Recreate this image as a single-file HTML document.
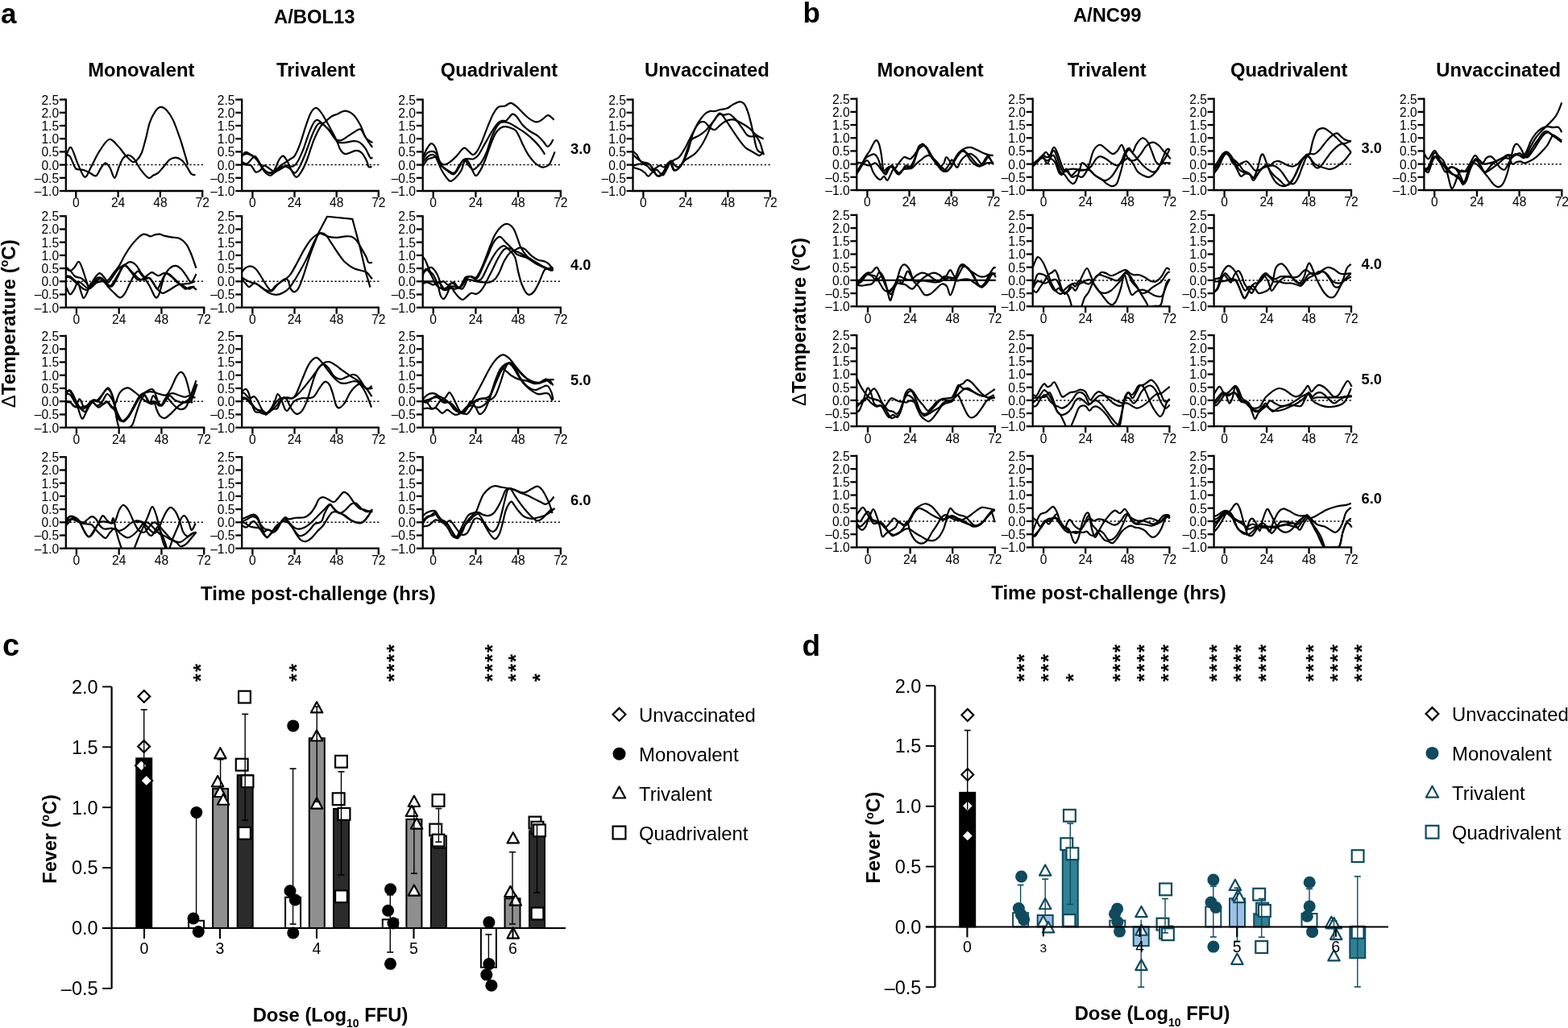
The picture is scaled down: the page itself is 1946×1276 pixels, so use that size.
<!DOCTYPE html>
<html><head><meta charset="utf-8"><title>Figure</title>
<style>html,body{margin:0;padding:0;background:#fff;}svg{display:block;}text{font-family:'Liberation Sans', Arial, Helvetica, sans-serif;fill:#000;}</style>
</head><body>
<svg width="1946" height="1276" viewBox="0 0 1946 1276">
<rect width="1946" height="1276" fill="#fff"/>
<text x="1" y="29.1" font-size="35" font-weight="bold" text-anchor="start">a</text>
<text x="390.3" y="29.1" font-size="23.8" font-weight="bold" text-anchor="middle">A/BOL13</text>
<text x="996.5" y="27.6" font-size="35" font-weight="bold" text-anchor="start">b</text>
<text x="1374.2" y="27.1" font-size="23.8" font-weight="bold" text-anchor="middle">A/NC99</text>
<text x="175.3" y="94.5" font-size="23.8" font-weight="bold" text-anchor="middle">Monovalent</text>
<text x="392" y="94.5" font-size="23.8" font-weight="bold" text-anchor="middle">Trivalent</text>
<text x="619.5" y="94.5" font-size="23.8" font-weight="bold" text-anchor="middle">Quadrivalent</text>
<text x="877.4" y="94.5" font-size="23.8" font-weight="bold" text-anchor="middle">Unvaccinated</text>
<text x="1154.5" y="95.3" font-size="23.8" font-weight="bold" text-anchor="middle">Monovalent</text>
<text x="1373.7" y="95.3" font-size="23.8" font-weight="bold" text-anchor="middle">Trivalent</text>
<text x="1599.7" y="95.3" font-size="23.8" font-weight="bold" text-anchor="middle">Quadrivalent</text>
<text x="1859.7" y="95.3" font-size="23.8" font-weight="bold" text-anchor="middle">Unvaccinated</text>
<text x="708" y="191.3" font-size="18.3" font-weight="bold" text-anchor="start">3.0</text>
<text x="708" y="334.8" font-size="18.3" font-weight="bold" text-anchor="start">4.0</text>
<text x="708" y="478" font-size="18.3" font-weight="bold" text-anchor="start">5.0</text>
<text x="708" y="626.6" font-size="18.3" font-weight="bold" text-anchor="start">6.0</text>
<text x="1689.5" y="190.1" font-size="18.3" font-weight="bold" text-anchor="start">3.0</text>
<text x="1689.5" y="334" font-size="18.3" font-weight="bold" text-anchor="start">4.0</text>
<text x="1689.5" y="476.8" font-size="18.3" font-weight="bold" text-anchor="start">5.0</text>
<text x="1689.5" y="625.4" font-size="18.3" font-weight="bold" text-anchor="start">6.0</text>
<text transform="translate(18.8 401.8) rotate(-90)" font-size="24.1" font-weight="bold" text-anchor="middle"><tspan font-weight="normal">Δ</tspan>Temperature (<tspan font-size="14" dy="-8.5">o</tspan><tspan dy="8.5">C)</tspan></text>
<text transform="translate(1000.2 399.5) rotate(-90)" font-size="24.1" font-weight="bold" text-anchor="middle"><tspan font-weight="normal">Δ</tspan>Temperature (<tspan font-size="14" dy="-8.5">o</tspan><tspan dy="8.5">C)</tspan></text>
<text x="394.9" y="744.6" font-size="24" font-weight="bold" text-anchor="middle">Time post-challenge (hrs)</text>
<text x="1376" y="743.6" font-size="24" font-weight="bold" text-anchor="middle">Time post-challenge (hrs)</text>
<line x1="81.8" y1="204.6" x2="252.2" y2="204.6" stroke="#000" stroke-width="1.5" stroke-dasharray="2.2 2.6"/>
<path d="M81.8 123.6V237H251.2" fill="none" stroke="#000" stroke-width="2.3" stroke-linejoin="miter" stroke-linecap="square"/>
<line x1="73.85" y1="237" x2="81.8" y2="237" stroke="#000" stroke-width="2.3"/>
<text transform="translate(73.1 242.9) scale(1 1.1)" font-size="15.6" text-anchor="end">–1.0</text>
<line x1="73.85" y1="220.8" x2="81.8" y2="220.8" stroke="#000" stroke-width="2.3"/>
<text transform="translate(73.1 226.7) scale(1 1.1)" font-size="15.6" text-anchor="end">–0.5</text>
<line x1="73.85" y1="204.6" x2="81.8" y2="204.6" stroke="#000" stroke-width="2.3"/>
<text transform="translate(73.1 210.5) scale(1 1.1)" font-size="15.6" text-anchor="end">0.0</text>
<line x1="73.85" y1="188.4" x2="81.8" y2="188.4" stroke="#000" stroke-width="2.3"/>
<text transform="translate(73.1 194.3) scale(1 1.1)" font-size="15.6" text-anchor="end">0.5</text>
<line x1="73.85" y1="172.2" x2="81.8" y2="172.2" stroke="#000" stroke-width="2.3"/>
<text transform="translate(73.1 178.1) scale(1 1.1)" font-size="15.6" text-anchor="end">1.0</text>
<line x1="73.85" y1="156" x2="81.8" y2="156" stroke="#000" stroke-width="2.3"/>
<text transform="translate(73.1 161.9) scale(1 1.1)" font-size="15.6" text-anchor="end">1.5</text>
<line x1="73.85" y1="139.8" x2="81.8" y2="139.8" stroke="#000" stroke-width="2.3"/>
<text transform="translate(73.1 145.7) scale(1 1.1)" font-size="15.6" text-anchor="end">2.0</text>
<line x1="73.85" y1="123.6" x2="81.8" y2="123.6" stroke="#000" stroke-width="2.3"/>
<text transform="translate(73.1 129.5) scale(1 1.1)" font-size="15.6" text-anchor="end">2.5</text>
<line x1="94.3" y1="237" x2="94.3" y2="244.95" stroke="#000" stroke-width="2.3"/>
<text transform="translate(94.3 257.3) scale(1 1.1)" font-size="15.6" text-anchor="middle">0</text>
<line x1="146.6" y1="237" x2="146.6" y2="244.95" stroke="#000" stroke-width="2.3"/>
<text transform="translate(146.6 257.3) scale(1 1.1)" font-size="15.6" text-anchor="middle">24</text>
<line x1="198.9" y1="237" x2="198.9" y2="244.95" stroke="#000" stroke-width="2.3"/>
<text transform="translate(198.9 257.3) scale(1 1.1)" font-size="15.6" text-anchor="middle">48</text>
<line x1="251.2" y1="237" x2="251.2" y2="244.95" stroke="#000" stroke-width="2.3"/>
<text transform="translate(251.2 257.3) scale(1 1.1)" font-size="15.6" text-anchor="middle">72</text>
<clipPath id="c1"><rect x="81.8" y="83.6" width="189.4" height="153.4"/></clipPath>
<g clip-path="url(#c1)" fill="none" stroke="#000" stroke-width="2.2" stroke-linejoin="round">
<path d="M81.11 197.19C82.22 194.79 85.22 181.78 87.79 182.8C90.36 183.83 93.62 197.19 96.53 203.36C99.44 209.53 102.52 219.12 105.26 219.8C108 220.49 109.97 212.78 112.97 207.47C115.97 202.16 119.48 193.68 123.25 187.94C127.02 182.2 131.64 174.07 135.58 173.04C139.52 172.01 143.63 178.61 146.89 181.78C150.14 184.94 152.2 188.88 155.11 192.05C158.02 195.22 161.96 199.59 164.36 200.79C166.76 201.99 167.61 201.05 169.5 199.25C171.38 197.45 173.78 194.45 175.66 190C177.55 185.54 179.09 178.86 180.8 172.53C182.52 166.19 183.89 157.8 185.94 151.97C188 146.15 190.91 140.75 193.14 137.58C195.36 134.41 197.08 133.13 199.3 132.96C201.53 132.79 203.93 133.9 206.5 136.55C209.07 139.21 211.98 143.24 214.72 148.89C217.46 154.54 220.71 164.13 222.94 170.47C225.17 176.81 226.37 181.26 228.08 186.91C229.79 192.57 232.36 201.47 233.22 204.39"/>
<path d="M80.6 192.05C81.62 192.4 84.62 191.37 86.76 194.11C88.9 196.85 91.47 205.79 93.44 208.5C95.41 211.2 96.87 209.92 98.58 210.35C100.3 210.78 101.67 210.43 103.72 211.07C105.78 211.7 108.35 212.95 110.92 214.15C113.49 215.35 116.74 219.2 119.14 218.26C121.54 217.32 123.33 211.15 125.3 208.5C127.27 205.84 129.07 202.33 130.96 202.33C132.84 202.33 134.73 205.41 136.61 208.5C138.49 211.58 140.38 221.17 142.26 220.83C144.15 220.49 146.12 210.55 147.91 206.44C149.71 202.33 151.17 198.48 153.05 196.16C154.94 193.85 156.99 192.4 159.22 192.57C161.45 192.74 163.84 194.19 166.41 197.19C168.98 200.19 171.64 206.61 174.64 210.55C177.63 214.49 181.83 219.63 184.4 220.83C186.97 222.03 188.08 218.77 190.05 217.75C192.02 216.72 193.99 216.55 196.22 214.66C198.45 212.78 201.02 209.18 203.41 206.44C205.81 203.7 208.12 200.02 210.61 198.22C213.09 196.42 215.75 195.48 218.32 195.65C220.88 195.82 223.71 197.28 226.02 199.25C228.34 201.22 230.31 204.73 232.19 207.47C234.07 210.21 235.62 214.06 237.33 215.69C239.04 217.32 241.61 216.98 242.47 217.23"/>
</g>
<line x1="300.2" y1="204.6" x2="470.8" y2="204.6" stroke="#000" stroke-width="1.5" stroke-dasharray="2.2 2.6"/>
<path d="M300.2 123.6V237H469.8" fill="none" stroke="#000" stroke-width="2.3" stroke-linejoin="miter" stroke-linecap="square"/>
<line x1="292.25" y1="237" x2="300.2" y2="237" stroke="#000" stroke-width="2.3"/>
<text transform="translate(291.5 242.9) scale(1 1.1)" font-size="15.6" text-anchor="end">–1.0</text>
<line x1="292.25" y1="220.8" x2="300.2" y2="220.8" stroke="#000" stroke-width="2.3"/>
<text transform="translate(291.5 226.7) scale(1 1.1)" font-size="15.6" text-anchor="end">–0.5</text>
<line x1="292.25" y1="204.6" x2="300.2" y2="204.6" stroke="#000" stroke-width="2.3"/>
<text transform="translate(291.5 210.5) scale(1 1.1)" font-size="15.6" text-anchor="end">0.0</text>
<line x1="292.25" y1="188.4" x2="300.2" y2="188.4" stroke="#000" stroke-width="2.3"/>
<text transform="translate(291.5 194.3) scale(1 1.1)" font-size="15.6" text-anchor="end">0.5</text>
<line x1="292.25" y1="172.2" x2="300.2" y2="172.2" stroke="#000" stroke-width="2.3"/>
<text transform="translate(291.5 178.1) scale(1 1.1)" font-size="15.6" text-anchor="end">1.0</text>
<line x1="292.25" y1="156" x2="300.2" y2="156" stroke="#000" stroke-width="2.3"/>
<text transform="translate(291.5 161.9) scale(1 1.1)" font-size="15.6" text-anchor="end">1.5</text>
<line x1="292.25" y1="139.8" x2="300.2" y2="139.8" stroke="#000" stroke-width="2.3"/>
<text transform="translate(291.5 145.7) scale(1 1.1)" font-size="15.6" text-anchor="end">2.0</text>
<line x1="292.25" y1="123.6" x2="300.2" y2="123.6" stroke="#000" stroke-width="2.3"/>
<text transform="translate(291.5 129.5) scale(1 1.1)" font-size="15.6" text-anchor="end">2.5</text>
<line x1="313.4" y1="237" x2="313.4" y2="244.95" stroke="#000" stroke-width="2.3"/>
<text transform="translate(313.4 257.3) scale(1 1.1)" font-size="15.6" text-anchor="middle">0</text>
<line x1="365.53" y1="237" x2="365.53" y2="244.95" stroke="#000" stroke-width="2.3"/>
<text transform="translate(365.53 257.3) scale(1 1.1)" font-size="15.6" text-anchor="middle">24</text>
<line x1="417.67" y1="237" x2="417.67" y2="244.95" stroke="#000" stroke-width="2.3"/>
<text transform="translate(417.67 257.3) scale(1 1.1)" font-size="15.6" text-anchor="middle">48</text>
<line x1="469.8" y1="237" x2="469.8" y2="244.95" stroke="#000" stroke-width="2.3"/>
<text transform="translate(469.8 257.3) scale(1 1.1)" font-size="15.6" text-anchor="middle">72</text>
<clipPath id="c2"><rect x="300.2" y="83.6" width="189.6" height="153.4"/></clipPath>
<g clip-path="url(#c2)" fill="none" stroke="#000" stroke-width="2.2" stroke-linejoin="round">
<path d="M298.08 198.22C299.11 196.68 302.02 190 304.25 188.97C306.48 187.94 309.05 190.68 311.44 192.05C313.84 193.42 316.24 194.45 318.64 197.19C321.04 199.93 323.26 205.59 325.83 208.5C328.4 211.41 331.49 214.15 334.05 214.66C336.62 215.18 338.85 213.12 341.25 211.58C343.65 210.04 346.22 207.13 348.44 205.41C350.67 203.7 352.55 202.67 354.61 201.3C356.66 199.93 358.89 198.56 360.78 197.19C362.66 195.82 364.03 195.99 365.91 193.08C367.8 190.17 369.85 185.72 372.08 179.72C374.31 173.73 377.05 163.62 379.28 157.11C381.5 150.6 383.39 144.52 385.44 140.67C387.5 136.81 389.55 134.33 391.61 133.99C393.66 133.64 395.38 135.61 397.77 138.61C400.17 141.61 403.43 147.52 406 151.97C408.57 156.42 411.14 161.39 413.19 165.33C415.25 169.27 416.79 172.18 418.33 175.61C419.87 179.04 420.73 183.32 422.44 185.89C424.15 188.46 425.35 190.85 428.61 191.03C431.86 191.2 438.54 187.09 441.97 186.91C445.39 186.74 446.94 187.77 449.16 190C451.39 192.22 453.96 197.45 455.33 200.28C456.7 203.1 456.36 205.84 457.38 206.96C458.41 208.07 460.81 206.96 461.5 206.96"/>
<path d="M298.08 194.11C299.28 193.6 302.88 191.2 305.28 191.03C307.68 190.85 310.24 191.88 312.47 193.08C314.7 194.28 316.58 195.82 318.64 198.22C320.69 200.62 322.75 204.9 324.8 207.47C326.86 210.04 328.74 212.44 330.97 213.64C333.2 214.84 335.77 215.01 338.17 214.66C340.56 214.32 343.3 212.61 345.36 211.58C347.42 210.55 348.61 209.53 350.5 208.5C352.38 207.47 354.44 205.76 356.66 205.41C358.89 205.07 361.8 207.13 363.86 206.44C365.91 205.76 366.94 204.73 369 201.3C371.05 197.88 373.79 191.88 376.19 185.89C378.59 179.89 381.16 170.98 383.39 165.33C385.61 159.68 387.84 154.71 389.55 151.97C391.27 149.23 391.95 148.72 393.66 148.89C395.38 149.06 397.43 150.94 399.83 153C402.23 155.05 405.31 157.97 408.05 161.22C410.79 164.48 413.71 170.39 416.27 172.53C418.84 174.67 420.73 174.75 423.47 174.07C426.21 173.38 429.12 170.64 432.72 168.42C436.32 166.19 442.31 161.73 445.05 160.71C447.79 159.68 447.62 160.45 449.16 162.25C450.7 164.05 452.07 169.01 454.3 171.5C456.53 173.98 461.15 176.21 462.52 177.15"/>
<path d="M299.11 200.28C300.31 200.79 304.25 203.7 306.31 203.36C308.36 203.02 309.73 199.76 311.44 198.22C313.16 196.68 314.87 193.6 316.58 194.11C318.3 194.62 319.84 198.22 321.72 201.3C323.61 204.39 325.66 209.87 327.89 212.61C330.11 215.35 333.03 217.4 335.08 217.75C337.14 218.09 338.34 216.21 340.22 214.66C342.11 213.12 344.33 209.87 346.39 208.5C348.44 207.13 350.5 206.44 352.55 206.44C354.61 206.44 356.49 207.13 358.72 208.5C360.95 209.87 363.69 215.01 365.91 214.66C368.14 214.32 369.85 210.55 372.08 206.44C374.31 202.33 376.71 196.51 379.28 190C381.84 183.49 385.1 173.21 387.5 167.39C389.9 161.56 391.95 157.45 393.66 155.05C395.38 152.66 396.23 152.83 397.77 153C399.32 153.17 400.86 154.37 402.91 156.08C404.97 157.8 407.54 160.02 410.11 163.28C412.68 166.53 415.59 173.3 418.33 175.61C421.07 177.92 423.13 177.24 426.55 177.15C429.98 177.07 435.63 175.18 438.88 175.1C442.14 175.01 443.68 175.18 446.08 176.64C448.48 178.09 451.05 180.66 453.27 183.83C455.5 187 457.9 193.68 459.44 195.65C460.98 197.62 462.01 195.65 462.52 195.65"/>
<path d="M298.08 201.3C299.11 201.82 302.02 203.7 304.25 204.39C306.48 205.07 309.22 203.87 311.44 205.41C313.67 206.96 315.55 212.78 317.61 213.64C319.67 214.49 322.06 211.92 323.78 210.55C325.49 209.18 325.83 205.41 327.89 205.41C329.94 205.41 334.05 209.53 336.11 210.55C338.17 211.58 338.51 213.64 340.22 211.58C341.93 209.53 344.5 201.22 346.39 198.22C348.27 195.22 349.81 193.25 351.53 193.6C353.24 193.94 354.95 197.28 356.66 200.28C358.38 203.27 360.01 208.33 361.8 211.58C363.6 214.84 365.57 219.29 367.46 219.8C369.34 220.32 370.97 217.92 373.11 214.66C375.25 211.41 377.56 207.13 380.3 200.28C383.04 193.42 386.64 180.75 389.55 173.55C392.46 166.36 395.38 160.88 397.77 157.11C400.17 153.34 401.71 153 403.94 150.94C406.17 148.89 408.74 146.32 411.14 144.78C413.53 143.24 415.42 142.89 418.33 141.69C421.24 140.49 425.18 137.41 428.61 137.58C432.03 137.75 435.8 139.81 438.88 142.72C441.97 145.63 444.88 150.94 447.11 155.05C449.33 159.17 450.7 164.13 452.25 167.39C453.79 170.64 454.73 172.01 456.36 174.58C457.98 177.15 461.07 181.43 462.01 182.8"/>
</g>
<line x1="524.7" y1="204.6" x2="696.8" y2="204.6" stroke="#000" stroke-width="1.5" stroke-dasharray="2.2 2.6"/>
<path d="M524.7 123.6V237H695.8" fill="none" stroke="#000" stroke-width="2.3" stroke-linejoin="miter" stroke-linecap="square"/>
<line x1="516.75" y1="237" x2="524.7" y2="237" stroke="#000" stroke-width="2.3"/>
<text transform="translate(516 242.9) scale(1 1.1)" font-size="15.6" text-anchor="end">–1.0</text>
<line x1="516.75" y1="220.8" x2="524.7" y2="220.8" stroke="#000" stroke-width="2.3"/>
<text transform="translate(516 226.7) scale(1 1.1)" font-size="15.6" text-anchor="end">–0.5</text>
<line x1="516.75" y1="204.6" x2="524.7" y2="204.6" stroke="#000" stroke-width="2.3"/>
<text transform="translate(516 210.5) scale(1 1.1)" font-size="15.6" text-anchor="end">0.0</text>
<line x1="516.75" y1="188.4" x2="524.7" y2="188.4" stroke="#000" stroke-width="2.3"/>
<text transform="translate(516 194.3) scale(1 1.1)" font-size="15.6" text-anchor="end">0.5</text>
<line x1="516.75" y1="172.2" x2="524.7" y2="172.2" stroke="#000" stroke-width="2.3"/>
<text transform="translate(516 178.1) scale(1 1.1)" font-size="15.6" text-anchor="end">1.0</text>
<line x1="516.75" y1="156" x2="524.7" y2="156" stroke="#000" stroke-width="2.3"/>
<text transform="translate(516 161.9) scale(1 1.1)" font-size="15.6" text-anchor="end">1.5</text>
<line x1="516.75" y1="139.8" x2="524.7" y2="139.8" stroke="#000" stroke-width="2.3"/>
<text transform="translate(516 145.7) scale(1 1.1)" font-size="15.6" text-anchor="end">2.0</text>
<line x1="516.75" y1="123.6" x2="524.7" y2="123.6" stroke="#000" stroke-width="2.3"/>
<text transform="translate(516 129.5) scale(1 1.1)" font-size="15.6" text-anchor="end">2.5</text>
<line x1="537.7" y1="237" x2="537.7" y2="244.95" stroke="#000" stroke-width="2.3"/>
<text transform="translate(537.7 257.3) scale(1 1.1)" font-size="15.6" text-anchor="middle">0</text>
<line x1="590.4" y1="237" x2="590.4" y2="244.95" stroke="#000" stroke-width="2.3"/>
<text transform="translate(590.4 257.3) scale(1 1.1)" font-size="15.6" text-anchor="middle">24</text>
<line x1="643.1" y1="237" x2="643.1" y2="244.95" stroke="#000" stroke-width="2.3"/>
<text transform="translate(643.1 257.3) scale(1 1.1)" font-size="15.6" text-anchor="middle">48</text>
<line x1="695.8" y1="237" x2="695.8" y2="244.95" stroke="#000" stroke-width="2.3"/>
<text transform="translate(695.8 257.3) scale(1 1.1)" font-size="15.6" text-anchor="middle">72</text>
<clipPath id="c3"><rect x="524.7" y="83.6" width="191.1" height="153.4"/></clipPath>
<g clip-path="url(#c3)" fill="none" stroke="#000" stroke-width="2.2" stroke-linejoin="round">
<path d="M524.62 195.14C525.57 193.25 528.48 186.66 530.28 183.83C532.08 181.01 533.7 178.18 535.42 178.18C537.13 178.18 538.84 180.15 540.55 183.83C542.27 187.51 543.98 196.85 545.69 200.28C547.41 203.7 548.78 204.22 550.83 204.39C552.89 204.56 555.46 203.02 558.03 201.3C560.6 199.59 563.34 197.02 566.25 194.11C569.16 191.2 573.1 185.03 575.5 183.83C577.9 182.63 578.75 185.54 580.64 186.91C582.52 188.29 584.92 191.88 586.8 192.05C588.69 192.22 590.06 190.68 591.94 187.94C593.83 185.2 595.88 180.75 598.11 175.61C600.34 170.47 603.08 162.59 605.3 157.11C607.53 151.63 609.41 146.66 611.47 142.72C613.53 138.78 615.75 135.27 617.64 133.47C619.52 131.67 621.23 132.27 622.77 131.93C624.32 131.59 625 132.1 626.89 131.42C628.77 130.73 631.68 127.65 634.08 127.82C636.48 127.99 638.71 130.3 641.27 132.44C643.84 134.59 646.76 138.1 649.5 140.67C652.24 143.24 654.98 146.06 657.72 147.86C660.46 149.66 663.54 151.29 665.94 151.46C668.34 151.63 669.88 150.26 672.11 148.89C674.33 147.52 677.42 143.92 679.3 143.24C681.19 142.55 682.04 143.83 683.41 144.78C684.78 145.72 686.84 148.2 687.52 148.89"/>
<path d="M524.62 198.22C525.57 196.85 528.31 191.71 530.28 190C532.25 188.29 534.56 187.77 536.44 187.94C538.33 188.11 539.87 188.29 541.58 191.03C543.3 193.77 544.84 201.3 546.72 204.39C548.61 207.47 550.15 207.81 552.89 209.53C555.63 211.24 560.42 215.18 563.17 214.66C565.91 214.15 567.28 209.18 569.33 206.44C571.39 203.7 573.44 199.76 575.5 198.22C577.55 196.68 579.61 197.36 581.66 197.19C583.72 197.02 585.78 198.05 587.83 197.19C589.89 196.34 591.6 195.31 594 192.05C596.4 188.8 599.48 182.46 602.22 177.66C604.96 172.87 607.87 167.39 610.44 163.28C613.01 159.17 615.58 155.23 617.64 153C619.69 150.77 621.06 150.43 622.77 149.92C624.49 149.4 626.54 150.43 627.91 149.92C629.28 149.4 629.63 148.2 631 146.83C632.37 145.46 634.42 142.04 636.14 141.69C637.85 141.35 639.22 142.55 641.27 144.78C643.33 147 645.9 152.14 648.47 155.05C651.04 157.97 653.61 160.02 656.69 162.25C659.77 164.48 664.06 166.19 666.97 168.42C669.88 170.64 672.11 173.38 674.16 175.61C676.22 177.84 677.76 181.26 679.3 181.78C680.84 182.29 682.21 180.15 683.41 178.69C684.61 177.24 685.98 173.98 686.5 173.04"/>
<path d="M524.62 201.3C525.74 200.1 529.16 195.65 531.31 194.11C533.45 192.57 535.42 191.54 537.47 192.05C539.53 192.57 541.75 194.79 543.64 197.19C545.52 199.59 546.72 203.87 548.78 206.44C550.83 209.01 553.57 210.98 555.97 212.61C558.37 214.24 560.94 216.89 563.17 216.21C565.39 215.52 567.28 211.5 569.33 208.5C571.39 205.5 573.44 198.73 575.5 198.22C577.55 197.71 579.78 203.36 581.66 205.41C583.55 207.47 585.09 210.21 586.8 210.55C588.52 210.9 590.06 209.18 591.94 207.47C593.83 205.76 596.05 203.53 598.11 200.28C600.16 197.02 602.22 193.08 604.28 187.94C606.33 182.8 608.39 174.58 610.44 169.44C612.5 164.3 614.72 160.02 616.61 157.11C618.49 154.2 619.35 152.74 621.75 151.97C624.15 151.2 627.74 151.46 631 152.49C634.25 153.51 637.51 155.83 641.27 158.14C645.04 160.45 649.84 163.45 653.61 166.36C657.38 169.27 660.97 172.7 663.88 175.61C666.8 178.52 669.02 181.18 671.08 183.83C673.13 186.49 675.36 190.25 676.22 191.54"/>
<path d="M524.62 206.44C525.57 205.07 528.48 199.93 530.28 198.22C532.08 196.51 533.7 196.68 535.42 196.16C537.13 195.65 539.18 194.28 540.55 195.14C541.93 195.99 542.44 198.73 543.64 201.3C544.84 203.87 546.21 207.64 547.75 210.55C549.29 213.46 551 216.38 552.89 218.77C554.77 221.17 556.83 224.77 559.05 224.94C561.28 225.11 564.02 222.03 566.25 219.8C568.48 217.58 570.53 215.18 572.42 211.58C574.3 207.98 575.84 199.59 577.55 198.22C579.27 196.85 580.64 200.1 582.69 203.36C584.75 206.61 587.66 216.38 589.89 217.75C592.11 219.12 594 214.84 596.05 211.58C598.11 208.33 600.16 203.36 602.22 198.22C604.28 193.08 606.33 186.06 608.39 180.75C610.44 175.44 612.5 169.96 614.55 166.36C616.61 162.76 618.66 160.71 620.72 159.17C622.77 157.62 624.49 157.11 626.89 157.11C629.28 157.11 632.88 158.31 635.11 159.17C637.33 160.02 638.71 160.54 640.25 162.25C641.79 163.96 642.82 166.36 644.36 169.44C645.9 172.53 647.61 176.98 649.5 180.75C651.38 184.52 653.26 188.46 655.66 192.05C658.06 195.65 661.49 199.93 663.88 202.33C666.28 204.73 668.17 205.59 670.05 206.44C671.94 207.3 673.31 207.81 675.19 207.47C677.07 207.13 679.64 206.27 681.36 204.39C683.07 202.5 684.27 198.82 685.47 196.16C686.67 193.51 688.04 189.74 688.55 188.46"/>
</g>
<line x1="785.5" y1="204.6" x2="956.9" y2="204.6" stroke="#000" stroke-width="1.5" stroke-dasharray="2.2 2.6"/>
<path d="M785.5 123.6V237H955.9" fill="none" stroke="#000" stroke-width="2.3" stroke-linejoin="miter" stroke-linecap="square"/>
<line x1="777.55" y1="237" x2="785.5" y2="237" stroke="#000" stroke-width="2.3"/>
<text transform="translate(776.8 242.9) scale(1 1.1)" font-size="15.6" text-anchor="end">–1.0</text>
<line x1="777.55" y1="220.8" x2="785.5" y2="220.8" stroke="#000" stroke-width="2.3"/>
<text transform="translate(776.8 226.7) scale(1 1.1)" font-size="15.6" text-anchor="end">–0.5</text>
<line x1="777.55" y1="204.6" x2="785.5" y2="204.6" stroke="#000" stroke-width="2.3"/>
<text transform="translate(776.8 210.5) scale(1 1.1)" font-size="15.6" text-anchor="end">0.0</text>
<line x1="777.55" y1="188.4" x2="785.5" y2="188.4" stroke="#000" stroke-width="2.3"/>
<text transform="translate(776.8 194.3) scale(1 1.1)" font-size="15.6" text-anchor="end">0.5</text>
<line x1="777.55" y1="172.2" x2="785.5" y2="172.2" stroke="#000" stroke-width="2.3"/>
<text transform="translate(776.8 178.1) scale(1 1.1)" font-size="15.6" text-anchor="end">1.0</text>
<line x1="777.55" y1="156" x2="785.5" y2="156" stroke="#000" stroke-width="2.3"/>
<text transform="translate(776.8 161.9) scale(1 1.1)" font-size="15.6" text-anchor="end">1.5</text>
<line x1="777.55" y1="139.8" x2="785.5" y2="139.8" stroke="#000" stroke-width="2.3"/>
<text transform="translate(776.8 145.7) scale(1 1.1)" font-size="15.6" text-anchor="end">2.0</text>
<line x1="777.55" y1="123.6" x2="785.5" y2="123.6" stroke="#000" stroke-width="2.3"/>
<text transform="translate(776.8 129.5) scale(1 1.1)" font-size="15.6" text-anchor="end">2.5</text>
<line x1="798.4" y1="237" x2="798.4" y2="244.95" stroke="#000" stroke-width="2.3"/>
<text transform="translate(798.4 257.3) scale(1 1.1)" font-size="15.6" text-anchor="middle">0</text>
<line x1="850.9" y1="237" x2="850.9" y2="244.95" stroke="#000" stroke-width="2.3"/>
<text transform="translate(850.9 257.3) scale(1 1.1)" font-size="15.6" text-anchor="middle">24</text>
<line x1="903.4" y1="237" x2="903.4" y2="244.95" stroke="#000" stroke-width="2.3"/>
<text transform="translate(903.4 257.3) scale(1 1.1)" font-size="15.6" text-anchor="middle">48</text>
<line x1="955.9" y1="237" x2="955.9" y2="244.95" stroke="#000" stroke-width="2.3"/>
<text transform="translate(955.9 257.3) scale(1 1.1)" font-size="15.6" text-anchor="middle">72</text>
<clipPath id="c4"><rect x="785.5" y="83.6" width="190.4" height="153.4"/></clipPath>
<g clip-path="url(#c4)" fill="none" stroke="#000" stroke-width="2.2" stroke-linejoin="round">
<path d="M785.65 187.94C786.42 188.63 788.65 190 790.28 192.05C791.9 194.11 793.02 198.48 795.42 200.28C797.81 202.07 802.27 201.47 804.67 202.84C807.06 204.22 807.92 205.93 809.8 208.5C811.69 211.07 813.74 217.4 815.97 218.26C818.2 219.12 820.94 216.12 823.17 213.64C825.39 211.15 827.28 205.76 829.33 203.36C831.39 200.96 833.27 200.62 835.5 199.25C837.73 197.88 840.64 197.02 842.69 195.14C844.75 193.25 846.12 190.68 847.83 187.94C849.54 185.2 850.91 182.63 852.97 178.69C855.03 174.75 857.77 168.93 860.16 164.3C862.56 159.68 864.96 154.71 867.36 150.94C869.76 147.18 872.33 143.83 874.55 141.69C876.78 139.55 878.66 138.7 880.72 138.1C882.77 137.5 884.66 138.44 886.89 138.1C889.11 137.75 891.51 136.64 894.08 136.04C896.65 135.44 899.73 135.53 902.3 134.5C904.87 133.47 906.93 131.24 909.5 129.87C912.07 128.5 915.32 126.36 917.72 126.28C920.12 126.19 922 126.79 923.88 129.36C925.77 131.93 927.31 136.21 929.02 141.69C930.74 147.18 932.62 155.57 934.16 162.25C935.7 168.93 937.07 177.49 938.27 181.78C939.47 186.06 939.82 186.57 941.36 187.94C942.9 189.31 946.5 189.66 947.52 190"/>
<path d="M784.11 206.44C785.31 206.01 789.08 204.39 791.31 203.87C793.53 203.36 795.42 202.93 797.47 203.36C799.53 203.79 801.75 205.07 803.64 206.44C805.52 207.81 807.06 211.24 808.78 211.58C810.49 211.92 812.2 209.53 813.92 208.5C815.63 207.47 817.34 205.59 819.05 205.41C820.77 205.24 822.48 207.98 824.19 207.47C825.91 206.96 827.79 203.62 829.33 202.33C830.87 201.05 831.9 199.08 833.44 199.76C834.98 200.45 836.87 205.33 838.58 206.44C840.29 207.56 842.18 207.47 843.72 206.44C845.26 205.41 846.29 203.7 847.83 200.28C849.37 196.85 851.26 190.34 852.97 185.89C854.68 181.43 855.71 176.47 858.11 173.55C860.51 170.64 864.45 170.3 867.36 168.42C870.27 166.53 873.18 164.48 875.58 162.25C877.98 160.02 879.86 157.28 881.75 155.05C883.63 152.83 885 151.29 886.89 148.89C888.77 146.49 891 141.01 893.05 140.67C895.11 140.32 896.48 143.24 899.22 146.83C901.96 150.43 906.24 157.45 909.5 162.25C912.75 167.04 916.01 172.01 918.75 175.61C921.49 179.21 923.54 181.78 925.94 183.83C928.34 185.89 931.08 186.74 933.13 187.94C935.19 189.14 936.73 190.17 938.27 191.03C939.82 191.88 940.84 193.42 942.38 193.08C943.93 192.74 946.67 189.66 947.52 188.97"/>
<path d="M784.11 207.47C785.82 207.98 791.65 209.35 794.39 210.55C797.13 211.75 798.84 213.29 800.55 214.66C802.27 216.03 803.12 218.95 804.67 218.77C806.21 218.6 808.09 215.01 809.8 213.64C811.52 212.27 813.4 210.38 814.94 210.55C816.49 210.72 817.68 213.55 819.05 214.66C820.42 215.78 821.62 218.26 823.17 217.23C824.71 216.21 826.76 211.15 828.3 208.5C829.85 205.84 831.04 200.96 832.42 201.3C833.79 201.65 834.98 209.18 836.53 210.55C838.07 211.92 839.78 211.07 841.66 209.53C843.55 207.98 845.78 205.07 847.83 201.3C849.89 197.53 851.94 192.91 854 186.91C856.05 180.92 857.94 170.98 860.16 165.33C862.39 159.68 864.96 155.31 867.36 153C869.76 150.69 872.5 150.77 874.55 151.46C876.61 152.14 878.15 155.65 879.69 157.11C881.23 158.57 882.43 159.59 883.8 160.19C885.17 160.79 886.2 161.56 887.91 160.71C889.63 159.85 891.85 156.85 894.08 155.05C896.31 153.26 898.71 151.03 901.27 149.92C903.84 148.8 906.58 148.03 909.5 148.37C912.41 148.72 915.32 150.17 918.75 151.97C922.17 153.77 926.8 156.6 930.05 159.17C933.31 161.73 935.36 165.16 938.27 167.39C941.19 169.61 945.98 171.67 947.52 172.53"/>
<path d="M785.65 192.05C786.77 193.08 789.85 196.34 792.33 198.22C794.82 200.1 798.16 202.33 800.55 203.36C802.95 204.39 805.01 202.84 806.72 204.39C808.43 205.93 809.12 210.21 810.83 212.61C812.55 215.01 815.11 218.26 817 218.77C818.88 219.29 820.42 217.75 822.14 215.69C823.85 213.64 825.73 208.84 827.28 206.44C828.82 204.04 829.85 200.45 831.39 201.3C832.93 202.16 834.64 210.38 836.53 211.58C838.41 212.78 840.47 210.55 842.69 208.5C844.92 206.44 846.63 202.16 849.89 199.25C853.14 196.34 858.79 194.11 862.22 191.03C865.65 187.94 867.87 184.69 870.44 180.75C873.01 176.81 875.58 171.67 877.64 167.39C879.69 163.11 881.06 158.48 882.77 155.05C884.49 151.63 886.2 149.06 887.91 146.83C889.63 144.61 891.34 142.38 893.05 141.69C894.77 141.01 896.14 142.72 898.19 142.72C900.25 142.72 902.99 140.84 905.39 141.69C907.78 142.55 910.18 145.29 912.58 147.86C914.98 150.43 917.38 153.86 919.77 157.11C922.17 160.36 924.91 165.33 926.97 167.39C929.02 169.44 930.22 169.1 932.11 169.44C933.99 169.79 936.39 168.07 938.27 169.44C940.16 170.81 942.04 174.58 943.41 177.66C944.78 180.75 945.72 185.54 946.5 187.94C947.27 190.34 947.78 191.37 948.04 192.05"/>
</g>
<line x1="81.8" y1="349.3" x2="254.2" y2="349.3" stroke="#000" stroke-width="1.5" stroke-dasharray="2.2 2.6"/>
<path d="M81.8 268.3V381.7H253.2" fill="none" stroke="#000" stroke-width="2.3" stroke-linejoin="miter" stroke-linecap="square"/>
<line x1="73.85" y1="381.7" x2="81.8" y2="381.7" stroke="#000" stroke-width="2.3"/>
<text transform="translate(73.1 387.6) scale(1 1.1)" font-size="15.6" text-anchor="end">–1.0</text>
<line x1="73.85" y1="365.5" x2="81.8" y2="365.5" stroke="#000" stroke-width="2.3"/>
<text transform="translate(73.1 371.4) scale(1 1.1)" font-size="15.6" text-anchor="end">–0.5</text>
<line x1="73.85" y1="349.3" x2="81.8" y2="349.3" stroke="#000" stroke-width="2.3"/>
<text transform="translate(73.1 355.2) scale(1 1.1)" font-size="15.6" text-anchor="end">0.0</text>
<line x1="73.85" y1="333.1" x2="81.8" y2="333.1" stroke="#000" stroke-width="2.3"/>
<text transform="translate(73.1 339) scale(1 1.1)" font-size="15.6" text-anchor="end">0.5</text>
<line x1="73.85" y1="316.9" x2="81.8" y2="316.9" stroke="#000" stroke-width="2.3"/>
<text transform="translate(73.1 322.8) scale(1 1.1)" font-size="15.6" text-anchor="end">1.0</text>
<line x1="73.85" y1="300.7" x2="81.8" y2="300.7" stroke="#000" stroke-width="2.3"/>
<text transform="translate(73.1 306.6) scale(1 1.1)" font-size="15.6" text-anchor="end">1.5</text>
<line x1="73.85" y1="284.5" x2="81.8" y2="284.5" stroke="#000" stroke-width="2.3"/>
<text transform="translate(73.1 290.4) scale(1 1.1)" font-size="15.6" text-anchor="end">2.0</text>
<line x1="73.85" y1="268.3" x2="81.8" y2="268.3" stroke="#000" stroke-width="2.3"/>
<text transform="translate(73.1 274.2) scale(1 1.1)" font-size="15.6" text-anchor="end">2.5</text>
<line x1="94.9" y1="381.7" x2="94.9" y2="389.65" stroke="#000" stroke-width="2.3"/>
<text transform="translate(94.9 402) scale(1 1.1)" font-size="15.6" text-anchor="middle">0</text>
<line x1="147.67" y1="381.7" x2="147.67" y2="389.65" stroke="#000" stroke-width="2.3"/>
<text transform="translate(147.67 402) scale(1 1.1)" font-size="15.6" text-anchor="middle">24</text>
<line x1="200.43" y1="381.7" x2="200.43" y2="389.65" stroke="#000" stroke-width="2.3"/>
<text transform="translate(200.43 402) scale(1 1.1)" font-size="15.6" text-anchor="middle">48</text>
<line x1="253.2" y1="381.7" x2="253.2" y2="389.65" stroke="#000" stroke-width="2.3"/>
<text transform="translate(253.2 402) scale(1 1.1)" font-size="15.6" text-anchor="middle">72</text>
<clipPath id="c5"><rect x="81.8" y="228.3" width="191.4" height="153.4"/></clipPath>
<g clip-path="url(#c5)" fill="none" stroke="#000" stroke-width="2.2" stroke-linejoin="round">
<path d="M80.08 329.89C81.28 330.91 85.05 333.83 87.28 336.05C89.5 338.28 91.22 341.71 93.44 343.25C95.67 344.79 98.41 344.1 100.64 345.3C102.87 346.5 104.92 348.39 106.8 350.44C108.69 352.5 109.72 357.64 111.94 357.64C114.17 357.64 117.42 351.98 120.17 350.44C122.91 348.9 125.99 348.9 128.39 348.39C130.79 347.87 132.5 348.9 134.55 347.36C136.61 345.82 138.49 342.05 140.72 339.14C142.95 336.22 145.52 333.66 147.91 329.89C150.31 326.12 152.54 320.81 155.11 316.53C157.68 312.24 160.59 307.79 163.33 304.19C166.07 300.6 169.15 297.17 171.55 294.94C173.95 292.72 176.01 291.43 177.72 290.83C179.43 290.23 180.29 290.92 181.83 291.35C183.37 291.77 185.26 293.4 186.97 293.4C188.68 293.4 190.22 291.81 192.11 291.35C193.99 290.88 196.22 290.37 198.27 290.63C200.33 290.88 202.04 292.25 204.44 292.89C206.84 293.52 209.58 293.92 212.66 294.43C215.75 294.94 219.86 294.52 222.94 295.97C226.02 297.43 228.76 299.91 231.16 303.17C233.56 306.42 235.27 310.53 237.33 315.5C239.38 320.47 242.47 330.06 243.5 332.97"/>
<path d="M80.08 331.94C81.28 332.63 85.22 336.05 87.28 336.05C89.33 336.05 90.7 333.83 92.42 331.94C94.13 330.06 96.01 324.75 97.55 324.75C99.1 324.75 100.12 328.17 101.67 331.94C103.21 335.71 105.26 343.08 106.8 347.36C108.35 351.64 109.37 357.64 110.92 357.64C112.46 357.64 114 350.44 116.05 347.36C118.11 344.28 121.02 339.65 123.25 339.14C125.48 338.62 127.53 342.39 129.42 344.28C131.3 346.16 132.67 350.78 134.55 350.44C136.44 350.1 138.66 344.96 140.72 342.22C142.78 339.48 144.49 336.22 146.89 334C149.29 331.77 152.54 328.35 155.11 328.86C157.68 329.37 159.91 334.17 162.3 337.08C164.7 339.99 167.44 344.62 169.5 346.33C171.55 348.04 172.92 347.7 174.64 347.36C176.35 347.02 178.06 345.47 179.77 344.28C181.49 343.08 183.37 341.19 184.91 340.16C186.46 339.14 187.14 337.77 189.02 338.11C190.91 338.45 193.82 342.05 196.22 342.22C198.62 342.39 201.36 339.48 203.41 339.14C205.47 338.79 206.84 339.31 208.55 340.16C210.26 341.02 211.64 342.39 213.69 344.28C215.75 346.16 218.66 349.76 220.88 351.47C223.11 353.18 224.82 353.35 227.05 354.55C229.28 355.75 232.19 358.32 234.25 358.66C236.3 359.01 237.76 356.44 239.38 356.61C241.01 356.78 243.24 359.18 244.01 359.69"/>
<path d="M80.08 352.5C80.6 353.53 81.97 356.52 83.17 358.66C84.37 360.81 85.74 365.34 87.28 365.34C88.82 365.34 90.87 361.15 92.42 358.66C93.96 356.18 95.16 349.76 96.53 350.44C97.9 351.13 99.44 359.52 100.64 362.77C101.84 366.03 102.52 369.8 103.72 369.97C104.92 370.14 106.29 366.89 107.83 363.8C109.37 360.72 110.74 353.7 112.97 351.47C115.2 349.24 118.62 350.78 121.19 350.44C123.76 350.1 126.16 348.39 128.39 349.41C130.61 350.44 132.5 354.38 134.55 356.61C136.61 358.84 138.32 360.63 140.72 362.77C143.12 364.92 146.54 369.28 148.94 369.46C151.34 369.63 153.05 366.8 155.11 363.8C157.16 360.81 159.22 355.41 161.28 351.47C163.33 347.53 165.73 342.65 167.44 340.16C169.15 337.68 170.18 336.4 171.55 336.57C172.92 336.74 174.12 339.39 175.66 341.19C177.21 342.99 179.09 344.96 180.8 347.36C182.52 349.76 184.06 352.15 185.94 355.58C187.83 359.01 190.57 365.69 192.11 367.91C193.65 370.14 194.16 369.8 195.19 368.94C196.22 368.08 196.9 366.89 198.27 362.77C199.64 358.66 201.53 349.07 203.41 344.28C205.3 339.48 207.18 336.4 209.58 334C211.98 331.6 215.23 329.89 217.8 329.89C220.37 329.89 222.77 331.94 225 334C227.22 336.05 229.11 339.48 231.16 342.22C233.22 344.96 235.27 350.78 237.33 350.44C239.38 350.1 242.47 341.88 243.5 340.16"/>
<path d="M81.11 342.22C82.14 342.39 85.05 342.05 87.28 343.25C89.5 344.45 92.42 348.22 94.47 349.41C96.53 350.61 97.55 349.24 99.61 350.44C101.67 351.64 104.75 355.41 106.8 356.61C108.86 357.81 109.72 359.52 111.94 357.64C114.17 355.75 117.77 347.36 120.17 345.3C122.56 343.25 124.11 344.1 126.33 345.3C128.56 346.5 131.47 350.78 133.53 352.5C135.58 354.21 136.78 356.61 138.66 355.58C140.55 354.55 142.6 350.27 144.83 346.33C147.06 342.39 149.63 335.37 152.03 331.94C154.42 328.52 157.16 326.8 159.22 325.78C161.28 324.75 162.65 325.09 164.36 325.78C166.07 326.46 167.78 327.83 169.5 329.89C171.21 331.94 172.92 335.71 174.64 338.11C176.35 340.51 177.89 343.08 179.77 344.28C181.66 345.47 183.89 343.59 185.94 345.3C188 347.02 190.05 351.81 192.11 354.55C194.16 357.29 196.56 360.21 198.27 361.75C199.99 363.29 200.33 364.15 202.39 363.8C204.44 363.46 207.52 361.4 210.61 359.69C213.69 357.98 217.8 354.72 220.88 353.53C223.97 352.33 226.54 352.84 229.11 352.5C231.68 352.15 234.25 351.98 236.3 351.47C238.36 350.96 240.58 349.76 241.44 349.41"/>
<path d="M80.08 344.28C81.11 344.28 84.19 343.42 86.25 344.28C88.31 345.13 90.53 347.87 92.42 349.41C94.3 350.96 95.67 351.98 97.55 353.53C99.44 355.07 101.84 357.64 103.72 358.66C105.61 359.69 106.8 360.72 108.86 359.69C110.92 358.66 113.66 354.72 116.05 352.5C118.45 350.27 120.85 346.84 123.25 346.33C125.65 345.82 128.56 347.87 130.44 349.41C132.33 350.96 133.18 354.9 134.55 355.58C135.92 356.27 136.61 356.09 138.66 353.53C140.72 350.96 144.49 344.1 146.89 340.16C149.29 336.22 151.17 331.26 153.05 329.89C154.94 328.52 156.31 330.57 158.19 331.94C160.08 333.31 162.13 335.88 164.36 338.11C166.59 340.34 169.33 343.76 171.55 345.3C173.78 346.84 175.49 347.36 177.72 347.36C179.95 347.36 182.86 344.79 184.91 345.3C186.97 345.82 188.34 348.22 190.05 350.44C191.77 352.67 193.48 358.84 195.19 358.66C196.9 358.49 198.45 352.67 200.33 349.41C202.21 346.16 204.1 339.99 206.5 339.14C208.89 338.28 211.98 342.05 214.72 344.28C217.46 346.5 220.37 350.1 222.94 352.5C225.51 354.9 228.08 357.98 230.13 358.66C232.19 359.35 233.39 357.12 235.27 356.61C237.16 356.09 240.41 355.75 241.44 355.58"/>
</g>
<line x1="300.2" y1="349.3" x2="470.8" y2="349.3" stroke="#000" stroke-width="1.5" stroke-dasharray="2.2 2.6"/>
<path d="M300.2 268.3V381.7H469.8" fill="none" stroke="#000" stroke-width="2.3" stroke-linejoin="miter" stroke-linecap="square"/>
<line x1="292.25" y1="381.7" x2="300.2" y2="381.7" stroke="#000" stroke-width="2.3"/>
<text transform="translate(291.5 387.6) scale(1 1.1)" font-size="15.6" text-anchor="end">–1.0</text>
<line x1="292.25" y1="365.5" x2="300.2" y2="365.5" stroke="#000" stroke-width="2.3"/>
<text transform="translate(291.5 371.4) scale(1 1.1)" font-size="15.6" text-anchor="end">–0.5</text>
<line x1="292.25" y1="349.3" x2="300.2" y2="349.3" stroke="#000" stroke-width="2.3"/>
<text transform="translate(291.5 355.2) scale(1 1.1)" font-size="15.6" text-anchor="end">0.0</text>
<line x1="292.25" y1="333.1" x2="300.2" y2="333.1" stroke="#000" stroke-width="2.3"/>
<text transform="translate(291.5 339) scale(1 1.1)" font-size="15.6" text-anchor="end">0.5</text>
<line x1="292.25" y1="316.9" x2="300.2" y2="316.9" stroke="#000" stroke-width="2.3"/>
<text transform="translate(291.5 322.8) scale(1 1.1)" font-size="15.6" text-anchor="end">1.0</text>
<line x1="292.25" y1="300.7" x2="300.2" y2="300.7" stroke="#000" stroke-width="2.3"/>
<text transform="translate(291.5 306.6) scale(1 1.1)" font-size="15.6" text-anchor="end">1.5</text>
<line x1="292.25" y1="284.5" x2="300.2" y2="284.5" stroke="#000" stroke-width="2.3"/>
<text transform="translate(291.5 290.4) scale(1 1.1)" font-size="15.6" text-anchor="end">2.0</text>
<line x1="292.25" y1="268.3" x2="300.2" y2="268.3" stroke="#000" stroke-width="2.3"/>
<text transform="translate(291.5 274.2) scale(1 1.1)" font-size="15.6" text-anchor="end">2.5</text>
<line x1="313.4" y1="381.7" x2="313.4" y2="389.65" stroke="#000" stroke-width="2.3"/>
<text transform="translate(313.4 402) scale(1 1.1)" font-size="15.6" text-anchor="middle">0</text>
<line x1="365.53" y1="381.7" x2="365.53" y2="389.65" stroke="#000" stroke-width="2.3"/>
<text transform="translate(365.53 402) scale(1 1.1)" font-size="15.6" text-anchor="middle">24</text>
<line x1="417.67" y1="381.7" x2="417.67" y2="389.65" stroke="#000" stroke-width="2.3"/>
<text transform="translate(417.67 402) scale(1 1.1)" font-size="15.6" text-anchor="middle">48</text>
<line x1="469.8" y1="381.7" x2="469.8" y2="389.65" stroke="#000" stroke-width="2.3"/>
<text transform="translate(469.8 402) scale(1 1.1)" font-size="15.6" text-anchor="middle">72</text>
<clipPath id="c6"><rect x="300.2" y="228.3" width="189.6" height="153.4"/></clipPath>
<g clip-path="url(#c6)" fill="none" stroke="#000" stroke-width="2.2" stroke-linejoin="round">
<path d="M298.08 341.71C298.6 342.65 299.97 345.56 301.17 347.36C302.37 349.16 303.91 351.04 305.28 352.5C306.65 353.95 307.68 356.27 309.39 356.09C311.1 355.92 313.5 351.73 315.55 351.47C317.61 351.21 319.49 353.18 321.72 354.55C323.95 355.92 326.35 358.58 328.92 359.69C331.49 360.81 334.57 362.26 337.14 361.23C339.71 360.21 341.59 356.01 344.33 353.53C347.07 351.04 351.35 347.19 353.58 346.33C355.81 345.47 356.49 346.33 357.69 348.39C358.89 350.44 359.41 356.35 360.78 358.66C362.15 360.98 364.2 362.6 365.91 362.26C367.63 361.92 369.17 360.29 371.05 356.61C372.94 352.93 374.99 346.67 377.22 340.16C379.45 333.66 382.19 324.06 384.41 317.55C386.64 311.04 388.78 305.82 390.58 301.11C392.38 296.4 394.43 291.26 395.21 289.29L406 268.74L437.34 271.82L447.11 308.3L454.3 339.14L459.44 356.61"/>
<path d="M299.11 339.14C299.97 338.11 302.37 334.43 304.25 332.97C306.13 331.51 308.36 330.4 310.42 330.4C312.47 330.4 314.53 331.17 316.58 332.97C318.64 334.77 320.69 338.11 322.75 341.19C324.8 344.28 326.69 348.3 328.92 351.47C331.14 354.64 333.88 359.69 336.11 360.21C338.34 360.72 340.05 356.35 342.28 354.55C344.5 352.75 347.42 350.78 349.47 349.41C351.53 348.04 352.73 347.87 354.61 346.33C356.49 344.79 358.38 343.59 360.78 340.16C363.17 336.74 366.26 330.74 369 325.78C371.74 320.81 374.48 314.98 377.22 310.36C379.96 305.73 382.7 301.28 385.44 298.03C388.18 294.77 391.27 292.29 393.66 290.83C396.06 289.38 397.95 289.03 399.83 289.29C401.71 289.55 402.91 290.06 404.97 292.37C407.02 294.69 409.59 299.31 412.16 303.17C414.73 307.02 417.64 311.73 420.39 315.5C423.13 319.27 425.52 322.86 428.61 325.78C431.69 328.69 435.46 331.26 438.88 332.97C442.31 334.68 446.42 335.2 449.16 336.05C451.9 336.91 453.62 336.91 455.33 338.11C457.04 339.31 458.33 341.88 459.44 343.25C460.55 344.62 461.58 345.82 462.01 346.33"/>
<path d="M298.08 342.22C298.94 342.91 301 344.96 303.22 346.33C305.45 347.7 308.87 349.41 311.44 350.44C314.01 351.47 316.07 351.13 318.64 352.5C321.21 353.87 324.29 356.78 326.86 358.66C329.43 360.55 331.49 362.6 334.05 363.8C336.62 365 339.54 365.86 342.28 365.86C345.02 365.86 347.76 365.17 350.5 363.8C353.24 362.43 356.15 360.38 358.72 357.64C361.29 354.9 363.52 351.13 365.91 347.36C368.31 343.59 370.54 339.65 373.11 335.03C375.68 330.4 378.59 325.26 381.33 319.61C384.07 313.96 387.15 305.99 389.55 301.11C391.95 296.23 393.84 292.03 395.72 290.32C397.6 288.61 398.8 290.23 400.86 290.83C402.91 291.43 405.14 293.23 408.05 293.92C410.96 294.6 414.9 295.03 418.33 294.94C421.76 294.86 425.52 293.57 428.61 293.4C431.69 293.23 434.43 292.97 436.83 293.92C439.23 294.86 440.94 296.49 443 299.05C445.05 301.62 447.28 306.08 449.16 309.33C451.05 312.59 452.93 315.84 454.3 318.58C455.67 321.32 456.1 324.58 457.38 325.78C458.67 326.97 461.24 325.78 462.01 325.78"/>
</g>
<line x1="524.7" y1="349.3" x2="696.8" y2="349.3" stroke="#000" stroke-width="1.5" stroke-dasharray="2.2 2.6"/>
<path d="M524.7 268.3V381.7H695.8" fill="none" stroke="#000" stroke-width="2.3" stroke-linejoin="miter" stroke-linecap="square"/>
<line x1="516.75" y1="381.7" x2="524.7" y2="381.7" stroke="#000" stroke-width="2.3"/>
<text transform="translate(516 387.6) scale(1 1.1)" font-size="15.6" text-anchor="end">–1.0</text>
<line x1="516.75" y1="365.5" x2="524.7" y2="365.5" stroke="#000" stroke-width="2.3"/>
<text transform="translate(516 371.4) scale(1 1.1)" font-size="15.6" text-anchor="end">–0.5</text>
<line x1="516.75" y1="349.3" x2="524.7" y2="349.3" stroke="#000" stroke-width="2.3"/>
<text transform="translate(516 355.2) scale(1 1.1)" font-size="15.6" text-anchor="end">0.0</text>
<line x1="516.75" y1="333.1" x2="524.7" y2="333.1" stroke="#000" stroke-width="2.3"/>
<text transform="translate(516 339) scale(1 1.1)" font-size="15.6" text-anchor="end">0.5</text>
<line x1="516.75" y1="316.9" x2="524.7" y2="316.9" stroke="#000" stroke-width="2.3"/>
<text transform="translate(516 322.8) scale(1 1.1)" font-size="15.6" text-anchor="end">1.0</text>
<line x1="516.75" y1="300.7" x2="524.7" y2="300.7" stroke="#000" stroke-width="2.3"/>
<text transform="translate(516 306.6) scale(1 1.1)" font-size="15.6" text-anchor="end">1.5</text>
<line x1="516.75" y1="284.5" x2="524.7" y2="284.5" stroke="#000" stroke-width="2.3"/>
<text transform="translate(516 290.4) scale(1 1.1)" font-size="15.6" text-anchor="end">2.0</text>
<line x1="516.75" y1="268.3" x2="524.7" y2="268.3" stroke="#000" stroke-width="2.3"/>
<text transform="translate(516 274.2) scale(1 1.1)" font-size="15.6" text-anchor="end">2.5</text>
<line x1="537.7" y1="381.7" x2="537.7" y2="389.65" stroke="#000" stroke-width="2.3"/>
<text transform="translate(537.7 402) scale(1 1.1)" font-size="15.6" text-anchor="middle">0</text>
<line x1="590.4" y1="381.7" x2="590.4" y2="389.65" stroke="#000" stroke-width="2.3"/>
<text transform="translate(590.4 402) scale(1 1.1)" font-size="15.6" text-anchor="middle">24</text>
<line x1="643.1" y1="381.7" x2="643.1" y2="389.65" stroke="#000" stroke-width="2.3"/>
<text transform="translate(643.1 402) scale(1 1.1)" font-size="15.6" text-anchor="middle">48</text>
<line x1="695.8" y1="381.7" x2="695.8" y2="389.65" stroke="#000" stroke-width="2.3"/>
<text transform="translate(695.8 402) scale(1 1.1)" font-size="15.6" text-anchor="middle">72</text>
<clipPath id="c7"><rect x="524.7" y="228.3" width="191.1" height="153.4"/></clipPath>
<g clip-path="url(#c7)" fill="none" stroke="#000" stroke-width="2.2" stroke-linejoin="round">
<path d="M524.11 340.16C525.14 339.14 528.39 335.37 530.28 334C532.16 332.63 533.7 331.43 535.42 331.94C537.13 332.46 539.01 334.85 540.55 337.08C542.1 339.31 543.3 341.71 544.67 345.3C546.04 348.9 547.06 356.27 548.78 358.66C550.49 361.06 553.06 359.86 554.94 359.69C556.83 359.52 558.37 357.81 560.08 357.64C561.8 357.46 563.34 359.01 565.22 358.66C567.11 358.32 569.33 357.98 571.39 355.58C573.44 353.18 575.5 346.33 577.55 344.28C579.61 342.22 581.66 343.08 583.72 343.25C585.78 343.42 587.83 346.5 589.89 345.3C591.94 344.1 594 339.99 596.05 336.05C598.11 332.11 600.16 326.8 602.22 321.66C604.28 316.53 606.33 310.36 608.39 305.22C610.44 300.08 612.15 294.94 614.55 290.83C616.95 286.72 620.21 282.7 622.77 280.55C625.34 278.41 627.57 277.47 629.97 277.99C632.37 278.5 635.11 280.64 637.16 283.64C639.22 286.64 640.76 292.03 642.3 295.97C643.84 299.91 644.53 303.68 646.41 307.28C648.3 310.87 650.7 314.64 653.61 317.55C656.52 320.47 660.46 322.52 663.88 324.75C667.31 326.97 670.74 329.03 674.16 330.91C677.59 332.8 682.73 335.2 684.44 336.05"/>
<path d="M524.11 352.5C525.14 352.15 528.05 350.27 530.28 350.44C532.5 350.61 535.42 353.53 537.47 353.53C539.53 353.53 541.07 350.61 542.61 350.44C544.15 350.27 545.18 351.13 546.72 352.5C548.26 353.87 549.8 358.15 551.86 358.66C553.92 359.18 557 356.09 559.05 355.58C561.11 355.07 562.48 355.24 564.19 355.58C565.91 355.92 567.62 358.15 569.33 357.64C571.04 357.12 572.76 354.72 574.47 352.5C576.18 350.27 577.73 345.82 579.61 344.28C581.49 342.73 583.72 343.08 585.78 343.25C587.83 343.42 589.89 346.84 591.94 345.3C594 343.76 595.88 338.62 598.11 334C600.34 329.37 602.91 323.04 605.3 317.55C607.7 312.07 610.01 305.05 612.5 301.11C614.98 297.17 617.64 293.92 620.21 293.92C622.77 293.92 625.43 298.71 627.91 301.11C630.4 303.51 632.88 305.91 635.11 308.3C637.33 310.7 638.36 313.61 641.27 315.5C644.19 317.38 648.81 317.9 652.58 319.61C656.35 321.32 660.29 323.89 663.88 325.78C667.48 327.66 670.74 329.37 674.16 330.91C677.59 332.46 682.73 334.34 684.44 335.03"/>
<path d="M524.11 344.28C524.8 342.56 526.51 334.68 528.22 334C529.93 333.31 532.33 337.08 534.39 340.16C536.44 343.25 538.84 349.76 540.55 352.5C542.27 355.24 542.95 355.58 544.67 356.61C546.38 357.64 548.95 358.84 550.83 358.66C552.72 358.49 554.26 356.78 555.97 355.58C557.68 354.38 559.23 351.47 561.11 351.47C562.99 351.47 565.22 354.38 567.28 355.58C569.33 356.78 571.73 359.18 573.44 358.66C575.16 358.15 576.18 355.07 577.55 352.5C578.92 349.93 579.95 344.45 581.66 343.25C583.38 342.05 586.12 344.45 587.83 345.3C589.54 346.16 590.23 348.39 591.94 348.39C593.66 348.39 595.88 348.22 598.11 345.3C600.34 342.39 602.91 335.54 605.3 330.91C607.7 326.29 610.1 321.32 612.5 317.55C614.9 313.79 617.46 310.36 619.69 308.3C621.92 306.25 623.63 304.71 625.86 305.22C628.08 305.73 630.83 308.99 633.05 311.39C635.28 313.79 637.51 315.16 639.22 319.61C640.93 324.06 641.96 332.63 643.33 338.11C644.7 343.59 645.9 348.39 647.44 352.5C648.98 356.61 651.04 360.55 652.58 362.77C654.12 365 654.98 366.03 656.69 365.86C658.4 365.69 660.8 364.32 662.86 361.75C664.91 359.18 666.97 354.72 669.02 350.44C671.08 346.16 673.65 338.79 675.19 336.05C676.73 333.31 676.39 334.68 678.27 334C680.16 333.31 685.13 332.29 686.5 331.94"/>
<path d="M524.11 349.41C525.14 349.41 528.05 349.41 530.28 349.41C532.5 349.41 535.24 349.24 537.47 349.41C539.7 349.59 541.41 350.44 543.64 350.44C545.87 350.44 548.78 348.9 550.83 349.41C552.89 349.93 553.92 353.35 555.97 353.53C558.03 353.7 560.77 349.76 563.17 350.44C565.56 351.13 567.96 357.98 570.36 357.64C572.76 357.29 575.33 350.1 577.55 348.39C579.78 346.67 581.32 347.19 583.72 347.36C586.12 347.53 589.2 348.9 591.94 349.41C594.68 349.93 597.6 350.27 600.16 350.44C602.73 350.61 604.96 351.13 607.36 350.44C609.76 349.76 612.5 348.39 614.55 346.33C616.61 344.28 617.81 341.88 619.69 338.11C621.58 334.34 623.63 327.83 625.86 323.72C628.08 319.61 630.83 315.67 633.05 313.44C635.28 311.22 637.16 311.39 639.22 310.36C641.27 309.33 643.33 307.45 645.39 307.28C647.44 307.11 649.15 307.62 651.55 309.33C653.95 311.04 657.03 315.33 659.77 317.55C662.51 319.78 665.43 321.58 668 322.69C670.57 323.81 672.96 323.38 675.19 324.23C677.42 325.09 679.47 326.03 681.36 327.83C683.24 329.63 685.64 333.83 686.5 335.03"/>
<path d="M524.11 317.55C524.8 318.58 526.68 320.64 528.22 323.72C529.76 326.8 531.65 332.97 533.36 336.05C535.07 339.14 536.79 339.14 538.5 342.22C540.21 345.3 542.27 350.44 543.64 354.55C545.01 358.66 545.52 364.15 546.72 366.89C547.92 369.63 549.46 371.34 550.83 371C552.2 370.65 553.57 367.4 554.94 364.83C556.31 362.26 557.51 355.92 559.05 355.58C560.6 355.24 562.48 360.55 564.19 362.77C565.91 365 567.62 367.4 569.33 368.94C571.04 370.48 572.76 372.2 574.47 372.02C576.18 371.85 577.9 369.28 579.61 367.91C581.32 366.54 582.86 364.32 584.75 363.8C586.63 363.29 589.03 365.17 590.91 364.83C592.8 364.49 594.34 363.46 596.05 361.75C597.77 360.03 599.48 357.46 601.19 354.55C602.91 351.64 604.45 348.04 606.33 344.28C608.22 340.51 610.44 336.05 612.5 331.94C614.55 327.83 616.44 323.38 618.66 319.61C620.89 315.84 623.46 311.22 625.86 309.33C628.26 307.45 630.83 307.96 633.05 308.3C635.28 308.65 636.99 310.36 639.22 311.39C641.45 312.42 643.67 312.93 646.41 314.47C649.15 316.01 652.41 318.41 655.66 320.64C658.92 322.86 662.34 325.78 665.94 327.83C669.54 329.89 673.82 331.6 677.25 332.97C680.67 334.34 684.95 335.54 686.5 336.05"/>
</g>
<line x1="81.8" y1="498.21" x2="254.2" y2="498.21" stroke="#000" stroke-width="1.5" stroke-dasharray="2.2 2.6"/>
<path d="M81.8 417V530.7H253.2" fill="none" stroke="#000" stroke-width="2.3" stroke-linejoin="miter" stroke-linecap="square"/>
<line x1="73.85" y1="530.7" x2="81.8" y2="530.7" stroke="#000" stroke-width="2.3"/>
<text transform="translate(73.1 536.6) scale(1 1.1)" font-size="15.6" text-anchor="end">–1.0</text>
<line x1="73.85" y1="514.46" x2="81.8" y2="514.46" stroke="#000" stroke-width="2.3"/>
<text transform="translate(73.1 520.36) scale(1 1.1)" font-size="15.6" text-anchor="end">–0.5</text>
<line x1="73.85" y1="498.21" x2="81.8" y2="498.21" stroke="#000" stroke-width="2.3"/>
<text transform="translate(73.1 504.11) scale(1 1.1)" font-size="15.6" text-anchor="end">0.0</text>
<line x1="73.85" y1="481.97" x2="81.8" y2="481.97" stroke="#000" stroke-width="2.3"/>
<text transform="translate(73.1 487.87) scale(1 1.1)" font-size="15.6" text-anchor="end">0.5</text>
<line x1="73.85" y1="465.73" x2="81.8" y2="465.73" stroke="#000" stroke-width="2.3"/>
<text transform="translate(73.1 471.63) scale(1 1.1)" font-size="15.6" text-anchor="end">1.0</text>
<line x1="73.85" y1="449.49" x2="81.8" y2="449.49" stroke="#000" stroke-width="2.3"/>
<text transform="translate(73.1 455.39) scale(1 1.1)" font-size="15.6" text-anchor="end">1.5</text>
<line x1="73.85" y1="433.24" x2="81.8" y2="433.24" stroke="#000" stroke-width="2.3"/>
<text transform="translate(73.1 439.14) scale(1 1.1)" font-size="15.6" text-anchor="end">2.0</text>
<line x1="73.85" y1="417" x2="81.8" y2="417" stroke="#000" stroke-width="2.3"/>
<text transform="translate(73.1 422.9) scale(1 1.1)" font-size="15.6" text-anchor="end">2.5</text>
<line x1="94.9" y1="530.7" x2="94.9" y2="538.65" stroke="#000" stroke-width="2.3"/>
<text transform="translate(94.9 551) scale(1 1.1)" font-size="15.6" text-anchor="middle">0</text>
<line x1="147.67" y1="530.7" x2="147.67" y2="538.65" stroke="#000" stroke-width="2.3"/>
<text transform="translate(147.67 551) scale(1 1.1)" font-size="15.6" text-anchor="middle">24</text>
<line x1="200.43" y1="530.7" x2="200.43" y2="538.65" stroke="#000" stroke-width="2.3"/>
<text transform="translate(200.43 551) scale(1 1.1)" font-size="15.6" text-anchor="middle">48</text>
<line x1="253.2" y1="530.7" x2="253.2" y2="538.65" stroke="#000" stroke-width="2.3"/>
<text transform="translate(253.2 551) scale(1 1.1)" font-size="15.6" text-anchor="middle">72</text>
<clipPath id="c8"><rect x="81.8" y="377" width="191.4" height="153.7"/></clipPath>
<g clip-path="url(#c8)" fill="none" stroke="#000" stroke-width="2.2" stroke-linejoin="round">
<path d="M81.11 491.22C81.97 490.02 84.54 484.03 86.25 484.03C87.96 484.03 89.85 488.31 91.39 491.22C92.93 494.13 93.79 496.79 95.5 501.5C97.21 506.21 99.61 518.11 101.67 519.48C103.72 520.85 105.61 513.4 107.83 509.72C110.06 506.04 112.8 499.61 115.03 497.39C117.25 495.16 119.14 497.73 121.19 496.36C123.25 494.99 125.13 491.65 127.36 489.16C129.59 486.68 132.5 481.11 134.55 481.46C136.61 481.8 138.15 486.85 139.69 491.22C141.23 495.59 142.26 503.04 143.8 507.66C145.35 512.29 147.4 516.4 148.94 518.97C150.48 521.54 151.34 523.25 153.05 523.08C154.77 522.91 156.99 520.85 159.22 517.94C161.45 515.03 164.19 509.55 166.41 505.61C168.64 501.67 170.53 497.22 172.58 494.3C174.64 491.39 176.52 489.51 178.75 488.14C180.97 486.77 183.71 486.25 185.94 486.08C188.17 485.91 190.05 486.6 192.11 487.11C194.16 487.62 195.88 488.65 198.27 489.16C200.67 489.68 204.1 491.56 206.5 490.19C208.89 488.82 210.61 484.71 212.66 480.94C214.72 477.17 216.86 470.75 218.83 467.58C220.8 464.41 222.6 461.76 224.48 461.93C226.37 462.1 228.34 464.41 230.13 468.61C231.93 472.81 233.9 481.8 235.27 487.11C236.64 492.42 237.84 498.24 238.36 500.47"/>
<path d="M81.11 499.44C82.14 499.44 85.22 498.5 87.28 499.44C89.33 500.38 91.56 505.78 93.44 505.09C95.33 504.41 96.87 495.42 98.58 495.33C100.3 495.25 102.01 502.87 103.72 504.58C105.43 506.29 106.98 506.46 108.86 505.61C110.74 504.75 112.8 499.44 115.03 499.44C117.25 499.44 119.99 505.27 122.22 505.61C124.45 505.95 126.5 502.53 128.39 501.5C130.27 500.47 131.64 498.59 133.53 499.44C135.41 500.3 137.98 506.64 139.69 506.64C141.41 506.64 142.26 502.7 143.8 499.44C145.35 496.19 146.54 490.11 148.94 487.11C151.34 484.11 155.28 481.63 158.19 481.46C161.1 481.29 164.02 484.45 166.41 486.08C168.81 487.71 170.53 489.51 172.58 491.22C174.64 492.93 176.52 494.82 178.75 496.36C180.97 497.9 183.89 500.13 185.94 500.47C188 500.81 189.71 497.22 191.08 498.41C192.45 499.61 192.96 504.75 194.16 507.66C195.36 510.58 196.56 514 198.27 515.89C199.99 517.77 202.04 519.48 204.44 518.97C206.84 518.46 209.92 515.2 212.66 512.8C215.4 510.4 218.32 506.81 220.88 504.58C223.45 502.35 225.68 501.15 228.08 499.44C230.48 497.73 232.53 498.07 235.27 494.3C238.01 490.53 242.98 479.74 244.52 476.83"/>
<path d="M81.11 487.11C81.97 486.77 84.19 483.51 86.25 485.05C88.31 486.6 91.22 492.76 93.44 496.36C95.67 499.96 97.55 504.24 99.61 506.64C101.67 509.03 103.72 511.6 105.78 510.75C107.83 509.89 110.23 503.9 111.94 501.5C113.66 499.1 114.51 496.87 116.05 496.36C117.6 495.84 119.48 499.27 121.19 498.41C122.91 497.56 124.45 493.79 126.33 491.22C128.22 488.65 130.61 483.68 132.5 483C134.38 482.31 135.92 483.51 137.64 487.11C139.35 490.71 141.23 499.1 142.78 504.58C144.32 510.06 145.17 517.08 146.89 520C148.6 522.91 150.83 522.91 153.05 522.05C155.28 521.2 157.85 518.28 160.25 514.86C162.65 511.43 165.22 505.44 167.44 501.5C169.67 497.56 171.55 493.62 173.61 491.22C175.66 488.82 177.38 488.48 179.77 487.11C182.17 485.74 185.94 483 188 483C190.05 483 190.57 484.03 192.11 487.11C193.65 490.19 195.71 499.1 197.25 501.5C198.79 503.9 199.82 502.87 201.36 501.5C202.9 500.13 204.61 493.62 206.5 493.28C208.38 492.93 210.61 497.39 212.66 499.44C214.72 501.5 216.77 504.15 218.83 505.61C220.88 507.06 222.94 508.35 225 508.18C227.05 508.01 229.11 507.75 231.16 504.58C233.22 501.41 235.27 494.56 237.33 489.16C239.38 483.77 242.47 475.03 243.5 472.21"/>
<path d="M81.11 489.16C82.14 489.34 85.05 488.14 87.28 490.19C89.5 492.25 91.9 498.59 94.47 501.5C97.04 504.41 100.3 507.32 102.69 507.66C105.09 508.01 106.98 505.09 108.86 503.55C110.74 502.01 112.11 498.41 114 498.41C115.88 498.41 118.11 503.38 120.17 503.55C122.22 503.72 124.28 501.84 126.33 499.44C128.39 497.04 130.61 490.19 132.5 489.16C134.38 488.14 136.1 491.22 137.64 493.28C139.18 495.33 140.55 497.04 141.75 501.5C142.95 505.95 143.63 514.52 144.83 520C146.03 525.48 147.4 531.82 148.94 534.39C150.48 536.95 152.37 535.93 154.08 535.41C155.79 534.9 157.51 532.67 159.22 531.3C160.93 529.93 162.65 530.45 164.36 527.19C166.07 523.94 167.78 516.74 169.5 511.77C171.21 506.81 172.92 500.81 174.64 497.39C176.35 493.96 177.89 490.88 179.77 491.22C181.66 491.56 184.23 499.44 185.94 499.44C187.65 499.44 188.51 491.56 190.05 491.22C191.59 490.88 193.48 495.33 195.19 497.39C196.9 499.44 198.62 503.55 200.33 503.55C202.04 503.55 203.76 499.44 205.47 497.39C207.18 495.33 208.72 491.39 210.61 491.22C212.49 491.05 214.55 494.99 216.77 496.36C219 497.73 221.57 498.93 223.97 499.44C226.37 499.96 228.94 499.78 231.16 499.44C233.39 499.1 235.1 501.15 237.33 497.39C239.56 493.62 243.32 480.26 244.52 476.83"/>
<path d="M81.11 499.44C81.97 499.27 84.37 497.56 86.25 498.41C88.13 499.27 90.19 503.38 92.42 504.58C94.64 505.78 97.04 505.78 99.61 505.61C102.18 505.44 105.43 504.92 107.83 503.55C110.23 502.18 111.6 498.24 114 497.39C116.4 496.53 119.82 497.73 122.22 498.41C124.62 499.1 126.67 501.5 128.39 501.5C130.1 501.5 130.79 497.9 132.5 498.41C134.21 498.93 136.78 502.35 138.66 504.58C140.55 506.81 142.09 509.21 143.8 511.77C145.52 514.34 147.23 518.11 148.94 520C150.66 521.88 152.03 524.11 154.08 523.08C156.14 522.05 158.71 517.77 161.28 513.83C163.84 509.89 167.1 503.21 169.5 499.44C171.9 495.67 173.95 492.76 175.66 491.22C177.38 489.68 178.4 488.99 179.77 490.19C181.15 491.39 182.52 496.53 183.89 498.41C185.26 500.3 186.46 501.33 188 501.5C189.54 501.67 191.59 499.1 193.14 499.44C194.68 499.78 195.71 503.21 197.25 503.55C198.79 503.9 200.67 503.55 202.39 501.5C204.1 499.44 205.64 493.45 207.52 491.22C209.41 488.99 211.46 488.31 213.69 488.14C215.92 487.97 218.32 489.42 220.88 490.19C223.45 490.96 226.71 492.59 229.11 492.76C231.5 492.93 233.05 491.05 235.27 491.22C237.5 491.39 241.27 493.36 242.47 493.79"/>
</g>
<line x1="300.2" y1="498.21" x2="470.8" y2="498.21" stroke="#000" stroke-width="1.5" stroke-dasharray="2.2 2.6"/>
<path d="M300.2 417V530.7H469.8" fill="none" stroke="#000" stroke-width="2.3" stroke-linejoin="miter" stroke-linecap="square"/>
<line x1="292.25" y1="530.7" x2="300.2" y2="530.7" stroke="#000" stroke-width="2.3"/>
<text transform="translate(291.5 536.6) scale(1 1.1)" font-size="15.6" text-anchor="end">–1.0</text>
<line x1="292.25" y1="514.46" x2="300.2" y2="514.46" stroke="#000" stroke-width="2.3"/>
<text transform="translate(291.5 520.36) scale(1 1.1)" font-size="15.6" text-anchor="end">–0.5</text>
<line x1="292.25" y1="498.21" x2="300.2" y2="498.21" stroke="#000" stroke-width="2.3"/>
<text transform="translate(291.5 504.11) scale(1 1.1)" font-size="15.6" text-anchor="end">0.0</text>
<line x1="292.25" y1="481.97" x2="300.2" y2="481.97" stroke="#000" stroke-width="2.3"/>
<text transform="translate(291.5 487.87) scale(1 1.1)" font-size="15.6" text-anchor="end">0.5</text>
<line x1="292.25" y1="465.73" x2="300.2" y2="465.73" stroke="#000" stroke-width="2.3"/>
<text transform="translate(291.5 471.63) scale(1 1.1)" font-size="15.6" text-anchor="end">1.0</text>
<line x1="292.25" y1="449.49" x2="300.2" y2="449.49" stroke="#000" stroke-width="2.3"/>
<text transform="translate(291.5 455.39) scale(1 1.1)" font-size="15.6" text-anchor="end">1.5</text>
<line x1="292.25" y1="433.24" x2="300.2" y2="433.24" stroke="#000" stroke-width="2.3"/>
<text transform="translate(291.5 439.14) scale(1 1.1)" font-size="15.6" text-anchor="end">2.0</text>
<line x1="292.25" y1="417" x2="300.2" y2="417" stroke="#000" stroke-width="2.3"/>
<text transform="translate(291.5 422.9) scale(1 1.1)" font-size="15.6" text-anchor="end">2.5</text>
<line x1="313.4" y1="530.7" x2="313.4" y2="538.65" stroke="#000" stroke-width="2.3"/>
<text transform="translate(313.4 551) scale(1 1.1)" font-size="15.6" text-anchor="middle">0</text>
<line x1="365.53" y1="530.7" x2="365.53" y2="538.65" stroke="#000" stroke-width="2.3"/>
<text transform="translate(365.53 551) scale(1 1.1)" font-size="15.6" text-anchor="middle">24</text>
<line x1="417.67" y1="530.7" x2="417.67" y2="538.65" stroke="#000" stroke-width="2.3"/>
<text transform="translate(417.67 551) scale(1 1.1)" font-size="15.6" text-anchor="middle">48</text>
<line x1="469.8" y1="530.7" x2="469.8" y2="538.65" stroke="#000" stroke-width="2.3"/>
<text transform="translate(469.8 551) scale(1 1.1)" font-size="15.6" text-anchor="middle">72</text>
<clipPath id="c9"><rect x="300.2" y="377" width="189.6" height="153.7"/></clipPath>
<g clip-path="url(#c9)" fill="none" stroke="#000" stroke-width="2.2" stroke-linejoin="round">
<path d="M298.08 489.16C299.11 488.14 302.54 483.34 304.25 483C305.96 482.66 306.99 484.03 308.36 487.11C309.73 490.19 311.1 497.56 312.47 501.5C313.84 505.44 315.04 509.03 316.58 510.75C318.12 512.46 319.67 511.26 321.72 511.77C323.78 512.29 326.86 513.83 328.92 513.83C330.97 513.83 332.34 512.8 334.05 511.77C335.77 510.75 337.48 508.52 339.19 507.66C340.91 506.81 342.62 508.52 344.33 506.64C346.04 504.75 347.42 498.59 349.47 496.36C351.53 494.13 354.44 493.62 356.66 493.28C358.89 492.93 360.95 495.16 362.83 494.3C364.72 493.45 365.91 492.08 367.97 488.14C370.03 484.2 372.6 476.66 375.16 470.66C377.73 464.67 380.56 456.62 383.39 452.17C386.21 447.71 389.55 444.46 392.12 443.94C394.69 443.43 396.49 446.68 398.8 449.08C401.12 451.48 403.6 455.25 406 458.33C408.39 461.42 410.62 464.84 413.19 467.58C415.76 470.32 418.84 473.41 421.41 474.78C423.98 476.15 425.7 476.06 428.61 475.8C431.52 475.55 436.14 473.41 438.88 473.23C441.63 473.06 443 473.15 445.05 474.78C447.11 476.4 449.33 479.91 451.22 483C453.1 486.08 454.73 489.51 456.36 493.28C457.98 497.04 460.21 503.55 460.98 505.61"/>
<path d="M298.08 493.28C299.28 493.45 303.05 493.28 305.28 494.3C307.5 495.33 309.39 497.22 311.44 499.44C313.5 501.67 315.21 505.78 317.61 507.66C320.01 509.55 323.61 509.89 325.83 510.75C328.06 511.6 328.92 513.66 330.97 512.8C333.03 511.95 336.11 508.01 338.17 505.61C340.22 503.21 341.59 500.3 343.3 498.41C345.02 496.53 346.22 494.99 348.44 494.3C350.67 493.62 354.27 494.3 356.66 494.3C359.06 494.3 360.78 494.99 362.83 494.3C364.89 493.62 366.6 492.42 369 490.19C371.4 487.97 374.48 484.2 377.22 480.94C379.96 477.69 382.7 474.26 385.44 470.66C388.18 467.07 391.09 462.61 393.66 459.36C396.23 456.11 398.37 452.85 400.86 451.14C403.34 449.42 406 448.74 408.57 449.08C411.14 449.42 413.62 451.48 416.27 453.19C418.93 454.91 421.41 457.13 424.5 459.36C427.58 461.59 431.69 464.5 434.77 466.55C437.86 468.61 440.6 469.98 443 471.69C445.39 473.41 447.11 474.95 449.16 476.83C451.22 478.72 453.27 480.43 455.33 483C457.38 485.57 460.47 490.71 461.5 492.25"/>
<path d="M298.08 488.14C298.94 488.14 301.34 487.11 303.22 488.14C305.11 489.16 307.33 493.62 309.39 494.3C311.44 494.99 313.84 491.73 315.55 492.25C317.27 492.76 318.12 494.82 319.67 497.39C321.21 499.96 323.09 504.75 324.8 507.66C326.52 510.58 328.06 514.86 329.94 514.86C331.83 514.86 334.23 510.58 336.11 507.66C337.99 504.75 339.88 500.47 341.25 497.39C342.62 494.3 343.13 489.68 344.33 489.16C345.53 488.65 346.9 491.22 348.44 494.3C349.98 497.39 352.21 505.09 353.58 507.66C354.95 510.23 355.64 510.06 356.66 509.72C357.69 509.38 358.21 507.66 359.75 505.61C361.29 503.55 363.52 499.27 365.91 497.39C368.31 495.5 371.4 494.82 374.14 494.3C376.88 493.79 379.79 494.65 382.36 494.3C384.93 493.96 387.33 494.13 389.55 492.25C391.78 490.36 393.84 485.74 395.72 483C397.6 480.26 399.4 477.35 400.86 475.8C402.31 474.26 403.08 473.41 404.46 473.75C405.83 474.09 407.62 475.29 409.08 477.86C410.54 480.43 411.82 484.88 413.19 489.16C414.56 493.45 415.93 500.73 417.3 503.55C418.67 506.38 419.7 506.64 421.41 506.12C423.13 505.61 425.35 503.64 427.58 500.47C429.81 497.3 432.38 490.71 434.77 487.11C437.17 483.51 439.74 480.6 441.97 478.89C444.19 477.17 445.91 476.15 448.13 476.83C450.36 477.52 453.1 482.66 455.33 483C457.56 483.34 460.47 479.57 461.5 478.89"/>
<path d="M298.08 496.36C299.28 496.19 303.05 494.47 305.28 495.33C307.5 496.19 309.05 499.27 311.44 501.5C313.84 503.72 317.27 507.32 319.67 508.69C322.06 510.06 323.95 509.03 325.83 509.72C327.72 510.4 329.09 512.97 330.97 512.8C332.86 512.63 335.08 510.23 337.14 508.69C339.19 507.15 341.42 505.61 343.3 503.55C345.19 501.5 346.73 498.07 348.44 496.36C350.16 494.65 352.04 492.76 353.58 493.28C355.12 493.79 356.32 497.04 357.69 499.44C359.06 501.84 360.09 505.27 361.8 507.66C363.52 510.06 365.91 513.32 367.97 513.83C370.03 514.34 372.08 513.15 374.14 510.75C376.19 508.35 378.42 504.07 380.3 499.44C382.19 494.82 383.73 488.48 385.44 483C387.15 477.52 388.87 471.01 390.58 466.55C392.29 462.1 393.84 458.67 395.72 456.28C397.6 453.88 399.83 451.99 401.89 452.17C403.94 452.34 406 454.91 408.05 457.3C410.11 459.7 411.99 464.33 414.22 466.55C416.45 468.78 419.02 470.32 421.41 470.66C423.81 471.01 426.04 469.55 428.61 468.61C431.18 467.67 434.43 465.35 436.83 465.01C439.23 464.67 440.94 464.93 443 466.55C445.05 468.18 447.28 472.21 449.16 474.78C451.05 477.35 452.07 480.77 454.3 481.97C456.53 483.17 461.15 481.97 462.52 481.97"/>
</g>
<line x1="524.7" y1="498.21" x2="696.8" y2="498.21" stroke="#000" stroke-width="1.5" stroke-dasharray="2.2 2.6"/>
<path d="M524.7 417V530.7H695.8" fill="none" stroke="#000" stroke-width="2.3" stroke-linejoin="miter" stroke-linecap="square"/>
<line x1="516.75" y1="530.7" x2="524.7" y2="530.7" stroke="#000" stroke-width="2.3"/>
<text transform="translate(516 536.6) scale(1 1.1)" font-size="15.6" text-anchor="end">–1.0</text>
<line x1="516.75" y1="514.46" x2="524.7" y2="514.46" stroke="#000" stroke-width="2.3"/>
<text transform="translate(516 520.36) scale(1 1.1)" font-size="15.6" text-anchor="end">–0.5</text>
<line x1="516.75" y1="498.21" x2="524.7" y2="498.21" stroke="#000" stroke-width="2.3"/>
<text transform="translate(516 504.11) scale(1 1.1)" font-size="15.6" text-anchor="end">0.0</text>
<line x1="516.75" y1="481.97" x2="524.7" y2="481.97" stroke="#000" stroke-width="2.3"/>
<text transform="translate(516 487.87) scale(1 1.1)" font-size="15.6" text-anchor="end">0.5</text>
<line x1="516.75" y1="465.73" x2="524.7" y2="465.73" stroke="#000" stroke-width="2.3"/>
<text transform="translate(516 471.63) scale(1 1.1)" font-size="15.6" text-anchor="end">1.0</text>
<line x1="516.75" y1="449.49" x2="524.7" y2="449.49" stroke="#000" stroke-width="2.3"/>
<text transform="translate(516 455.39) scale(1 1.1)" font-size="15.6" text-anchor="end">1.5</text>
<line x1="516.75" y1="433.24" x2="524.7" y2="433.24" stroke="#000" stroke-width="2.3"/>
<text transform="translate(516 439.14) scale(1 1.1)" font-size="15.6" text-anchor="end">2.0</text>
<line x1="516.75" y1="417" x2="524.7" y2="417" stroke="#000" stroke-width="2.3"/>
<text transform="translate(516 422.9) scale(1 1.1)" font-size="15.6" text-anchor="end">2.5</text>
<line x1="537.7" y1="530.7" x2="537.7" y2="538.65" stroke="#000" stroke-width="2.3"/>
<text transform="translate(537.7 551) scale(1 1.1)" font-size="15.6" text-anchor="middle">0</text>
<line x1="590.4" y1="530.7" x2="590.4" y2="538.65" stroke="#000" stroke-width="2.3"/>
<text transform="translate(590.4 551) scale(1 1.1)" font-size="15.6" text-anchor="middle">24</text>
<line x1="643.1" y1="530.7" x2="643.1" y2="538.65" stroke="#000" stroke-width="2.3"/>
<text transform="translate(643.1 551) scale(1 1.1)" font-size="15.6" text-anchor="middle">48</text>
<line x1="695.8" y1="530.7" x2="695.8" y2="538.65" stroke="#000" stroke-width="2.3"/>
<text transform="translate(695.8 551) scale(1 1.1)" font-size="15.6" text-anchor="middle">72</text>
<clipPath id="c10"><rect x="524.7" y="377" width="191.1" height="153.7"/></clipPath>
<g clip-path="url(#c10)" fill="none" stroke="#000" stroke-width="2.2" stroke-linejoin="round">
<path d="M524.11 507.66C525.14 507.49 528.22 506.64 530.28 506.64C532.33 506.64 534.56 507.66 536.44 507.66C538.33 507.66 539.53 505.78 541.58 506.64C543.64 507.49 546.55 512.46 548.78 512.8C551 513.15 552.89 508.69 554.94 508.69C557 508.69 559.4 511.77 561.11 512.8C562.82 513.83 563.51 514.86 565.22 514.86C566.93 514.86 569.16 514.34 571.39 512.8C573.61 511.26 576.35 507.84 578.58 505.61C580.81 503.38 582.52 502.53 584.75 499.44C586.97 496.36 589.37 491.73 591.94 487.11C594.51 482.48 597.42 476.83 600.16 471.69C602.91 466.55 605.65 460.73 608.39 456.28C611.13 451.82 613.95 447.63 616.61 444.97C619.26 442.32 621.92 440.52 624.32 440.35C626.71 440.18 628.86 442.14 631 443.94C633.14 445.74 634.77 448.05 637.16 451.14C639.56 454.22 642.64 459.36 645.39 462.44C648.13 465.53 650.87 467.75 653.61 469.64C656.35 471.52 659.26 472.89 661.83 473.75C664.4 474.6 666.45 475.29 669.02 474.78C671.59 474.26 675.02 471.01 677.25 470.66C679.47 470.32 680.84 471.44 682.38 472.72C683.93 474.01 685.81 477.43 686.5 478.37"/>
<path d="M524.11 498.41C525.14 498.07 528.22 497.04 530.28 496.36C532.33 495.67 534.39 495.16 536.44 494.3C538.5 493.45 540.38 491.22 542.61 491.22C544.84 491.22 547.41 492.93 549.8 494.3C552.2 495.67 554.77 497.22 557 499.44C559.23 501.67 561.11 505.61 563.17 507.66C565.22 509.72 567.28 510.92 569.33 511.77C571.39 512.63 573.44 514.17 575.5 512.8C577.55 511.43 579.78 505.78 581.66 503.55C583.55 501.33 585.09 500.64 586.8 499.44C588.52 498.24 589.89 497.22 591.94 496.36C594 495.5 596.57 494.3 599.14 494.3C601.71 494.3 604.79 496.87 607.36 496.36C609.93 495.84 612.33 494.65 614.55 491.22C616.78 487.79 618.66 481.46 620.72 475.8C622.77 470.15 625 461.59 626.89 457.3C628.77 453.02 629.97 450.62 632.02 450.11C634.08 449.6 636.82 452.17 639.22 454.22C641.62 456.28 643.84 459.7 646.41 462.44C648.98 465.18 651.72 468.44 654.64 470.66C657.55 472.89 660.97 475.12 663.88 475.8C666.8 476.49 669.37 475.46 672.11 474.78C674.85 474.09 677.76 472.29 680.33 471.69C682.9 471.09 686.32 471.26 687.52 471.18"/>
<path d="M524.11 496.36C524.97 496.7 527.37 496.7 529.25 498.41C531.13 500.13 533.53 505.44 535.42 506.64C537.3 507.84 538.84 506.98 540.55 505.61C542.27 504.24 543.64 500.47 545.69 498.41C547.75 496.36 550.92 495.16 552.89 493.28C554.86 491.39 556.14 487.45 557.51 487.11C558.88 486.77 559.83 489.16 561.11 491.22C562.39 493.28 563.68 496.36 565.22 499.44C566.76 502.53 568.65 507.49 570.36 509.72C572.07 511.95 573.61 514.17 575.5 512.8C577.38 511.43 580.12 503.9 581.66 501.5C583.21 499.1 583.38 497.9 584.75 498.41C586.12 498.93 588.17 502.01 589.89 504.58C591.6 507.15 593.14 512.97 595.03 513.83C596.91 514.69 599.31 512.29 601.19 509.72C603.08 507.15 604.45 503.21 606.33 498.41C608.22 493.62 610.44 486.25 612.5 480.94C614.55 475.63 616.78 470.32 618.66 466.55C620.55 462.79 622.09 459.19 623.8 458.33C625.52 457.48 627.06 460.04 628.94 461.42C630.83 462.79 632.71 465.01 635.11 466.55C637.51 468.1 640.25 469.64 643.33 470.66C646.41 471.69 650.52 471.86 653.61 472.72C656.69 473.58 659.26 475.29 661.83 475.8C664.4 476.32 666.45 476.49 669.02 475.8C671.59 475.12 674.68 471.52 677.25 471.69C679.82 471.86 683.24 475.97 684.44 476.83"/>
<path d="M524.11 496.36C525.14 495.33 528.22 491.56 530.28 490.19C532.33 488.82 534.39 488.14 536.44 488.14C538.5 488.14 540.38 488.31 542.61 490.19C544.84 492.08 547.58 497.9 549.8 499.44C552.03 500.98 553.74 498.59 555.97 499.44C558.2 500.3 561.11 502.7 563.17 504.58C565.22 506.46 566.59 509.38 568.3 510.75C570.02 512.12 571.56 512.29 573.44 512.8C575.33 513.32 577.73 514.69 579.61 513.83C581.49 512.97 583.04 510.23 584.75 507.66C586.46 505.09 588 500.47 589.89 498.41C591.77 496.36 594 496.02 596.05 495.33C598.11 494.65 600.16 495.16 602.22 494.3C604.28 493.45 606.33 493.79 608.39 490.19C610.44 486.6 612.5 478.03 614.55 472.72C616.61 467.41 618.66 461.76 620.72 458.33C622.77 454.91 624.83 453.36 626.89 452.17C628.94 450.97 631 450.45 633.05 451.14C635.11 451.82 637.16 453.36 639.22 456.28C641.27 459.19 642.99 464.84 645.39 468.61C647.78 472.38 650.52 476.32 653.61 478.89C656.69 481.46 660.8 483.68 663.88 484.03C666.97 484.37 669.54 481.8 672.11 480.94C674.68 480.09 677.25 477.86 679.3 478.89C681.36 479.91 683.24 484.2 684.44 487.11C685.64 490.02 686.15 494.82 686.5 496.36"/>
<path d="M524.11 498.41C525.14 498.59 528.22 500.13 530.28 499.44C532.33 498.76 534.39 495.33 536.44 494.3C538.5 493.28 540.55 492.76 542.61 493.28C544.67 493.79 546.72 496.53 548.78 497.39C550.83 498.24 552.89 497.73 554.94 498.41C557 499.1 559.05 499.78 561.11 501.5C563.17 503.21 565.39 506.98 567.28 508.69C569.16 510.4 570.7 511.6 572.42 511.77C574.13 511.95 576.01 510.92 577.55 509.72C579.1 508.52 580.12 505.61 581.66 504.58C583.21 503.55 585.09 503.38 586.8 503.55C588.52 503.72 590.06 505.44 591.94 505.61C593.83 505.78 596.05 505.61 598.11 504.58C600.16 503.55 602.22 502.35 604.28 499.44C606.33 496.53 608.22 492.08 610.44 487.11C612.67 482.14 615.41 474.6 617.64 469.64C619.86 464.67 621.58 460.39 623.8 457.3C626.03 454.22 628.77 451.31 631 451.14C633.22 450.97 635.11 453.71 637.16 456.28C639.22 458.85 641.1 463.13 643.33 466.55C645.56 469.98 647.95 473.92 650.52 476.83C653.09 479.74 655.83 481.97 658.75 484.03C661.66 486.08 665.08 488.48 668 489.16C670.91 489.85 673.99 488.14 676.22 488.14C678.44 488.14 679.82 487.62 681.36 489.16C682.9 490.71 684.78 496.02 685.47 497.39"/>
</g>
<line x1="81.8" y1="648.3" x2="254.2" y2="648.3" stroke="#000" stroke-width="1.5" stroke-dasharray="2.2 2.6"/>
<path d="M81.8 567.3V680.7H253.2" fill="none" stroke="#000" stroke-width="2.3" stroke-linejoin="miter" stroke-linecap="square"/>
<line x1="73.85" y1="680.7" x2="81.8" y2="680.7" stroke="#000" stroke-width="2.3"/>
<text transform="translate(73.1 686.6) scale(1 1.1)" font-size="15.6" text-anchor="end">–1.0</text>
<line x1="73.85" y1="664.5" x2="81.8" y2="664.5" stroke="#000" stroke-width="2.3"/>
<text transform="translate(73.1 670.4) scale(1 1.1)" font-size="15.6" text-anchor="end">–0.5</text>
<line x1="73.85" y1="648.3" x2="81.8" y2="648.3" stroke="#000" stroke-width="2.3"/>
<text transform="translate(73.1 654.2) scale(1 1.1)" font-size="15.6" text-anchor="end">0.0</text>
<line x1="73.85" y1="632.1" x2="81.8" y2="632.1" stroke="#000" stroke-width="2.3"/>
<text transform="translate(73.1 638) scale(1 1.1)" font-size="15.6" text-anchor="end">0.5</text>
<line x1="73.85" y1="615.9" x2="81.8" y2="615.9" stroke="#000" stroke-width="2.3"/>
<text transform="translate(73.1 621.8) scale(1 1.1)" font-size="15.6" text-anchor="end">1.0</text>
<line x1="73.85" y1="599.7" x2="81.8" y2="599.7" stroke="#000" stroke-width="2.3"/>
<text transform="translate(73.1 605.6) scale(1 1.1)" font-size="15.6" text-anchor="end">1.5</text>
<line x1="73.85" y1="583.5" x2="81.8" y2="583.5" stroke="#000" stroke-width="2.3"/>
<text transform="translate(73.1 589.4) scale(1 1.1)" font-size="15.6" text-anchor="end">2.0</text>
<line x1="73.85" y1="567.3" x2="81.8" y2="567.3" stroke="#000" stroke-width="2.3"/>
<text transform="translate(73.1 573.2) scale(1 1.1)" font-size="15.6" text-anchor="end">2.5</text>
<line x1="94.9" y1="680.7" x2="94.9" y2="688.65" stroke="#000" stroke-width="2.3"/>
<text transform="translate(94.9 701) scale(1 1.1)" font-size="15.6" text-anchor="middle">0</text>
<line x1="147.67" y1="680.7" x2="147.67" y2="688.65" stroke="#000" stroke-width="2.3"/>
<text transform="translate(147.67 701) scale(1 1.1)" font-size="15.6" text-anchor="middle">24</text>
<line x1="200.43" y1="680.7" x2="200.43" y2="688.65" stroke="#000" stroke-width="2.3"/>
<text transform="translate(200.43 701) scale(1 1.1)" font-size="15.6" text-anchor="middle">48</text>
<line x1="253.2" y1="680.7" x2="253.2" y2="688.65" stroke="#000" stroke-width="2.3"/>
<text transform="translate(253.2 701) scale(1 1.1)" font-size="15.6" text-anchor="middle">72</text>
<clipPath id="c11"><rect x="81.8" y="527.3" width="191.4" height="153.4"/></clipPath>
<g clip-path="url(#c11)" fill="none" stroke="#000" stroke-width="2.2" stroke-linejoin="round">
<path d="M81.11 648.41C81.97 647.22 84.54 642.42 86.25 641.22C87.96 640.02 89.5 640.53 91.39 641.22C93.27 641.91 95.67 642.93 97.55 645.33C99.44 647.73 100.64 652.1 102.69 655.61C104.75 659.12 107.66 665.54 109.89 666.4C112.11 667.26 114 663.57 116.05 660.75C118.11 657.92 120.17 651.67 122.22 649.44C124.28 647.22 126.33 647.56 128.39 647.39C130.44 647.22 132.84 648.07 134.55 648.41C136.27 648.76 137.29 649.61 138.66 649.44C140.04 649.27 141.23 650.13 142.78 647.39C144.32 644.65 146.2 636.42 147.91 633C149.63 629.57 151.17 626.83 153.05 626.83C154.94 626.83 157.16 629.74 159.22 633C161.28 636.25 163.33 642.25 165.39 646.36C167.44 650.47 169.33 655.27 171.55 657.66C173.78 660.06 176.69 661.09 178.75 660.75C180.8 660.4 182.34 657.32 183.89 655.61C185.43 653.9 186.63 651.67 188 650.47C189.37 649.27 190.39 647.9 192.11 648.41C193.82 648.93 196.05 651.33 198.27 653.55C200.5 655.78 202.9 659.03 205.47 661.77C208.04 664.52 210.78 668.11 213.69 670C216.6 671.88 220.03 673.42 222.94 673.08C225.85 672.74 228.76 669.65 231.16 667.94C233.56 666.23 235.27 664 237.33 662.8C239.38 661.6 242.47 661.09 243.5 660.75"/>
<path d="M81.11 653.55C81.97 652.53 84.54 649.27 86.25 647.39C87.96 645.5 89.5 642.42 91.39 642.25C93.27 642.08 95.5 645.33 97.55 646.36C99.61 647.39 102.01 648.59 103.72 648.41C105.43 648.24 106.12 646.53 107.83 645.33C109.55 644.13 112.11 641.39 114 641.22C115.88 641.05 117.6 642.59 119.14 644.3C120.68 646.02 121.88 649.61 123.25 651.5C124.62 653.38 125.99 654.75 127.36 655.61C128.73 656.46 129.59 656.64 131.47 656.64C133.35 656.64 136.61 655.44 138.66 655.61C140.72 655.78 142.09 657.15 143.8 657.66C145.52 658.18 147.06 659.03 148.94 658.69C150.83 658.35 152.88 657.15 155.11 655.61C157.34 654.07 159.91 650.98 162.3 649.44C164.7 647.9 167.44 646.7 169.5 646.36C171.55 646.02 173.09 646.53 174.64 647.39C176.18 648.24 177.38 649.27 178.75 651.5C180.12 653.72 181.32 658.52 182.86 660.75C184.4 662.97 186.46 665.03 188 664.86C189.54 664.69 190.74 661.6 192.11 659.72C193.48 657.84 194.85 653.21 196.22 653.55C197.59 653.9 198.96 658.69 200.33 661.77C201.7 664.86 203.24 668.63 204.44 672.05C205.64 675.48 207.01 680.62 207.52 682.33"/>
<path d="M81.11 645.33C82.14 644.65 85.22 641.39 87.28 641.22C89.33 641.05 91.39 642.93 93.44 644.3C95.5 645.67 97.55 646.53 99.61 649.44C101.67 652.35 103.89 659.03 105.78 661.77C107.66 664.52 109.03 666.57 110.92 665.89C112.8 665.2 115.2 660.4 117.08 657.66C118.97 654.92 120.51 652.35 122.22 649.44C123.93 646.53 125.65 640.88 127.36 640.19C129.07 639.51 130.79 643.79 132.5 645.33C134.21 646.87 136.27 649.78 137.64 649.44C139.01 649.1 139.69 641.91 140.72 643.28C141.75 644.65 142.6 652.87 143.8 657.66C145 662.46 146.54 667.94 147.91 672.05C149.29 676.16 150.31 680.27 152.03 682.33C153.74 684.39 155.97 684.39 158.19 684.39C160.42 684.39 163.16 685.07 165.39 682.33C167.61 679.59 169.67 672.22 171.55 667.94C173.44 663.66 175.32 659.72 176.69 656.64C178.06 653.55 178.58 652.18 179.77 649.44C180.97 646.7 182.34 643.62 183.89 640.19C185.43 636.77 187.31 628.89 189.02 628.89C190.74 628.89 192.62 635.4 194.16 640.19C195.71 644.99 196.9 652.18 198.27 657.66C199.64 663.15 201.02 668.97 202.39 673.08C203.76 677.19 205.81 680.79 206.5 682.33"/>
<path d="M81.11 649.44C82.14 648.59 85.05 644.82 87.28 644.3C89.5 643.79 92.07 645.5 94.47 646.36C96.87 647.22 99.44 648.76 101.67 649.44C103.89 650.13 105.78 650.13 107.83 650.47C109.89 650.81 112.11 650.3 114 651.5C115.88 652.7 117.42 655.78 119.14 657.66C120.85 659.55 122.31 661.09 124.28 662.8C126.25 664.52 128.9 668.28 130.96 667.94C133.01 667.6 134.64 662.8 136.61 660.75C138.58 658.69 140.72 655.44 142.78 655.61C144.83 655.78 146.37 659.81 148.94 661.77C151.51 663.74 155.45 667.08 158.19 667.43C160.93 667.77 162.99 665.63 165.39 663.83C167.78 662.03 170.53 659.03 172.58 656.64C174.64 654.24 176.18 650.81 177.72 649.44C179.26 648.07 180.46 648.24 181.83 648.41C183.2 648.59 184.23 649.1 185.94 650.47C187.65 651.84 190.05 654.58 192.11 656.64C194.16 658.69 196.39 661.43 198.27 662.8C200.16 664.17 201.36 663.83 203.41 664.86C205.47 665.89 208.04 667.6 210.61 668.97C213.18 670.34 216.6 671.54 218.83 673.08C221.06 674.62 221.91 677.88 223.97 678.22C226.02 678.56 228.94 676.85 231.16 675.14C233.39 673.42 235.27 670.34 237.33 667.94C239.38 665.54 242.47 661.95 243.5 660.75"/>
<path d="M169.5 648.41C170.53 648.24 173.78 646.87 175.66 647.39C177.55 647.9 179.09 649.78 180.8 651.5C182.52 653.21 184.06 655.95 185.94 657.66C187.83 659.38 190.22 662.12 192.11 661.77C193.99 661.43 195.71 658.35 197.25 655.61C198.79 652.87 199.82 648.76 201.36 645.33C202.9 641.91 204.78 637.62 206.5 635.05C208.21 632.48 209.75 629.91 211.64 629.91C213.52 629.91 215.92 632.31 217.8 635.05C219.69 637.79 221.4 642.25 222.94 646.36C224.48 650.47 225.34 656.46 227.05 659.72C228.76 662.97 231.16 665.54 233.22 665.89C235.27 666.23 237.67 662.63 239.38 661.77C241.1 660.92 242.81 660.92 243.5 660.75"/>
<path d="M195.19 694.66C196.05 693.64 198.62 690.29 200.33 688.5C202.04 686.7 203.93 684.9 205.47 683.87C207.01 682.84 208.04 684.98 209.58 682.33C211.12 679.67 212.83 672.74 214.72 667.94C216.6 663.15 219.17 657.66 220.88 653.55C222.6 649.44 223.63 645.5 225 643.28C226.37 641.05 227.57 639.34 229.11 640.19C230.65 641.05 232.88 645.5 234.25 648.41C235.62 651.33 236.3 656.64 237.33 657.66C238.36 658.69 239.56 655.95 240.41 654.58C241.27 653.21 242.13 650.3 242.47 649.44"/>
</g>
<line x1="300.2" y1="648.3" x2="470.8" y2="648.3" stroke="#000" stroke-width="1.5" stroke-dasharray="2.2 2.6"/>
<path d="M300.2 567.3V680.7H469.8" fill="none" stroke="#000" stroke-width="2.3" stroke-linejoin="miter" stroke-linecap="square"/>
<line x1="292.25" y1="680.7" x2="300.2" y2="680.7" stroke="#000" stroke-width="2.3"/>
<text transform="translate(291.5 686.6) scale(1 1.1)" font-size="15.6" text-anchor="end">–1.0</text>
<line x1="292.25" y1="664.5" x2="300.2" y2="664.5" stroke="#000" stroke-width="2.3"/>
<text transform="translate(291.5 670.4) scale(1 1.1)" font-size="15.6" text-anchor="end">–0.5</text>
<line x1="292.25" y1="648.3" x2="300.2" y2="648.3" stroke="#000" stroke-width="2.3"/>
<text transform="translate(291.5 654.2) scale(1 1.1)" font-size="15.6" text-anchor="end">0.0</text>
<line x1="292.25" y1="632.1" x2="300.2" y2="632.1" stroke="#000" stroke-width="2.3"/>
<text transform="translate(291.5 638) scale(1 1.1)" font-size="15.6" text-anchor="end">0.5</text>
<line x1="292.25" y1="615.9" x2="300.2" y2="615.9" stroke="#000" stroke-width="2.3"/>
<text transform="translate(291.5 621.8) scale(1 1.1)" font-size="15.6" text-anchor="end">1.0</text>
<line x1="292.25" y1="599.7" x2="300.2" y2="599.7" stroke="#000" stroke-width="2.3"/>
<text transform="translate(291.5 605.6) scale(1 1.1)" font-size="15.6" text-anchor="end">1.5</text>
<line x1="292.25" y1="583.5" x2="300.2" y2="583.5" stroke="#000" stroke-width="2.3"/>
<text transform="translate(291.5 589.4) scale(1 1.1)" font-size="15.6" text-anchor="end">2.0</text>
<line x1="292.25" y1="567.3" x2="300.2" y2="567.3" stroke="#000" stroke-width="2.3"/>
<text transform="translate(291.5 573.2) scale(1 1.1)" font-size="15.6" text-anchor="end">2.5</text>
<line x1="313.4" y1="680.7" x2="313.4" y2="688.65" stroke="#000" stroke-width="2.3"/>
<text transform="translate(313.4 701) scale(1 1.1)" font-size="15.6" text-anchor="middle">0</text>
<line x1="365.53" y1="680.7" x2="365.53" y2="688.65" stroke="#000" stroke-width="2.3"/>
<text transform="translate(365.53 701) scale(1 1.1)" font-size="15.6" text-anchor="middle">24</text>
<line x1="417.67" y1="680.7" x2="417.67" y2="688.65" stroke="#000" stroke-width="2.3"/>
<text transform="translate(417.67 701) scale(1 1.1)" font-size="15.6" text-anchor="middle">48</text>
<line x1="469.8" y1="680.7" x2="469.8" y2="688.65" stroke="#000" stroke-width="2.3"/>
<text transform="translate(469.8 701) scale(1 1.1)" font-size="15.6" text-anchor="middle">72</text>
<clipPath id="c12"><rect x="300.2" y="527.3" width="189.6" height="153.4"/></clipPath>
<g clip-path="url(#c12)" fill="none" stroke="#000" stroke-width="2.2" stroke-linejoin="round">
<path d="M297.06 645.33C298.43 644.82 302.37 643.36 305.28 642.25C308.19 641.13 312.13 638.65 314.53 638.65C316.93 638.65 318.12 640.11 319.67 642.25C321.21 644.39 322.24 649.1 323.78 651.5C325.32 653.9 327.2 655.61 328.92 656.64C330.63 657.66 332.34 656.98 334.05 657.66C335.77 658.35 337.48 660.92 339.19 660.75C340.91 660.58 342.62 658.86 344.33 656.64C346.04 654.41 347.93 649.78 349.47 647.39C351.01 644.99 352.04 642.76 353.58 642.25C355.12 641.73 356.49 644.22 358.72 644.3C360.95 644.39 363.86 643.1 366.94 642.76C370.03 642.42 374.31 643.02 377.22 642.25C380.13 641.48 382.19 640.19 384.41 638.14C386.64 636.08 388.7 633 390.58 629.91C392.46 626.83 394.01 621.78 395.72 619.64C397.43 617.5 398.97 617.07 400.86 617.07C402.74 617.07 404.8 618.61 407.02 619.64C409.25 620.66 412.16 623.41 414.22 623.23C416.27 623.06 417.3 620.66 419.36 618.61C421.41 616.55 424.33 611.59 426.55 610.9C428.78 610.22 430.49 612.19 432.72 614.5C434.95 616.81 437.69 622.04 439.91 624.78C442.14 627.52 443.85 629.57 446.08 630.94C448.31 632.31 451.05 632.31 453.27 633C455.5 633.68 457.9 634.71 459.44 635.05C460.98 635.4 462.01 635.05 462.52 635.05"/>
<path d="M298.08 648.41C299.28 647.9 302.71 646.53 305.28 645.33C307.85 644.13 311.1 641.39 313.5 641.22C315.9 641.05 317.95 642.25 319.67 644.3C321.38 646.36 322.41 650.98 323.78 653.55C325.15 656.12 326.52 659.03 327.89 659.72C329.26 660.4 330.29 657.84 332 657.66C333.71 657.49 336.28 659.21 338.17 658.69C340.05 658.18 341.59 656.29 343.3 654.58C345.02 652.87 346.73 650.3 348.44 648.41C350.16 646.53 351.87 643.28 353.58 643.28C355.29 643.28 356.84 646.53 358.72 648.41C360.6 650.3 362.83 653.21 364.89 654.58C366.94 655.95 368.83 656.64 371.05 656.64C373.28 656.64 375.85 655.78 378.25 654.58C380.65 653.38 382.87 651.67 385.44 649.44C388.01 647.22 390.92 643.96 393.66 641.22C396.4 638.48 399.23 635.57 401.89 633C404.54 630.43 407.37 625.8 409.59 625.8C411.82 625.8 413.11 631.11 415.25 633C417.39 634.88 420.21 635.91 422.44 637.11C424.67 638.31 426.21 638.65 428.61 640.19C431.01 641.73 434.09 644.9 436.83 646.36C439.57 647.81 442.65 648.76 445.05 648.93C447.45 649.1 449.33 648.67 451.22 647.39C453.1 646.1 454.64 643.62 456.36 641.22C458.07 638.82 460.64 634.37 461.5 633"/>
<path d="M298.08 650.47C299.28 651.15 303.22 654.58 305.28 654.58C307.33 654.58 308.87 651.75 310.42 650.47C311.96 649.18 313.16 646.87 314.53 646.87C315.9 646.87 317.27 648.84 318.64 650.47C320.01 652.1 321.38 654.58 322.75 656.64C324.12 658.69 325.4 661.09 326.86 662.8C328.32 664.52 329.77 667.08 331.49 666.91C333.2 666.74 335.34 663.32 337.14 661.77C338.94 660.23 340.56 659.72 342.28 657.66C343.99 655.61 345.53 651.67 347.42 649.44C349.3 647.22 351.7 644.3 353.58 644.3C355.47 644.3 356.84 647.22 358.72 649.44C360.6 651.67 362.83 655.09 364.89 657.66C366.94 660.23 369 663.83 371.05 664.86C373.11 665.89 374.99 665.03 377.22 663.83C379.45 662.63 382.19 659.89 384.41 657.66C386.64 655.44 388.18 652.18 390.58 650.47C392.98 648.76 396.75 649.61 398.8 647.39C400.86 645.16 401.2 640.53 402.91 637.11C404.63 633.68 407.2 627.86 409.08 626.83C410.96 625.8 412.16 629.23 414.22 630.94C416.27 632.66 419.02 636.77 421.41 637.11C423.81 637.45 426.21 634.88 428.61 633C431.01 631.11 433.57 627.17 435.8 625.8C438.03 624.43 439.91 623.92 441.97 624.78C444.02 625.63 446.08 629.23 448.13 630.94C450.19 632.66 452.25 634.54 454.3 635.05C456.36 635.57 459.44 634.2 460.47 634.03"/>
<path d="M298.08 647.39C299.11 647.73 302.19 648.41 304.25 649.44C306.31 650.47 308.53 652.7 310.42 653.55C312.3 654.41 313.67 654.24 315.55 654.58C317.44 654.92 320.01 654.75 321.72 655.61C323.43 656.46 324.46 658.01 325.83 659.72C327.2 661.43 328.92 664.69 329.94 665.89C330.97 667.08 330.8 667.77 332 666.91C333.2 666.06 335.42 662.97 337.14 660.75C338.85 658.52 340.39 655.61 342.28 653.55C344.16 651.5 346.39 649.44 348.44 648.41C350.5 647.39 352.55 646.87 354.61 647.39C356.66 647.9 358.72 649.1 360.78 651.5C362.83 653.9 364.89 658.69 366.94 661.77C369 664.86 371.05 668.28 373.11 670C375.16 671.71 377.05 672.39 379.28 672.05C381.5 671.71 384.07 670 386.47 667.94C388.87 665.89 391.27 662.29 393.66 659.72C396.06 657.15 398.8 655.09 400.86 652.53C402.91 649.96 404.11 647.04 406 644.3C407.88 641.56 410.11 637.54 412.16 636.08C414.22 634.63 416.27 635.22 418.33 635.57C420.39 635.91 422.27 636.85 424.5 638.14C426.72 639.42 429.29 641.73 431.69 643.28C434.09 644.82 436.32 646.36 438.88 647.39C441.45 648.41 444.88 649.61 447.11 649.44C449.33 649.27 450.53 647.9 452.25 646.36C453.96 644.82 455.76 642.59 457.38 640.19C459.01 637.79 461.24 633.34 462.01 631.97"/>
</g>
<line x1="524.7" y1="648.3" x2="696.8" y2="648.3" stroke="#000" stroke-width="1.5" stroke-dasharray="2.2 2.6"/>
<path d="M524.7 567.3V680.7H695.8" fill="none" stroke="#000" stroke-width="2.3" stroke-linejoin="miter" stroke-linecap="square"/>
<line x1="516.75" y1="680.7" x2="524.7" y2="680.7" stroke="#000" stroke-width="2.3"/>
<text transform="translate(516 686.6) scale(1 1.1)" font-size="15.6" text-anchor="end">–1.0</text>
<line x1="516.75" y1="664.5" x2="524.7" y2="664.5" stroke="#000" stroke-width="2.3"/>
<text transform="translate(516 670.4) scale(1 1.1)" font-size="15.6" text-anchor="end">–0.5</text>
<line x1="516.75" y1="648.3" x2="524.7" y2="648.3" stroke="#000" stroke-width="2.3"/>
<text transform="translate(516 654.2) scale(1 1.1)" font-size="15.6" text-anchor="end">0.0</text>
<line x1="516.75" y1="632.1" x2="524.7" y2="632.1" stroke="#000" stroke-width="2.3"/>
<text transform="translate(516 638) scale(1 1.1)" font-size="15.6" text-anchor="end">0.5</text>
<line x1="516.75" y1="615.9" x2="524.7" y2="615.9" stroke="#000" stroke-width="2.3"/>
<text transform="translate(516 621.8) scale(1 1.1)" font-size="15.6" text-anchor="end">1.0</text>
<line x1="516.75" y1="599.7" x2="524.7" y2="599.7" stroke="#000" stroke-width="2.3"/>
<text transform="translate(516 605.6) scale(1 1.1)" font-size="15.6" text-anchor="end">1.5</text>
<line x1="516.75" y1="583.5" x2="524.7" y2="583.5" stroke="#000" stroke-width="2.3"/>
<text transform="translate(516 589.4) scale(1 1.1)" font-size="15.6" text-anchor="end">2.0</text>
<line x1="516.75" y1="567.3" x2="524.7" y2="567.3" stroke="#000" stroke-width="2.3"/>
<text transform="translate(516 573.2) scale(1 1.1)" font-size="15.6" text-anchor="end">2.5</text>
<line x1="537.7" y1="680.7" x2="537.7" y2="688.65" stroke="#000" stroke-width="2.3"/>
<text transform="translate(537.7 701) scale(1 1.1)" font-size="15.6" text-anchor="middle">0</text>
<line x1="590.4" y1="680.7" x2="590.4" y2="688.65" stroke="#000" stroke-width="2.3"/>
<text transform="translate(590.4 701) scale(1 1.1)" font-size="15.6" text-anchor="middle">24</text>
<line x1="643.1" y1="680.7" x2="643.1" y2="688.65" stroke="#000" stroke-width="2.3"/>
<text transform="translate(643.1 701) scale(1 1.1)" font-size="15.6" text-anchor="middle">48</text>
<line x1="695.8" y1="680.7" x2="695.8" y2="688.65" stroke="#000" stroke-width="2.3"/>
<text transform="translate(695.8 701) scale(1 1.1)" font-size="15.6" text-anchor="middle">72</text>
<clipPath id="c13"><rect x="524.7" y="527.3" width="191.1" height="153.4"/></clipPath>
<g clip-path="url(#c13)" fill="none" stroke="#000" stroke-width="2.2" stroke-linejoin="round">
<path d="M524.11 641.22C525.14 640.36 527.71 637.28 530.28 636.08C532.85 634.88 537.13 633.17 539.53 634.03C541.93 634.88 542.95 638.99 544.67 641.22C546.38 643.45 547.92 645.67 549.8 647.39C551.69 649.1 554.09 649.44 555.97 651.5C557.86 653.55 559.23 657.15 561.11 659.72C562.99 662.29 565.22 667.26 567.28 666.91C569.33 666.57 571.39 660.92 573.44 657.66C575.5 654.41 577.55 650.3 579.61 647.39C581.66 644.47 583.89 642.25 585.78 640.19C587.66 638.14 589.37 637.62 590.91 635.05C592.46 632.48 593.48 628.37 595.03 624.78C596.57 621.18 597.94 616.73 600.16 613.47C602.39 610.22 605.99 606.96 608.39 605.25C610.78 603.54 612.15 603.28 614.55 603.19C616.95 603.11 620.03 604.22 622.77 604.73C625.52 605.25 628.26 605.68 631 606.28C633.74 606.88 636.31 607.48 639.22 608.33C642.13 609.19 646.07 611.07 648.47 611.42C650.87 611.76 651.72 611.16 653.61 610.39C655.49 609.62 657.55 607.9 659.77 606.79C662 605.68 664.74 603.45 666.97 603.71C669.19 603.96 671.25 606.02 673.13 608.33C675.02 610.64 676.73 614.5 678.27 617.58C679.82 620.66 681.19 623.58 682.38 626.83C683.58 630.09 684.95 635.4 685.47 637.11"/>
<path d="M524.11 651.5C524.8 650.3 526.51 646.19 528.22 644.3C529.93 642.42 532.5 641.56 534.39 640.19C536.27 638.82 537.99 635.74 539.53 636.08C541.07 636.42 541.75 640.02 543.64 642.25C545.52 644.47 548.78 647.22 550.83 649.44C552.89 651.67 554.26 653.04 555.97 655.61C557.68 658.18 559.4 662.97 561.11 664.86C562.82 666.74 564.54 668.11 566.25 666.91C567.96 665.71 569.67 660.92 571.39 657.66C573.1 654.41 574.81 650.47 576.53 647.39C578.24 644.3 579.78 640.96 581.66 639.16C583.55 637.37 585.78 637.11 587.83 636.6C589.89 636.08 591.94 635.65 594 636.08C596.05 636.51 598.11 638.48 600.16 639.16C602.22 639.85 604.28 640.53 606.33 640.19C608.39 639.85 610.61 638.82 612.5 637.11C614.38 635.4 615.92 632.83 617.64 629.91C619.35 627 621.23 623.06 622.77 619.64C624.32 616.21 625.52 611.59 626.89 609.36C628.26 607.13 629.28 606.62 631 606.28C632.71 605.93 634.77 606.45 637.16 607.3C639.56 608.16 642.64 610.22 645.39 611.42C648.13 612.61 650.52 613.13 653.61 614.5C656.69 615.87 660.8 618.1 663.88 619.64C666.97 621.18 669.88 622.72 672.11 623.75C674.33 624.78 675.53 625.97 677.25 625.8C678.96 625.63 680.67 624.26 682.38 622.72C684.1 621.18 686.67 617.58 687.52 616.55"/>
<path d="M524.11 653.55C525.31 653.38 529.42 653.21 531.31 652.53C533.19 651.84 533.87 650.64 535.42 649.44C536.96 648.24 538.67 645.67 540.55 645.33C542.44 644.99 544.67 646.53 546.72 647.39C548.78 648.24 551.35 650.47 552.89 650.47C554.43 650.47 554.94 648.07 555.97 647.39C557 646.7 557.86 645.67 559.05 646.36C560.25 647.04 561.62 649.44 563.17 651.5C564.71 653.55 566.93 656.81 568.3 658.69C569.67 660.58 570.19 661.95 571.39 662.8C572.59 663.66 574.13 664 575.5 663.83C576.87 663.66 578.24 663.32 579.61 661.77C580.98 660.23 582.35 657.32 583.72 654.58C585.09 651.84 586.46 647.22 587.83 645.33C589.2 643.45 590.23 643.1 591.94 643.28C593.66 643.45 596.05 644.13 598.11 646.36C600.16 648.59 602.39 653.55 604.28 656.64C606.16 659.72 607.7 662.8 609.41 664.86C611.13 666.91 612.84 669.31 614.55 668.97C616.27 668.63 618.15 666.06 619.69 662.8C621.23 659.55 622.43 654.41 623.8 649.44C625.17 644.47 626.2 637.45 627.91 633C629.63 628.54 632.37 623.75 634.08 622.72C635.79 621.69 636.65 624.95 638.19 626.83C639.73 628.72 641.27 631.63 643.33 634.03C645.39 636.42 647.78 639.59 650.52 641.22C653.26 642.85 656.86 643.62 659.77 643.79C662.69 643.96 665.43 642.85 668 642.25C670.57 641.65 672.79 641.22 675.19 640.19C677.59 639.16 680.16 637.62 682.38 636.08C684.61 634.54 687.52 631.8 688.55 630.94"/>
<path d="M524.11 647.39C525.14 646.36 528.22 642.42 530.28 641.22C532.33 640.02 534.56 640.71 536.44 640.19C538.33 639.68 539.87 637.45 541.58 638.14C543.3 638.82 544.67 642.59 546.72 644.3C548.78 646.02 551.86 646.36 553.92 648.41C555.97 650.47 557.34 653.72 559.05 656.64C560.77 659.55 562.65 664 564.19 665.89C565.73 667.77 566.76 668.8 568.3 667.94C569.85 667.08 571.9 663.49 573.44 660.75C574.98 658.01 575.84 654.07 577.55 651.5C579.27 648.93 581.84 647.22 583.72 645.33C585.6 643.45 587.15 641.39 588.86 640.19C590.57 638.99 592.11 636.94 594 638.14C595.88 639.34 597.94 644.13 600.16 647.39C602.39 650.64 605.3 655.61 607.36 657.66C609.41 659.72 610.96 660.06 612.5 659.72C614.04 659.38 615.24 658.18 616.61 655.61C617.98 653.04 619.18 649.61 620.72 644.3C622.26 638.99 624.32 629.74 625.86 623.75C627.4 617.75 628.6 611.07 629.97 608.33C631.34 605.59 632.54 606.11 634.08 607.3C635.62 608.5 637.16 612.44 639.22 615.53C641.27 618.61 643.84 622.38 646.41 625.8C648.98 629.23 652.07 633.17 654.64 636.08C657.2 638.99 659.77 641.56 661.83 643.28C663.88 644.99 665.08 646.36 666.97 646.36C668.85 646.36 671.08 644.82 673.13 643.28C675.19 641.73 677.25 639.16 679.3 637.11C681.36 635.05 684.44 631.97 685.47 630.94"/>
</g>
<line x1="1063.3" y1="203.63" x2="1233.8" y2="203.63" stroke="#000" stroke-width="1.5" stroke-dasharray="2.2 2.6"/>
<path d="M1063.3 122.7V236H1232.8" fill="none" stroke="#000" stroke-width="2.3" stroke-linejoin="miter" stroke-linecap="square"/>
<line x1="1055.35" y1="236" x2="1063.3" y2="236" stroke="#000" stroke-width="2.3"/>
<text transform="translate(1054.6 241.9) scale(1 1.1)" font-size="15.6" text-anchor="end">–1.0</text>
<line x1="1055.35" y1="219.81" x2="1063.3" y2="219.81" stroke="#000" stroke-width="2.3"/>
<text transform="translate(1054.6 225.71) scale(1 1.1)" font-size="15.6" text-anchor="end">–0.5</text>
<line x1="1055.35" y1="203.63" x2="1063.3" y2="203.63" stroke="#000" stroke-width="2.3"/>
<text transform="translate(1054.6 209.53) scale(1 1.1)" font-size="15.6" text-anchor="end">0.0</text>
<line x1="1055.35" y1="187.44" x2="1063.3" y2="187.44" stroke="#000" stroke-width="2.3"/>
<text transform="translate(1054.6 193.34) scale(1 1.1)" font-size="15.6" text-anchor="end">0.5</text>
<line x1="1055.35" y1="171.26" x2="1063.3" y2="171.26" stroke="#000" stroke-width="2.3"/>
<text transform="translate(1054.6 177.16) scale(1 1.1)" font-size="15.6" text-anchor="end">1.0</text>
<line x1="1055.35" y1="155.07" x2="1063.3" y2="155.07" stroke="#000" stroke-width="2.3"/>
<text transform="translate(1054.6 160.97) scale(1 1.1)" font-size="15.6" text-anchor="end">1.5</text>
<line x1="1055.35" y1="138.89" x2="1063.3" y2="138.89" stroke="#000" stroke-width="2.3"/>
<text transform="translate(1054.6 144.79) scale(1 1.1)" font-size="15.6" text-anchor="end">2.0</text>
<line x1="1055.35" y1="122.7" x2="1063.3" y2="122.7" stroke="#000" stroke-width="2.3"/>
<text transform="translate(1054.6 128.6) scale(1 1.1)" font-size="15.6" text-anchor="end">2.5</text>
<line x1="1076.4" y1="236" x2="1076.4" y2="243.95" stroke="#000" stroke-width="2.3"/>
<text transform="translate(1076.4 256.3) scale(1 1.1)" font-size="15.6" text-anchor="middle">0</text>
<line x1="1128.53" y1="236" x2="1128.53" y2="243.95" stroke="#000" stroke-width="2.3"/>
<text transform="translate(1128.53 256.3) scale(1 1.1)" font-size="15.6" text-anchor="middle">24</text>
<line x1="1180.67" y1="236" x2="1180.67" y2="243.95" stroke="#000" stroke-width="2.3"/>
<text transform="translate(1180.67 256.3) scale(1 1.1)" font-size="15.6" text-anchor="middle">48</text>
<line x1="1232.8" y1="236" x2="1232.8" y2="243.95" stroke="#000" stroke-width="2.3"/>
<text transform="translate(1232.8 256.3) scale(1 1.1)" font-size="15.6" text-anchor="middle">72</text>
<clipPath id="c14"><rect x="1063.3" y="82.7" width="189.5" height="153.3"/></clipPath>
<g clip-path="url(#c14)" fill="none" stroke="#000" stroke-width="2.2" stroke-linejoin="round">
<path d="M1062.11 216.75C1062.97 215.55 1065.37 212.98 1067.25 209.55C1069.13 206.13 1071.36 199.96 1073.42 196.19C1075.47 192.42 1077.87 189.85 1079.58 186.94C1081.3 184.03 1082.41 180.86 1083.69 178.72C1084.98 176.58 1086.09 174.1 1087.29 174.1C1088.49 174.1 1089.77 175.55 1090.89 178.72C1092 181.89 1093.11 187.97 1093.97 193.11C1094.83 198.25 1095.17 205.61 1096.03 209.55C1096.88 213.49 1097.91 216.75 1099.11 216.75C1100.31 216.75 1101.85 211.44 1103.22 209.55C1104.59 207.67 1105.79 204.93 1107.33 205.44C1108.87 205.96 1111.1 210.75 1112.47 212.64C1113.84 214.52 1114.35 216.92 1115.55 216.75C1116.75 216.58 1118.12 213.15 1119.66 211.61C1121.21 210.07 1123.09 208.01 1124.8 207.5C1126.52 206.98 1128.4 209.38 1129.94 208.53C1131.48 207.67 1132.51 205.96 1134.05 202.36C1135.6 198.76 1137.48 190.88 1139.19 186.94C1140.91 183 1142.62 179.41 1144.33 178.72C1146.04 178.04 1147.93 181.12 1149.47 182.83C1151.01 184.54 1152.04 186.6 1153.58 189C1155.12 191.4 1156.84 194.65 1158.72 197.22C1160.6 199.79 1163 202.53 1164.89 204.41C1166.77 206.3 1168.31 207.15 1170.02 208.53C1171.74 209.9 1173.28 213.15 1175.16 212.64C1177.05 212.12 1179.27 208.35 1181.33 205.44C1183.39 202.53 1185.44 198.08 1187.5 195.16C1189.55 192.25 1191.61 188.83 1193.66 187.97C1195.72 187.11 1197.77 188.66 1199.83 190.03C1201.88 191.4 1203.94 193.97 1206 196.19C1208.05 198.42 1210.11 201.84 1212.16 203.39C1214.22 204.93 1216.27 205.61 1218.33 205.44C1220.38 205.27 1222.1 202.87 1224.5 202.36C1226.89 201.84 1231.35 202.36 1232.72 202.36"/>
<path d="M1062.11 215.72C1063.14 214.01 1066.22 208.7 1068.28 205.44C1070.33 202.19 1072.56 198.25 1074.44 196.19C1076.33 194.14 1077.78 193.88 1079.58 193.11C1081.38 192.34 1083.52 190.88 1085.24 191.57C1086.95 192.25 1088.4 194.22 1089.86 197.22C1091.32 200.22 1092.6 206.47 1093.97 209.55C1095.34 212.64 1096.54 216.06 1098.08 215.72C1099.62 215.38 1101.51 208.7 1103.22 207.5C1104.93 206.3 1106.65 207.15 1108.36 208.53C1110.07 209.9 1111.79 214.86 1113.5 215.72C1115.21 216.58 1116.92 215.38 1118.64 213.66C1120.35 211.95 1121.89 206.64 1123.78 205.44C1125.66 204.24 1128.06 207.84 1129.94 206.47C1131.83 205.1 1133.37 201.33 1135.08 197.22C1136.79 193.11 1138.51 184.72 1140.22 181.8C1141.93 178.89 1143.65 179.23 1145.36 179.75C1147.07 180.26 1148.96 182.66 1150.5 184.89C1152.04 187.11 1153.07 190.54 1154.61 193.11C1156.15 195.68 1158.03 198.08 1159.75 200.3C1161.46 202.53 1163 205.96 1164.89 206.47C1166.77 206.98 1169.51 205.27 1171.05 203.39C1172.59 201.5 1172.94 195.85 1174.14 195.16C1175.33 194.48 1177.05 197.73 1178.25 199.28C1179.45 200.82 1180.13 204.76 1181.33 204.41C1182.53 204.07 1183.73 199.79 1185.44 197.22C1187.15 194.65 1189.72 190.71 1191.61 189C1193.49 187.29 1194.69 185.4 1196.75 186.94C1198.8 188.48 1201.71 195.34 1203.94 198.25C1206.17 201.16 1208.05 203.04 1210.11 204.41C1212.16 205.78 1214.22 207.15 1216.27 206.47C1218.33 205.78 1220.73 202.19 1222.44 200.3C1224.15 198.42 1225.18 195.16 1226.55 195.16C1227.92 195.16 1229.63 198.93 1230.66 200.3C1231.69 201.67 1232.37 202.87 1232.72 203.39"/>
<path d="M1062.11 201.33C1063.14 201.5 1066.22 201.84 1068.28 202.36C1070.33 202.87 1072.56 203.9 1074.44 204.41C1076.33 204.93 1077.7 205.78 1079.58 205.44C1081.47 205.1 1084.04 202.36 1085.75 202.36C1087.46 202.36 1088.15 203.73 1089.86 205.44C1091.57 207.15 1094.14 212.12 1096.03 212.64C1097.91 213.15 1099.45 209.55 1101.17 208.53C1102.88 207.5 1104.76 206.3 1106.3 206.47C1107.85 206.64 1108.87 210.24 1110.42 209.55C1111.96 208.87 1113.67 204.76 1115.55 202.36C1117.44 199.96 1120.01 196.19 1121.72 195.16C1123.43 194.14 1124.46 195.85 1125.83 196.19C1127.2 196.53 1128.57 197.73 1129.94 197.22C1131.31 196.71 1132.34 195.16 1134.05 193.11C1135.77 191.05 1137.99 186.94 1140.22 184.89C1142.45 182.83 1145.36 180.43 1147.41 180.78C1149.47 181.12 1150.84 184.37 1152.55 186.94C1154.27 189.51 1155.81 193.11 1157.69 196.19C1159.58 199.28 1161.97 202.87 1163.86 205.44C1165.74 208.01 1167.28 210.41 1169 211.61C1170.71 212.81 1172.25 213.32 1174.14 212.64C1176.02 211.95 1178.59 209.9 1180.3 207.5C1182.02 205.1 1182.87 201.16 1184.41 198.25C1185.95 195.34 1187.67 192.25 1189.55 190.03C1191.44 187.8 1193.32 186.09 1195.72 184.89C1198.12 183.69 1201.2 182.66 1203.94 182.83C1206.68 183 1209.42 184.72 1212.16 185.91C1214.9 187.11 1217.99 189 1220.38 190.03C1222.78 191.05 1224.5 191.57 1226.55 192.08C1228.61 192.6 1231.69 192.94 1232.72 193.11"/>
<path d="M1062.11 217.77C1063.14 216.06 1066.05 210.58 1068.28 207.5C1070.5 204.41 1073.59 199.96 1075.47 199.28C1077.36 198.59 1078.21 200.99 1079.58 203.39C1080.95 205.78 1082.15 210.75 1083.69 213.66C1085.24 216.58 1087.29 219.32 1088.83 220.86C1090.37 222.4 1091.57 223.26 1092.94 222.91C1094.31 222.57 1095.68 218.63 1097.05 218.8C1098.42 218.97 1099.8 224.28 1101.17 223.94C1102.54 223.6 1103.91 219.15 1105.28 216.75C1106.65 214.35 1107.67 209.9 1109.39 209.55C1111.1 209.21 1113.67 214.52 1115.55 214.69C1117.44 214.86 1118.98 211.44 1120.69 210.58C1122.41 209.72 1123.95 209.9 1125.83 209.55C1127.72 209.21 1130.11 209.55 1132 208.53C1133.88 207.5 1135.25 205.1 1137.14 203.39C1139.02 201.67 1141.42 199.79 1143.3 198.25C1145.19 196.71 1146.73 194.99 1148.44 194.14C1150.15 193.28 1151.87 192.6 1153.58 193.11C1155.29 193.62 1156.84 195.51 1158.72 197.22C1160.6 198.93 1163 200.99 1164.89 203.39C1166.77 205.78 1168.48 210.58 1170.02 211.61C1171.57 212.64 1172.77 210.92 1174.14 209.55C1175.51 208.18 1177.05 205.27 1178.25 203.39C1179.45 201.5 1180.13 197.91 1181.33 198.25C1182.53 198.59 1184.24 203.9 1185.44 205.44C1186.64 206.98 1187.33 208.53 1188.52 207.5C1189.72 206.47 1190.92 201.67 1192.64 199.28C1194.35 196.88 1196.75 194.48 1198.8 193.11C1200.86 191.74 1202.74 190.54 1204.97 191.05C1207.19 191.57 1209.94 194.14 1212.16 196.19C1214.39 198.25 1216.44 203.39 1218.33 203.39C1220.21 203.39 1222.1 197.91 1223.47 196.19C1224.84 194.48 1225.35 192.42 1226.55 193.11C1227.75 193.79 1229.63 198.76 1230.66 200.3C1231.69 201.84 1232.37 202.02 1232.72 202.36"/>
</g>
<line x1="1281.7" y1="203.63" x2="1452.4" y2="203.63" stroke="#000" stroke-width="1.5" stroke-dasharray="2.2 2.6"/>
<path d="M1281.7 122.7V236H1451.4" fill="none" stroke="#000" stroke-width="2.3" stroke-linejoin="miter" stroke-linecap="square"/>
<line x1="1273.75" y1="236" x2="1281.7" y2="236" stroke="#000" stroke-width="2.3"/>
<text transform="translate(1273 241.9) scale(1 1.1)" font-size="15.6" text-anchor="end">–1.0</text>
<line x1="1273.75" y1="219.81" x2="1281.7" y2="219.81" stroke="#000" stroke-width="2.3"/>
<text transform="translate(1273 225.71) scale(1 1.1)" font-size="15.6" text-anchor="end">–0.5</text>
<line x1="1273.75" y1="203.63" x2="1281.7" y2="203.63" stroke="#000" stroke-width="2.3"/>
<text transform="translate(1273 209.53) scale(1 1.1)" font-size="15.6" text-anchor="end">0.0</text>
<line x1="1273.75" y1="187.44" x2="1281.7" y2="187.44" stroke="#000" stroke-width="2.3"/>
<text transform="translate(1273 193.34) scale(1 1.1)" font-size="15.6" text-anchor="end">0.5</text>
<line x1="1273.75" y1="171.26" x2="1281.7" y2="171.26" stroke="#000" stroke-width="2.3"/>
<text transform="translate(1273 177.16) scale(1 1.1)" font-size="15.6" text-anchor="end">1.0</text>
<line x1="1273.75" y1="155.07" x2="1281.7" y2="155.07" stroke="#000" stroke-width="2.3"/>
<text transform="translate(1273 160.97) scale(1 1.1)" font-size="15.6" text-anchor="end">1.5</text>
<line x1="1273.75" y1="138.89" x2="1281.7" y2="138.89" stroke="#000" stroke-width="2.3"/>
<text transform="translate(1273 144.79) scale(1 1.1)" font-size="15.6" text-anchor="end">2.0</text>
<line x1="1273.75" y1="122.7" x2="1281.7" y2="122.7" stroke="#000" stroke-width="2.3"/>
<text transform="translate(1273 128.6) scale(1 1.1)" font-size="15.6" text-anchor="end">2.5</text>
<line x1="1295.1" y1="236" x2="1295.1" y2="243.95" stroke="#000" stroke-width="2.3"/>
<text transform="translate(1295.1 256.3) scale(1 1.1)" font-size="15.6" text-anchor="middle">0</text>
<line x1="1347.2" y1="236" x2="1347.2" y2="243.95" stroke="#000" stroke-width="2.3"/>
<text transform="translate(1347.2 256.3) scale(1 1.1)" font-size="15.6" text-anchor="middle">24</text>
<line x1="1399.3" y1="236" x2="1399.3" y2="243.95" stroke="#000" stroke-width="2.3"/>
<text transform="translate(1399.3 256.3) scale(1 1.1)" font-size="15.6" text-anchor="middle">48</text>
<line x1="1451.4" y1="236" x2="1451.4" y2="243.95" stroke="#000" stroke-width="2.3"/>
<text transform="translate(1451.4 256.3) scale(1 1.1)" font-size="15.6" text-anchor="middle">72</text>
<clipPath id="c15"><rect x="1281.7" y="82.7" width="189.7" height="153.3"/></clipPath>
<g clip-path="url(#c15)" fill="none" stroke="#000" stroke-width="2.2" stroke-linejoin="round">
<path d="M1281.11 205.44C1282.14 204.59 1284.88 202.7 1287.28 200.3C1289.68 197.91 1293.62 192.94 1295.5 191.05C1297.38 189.17 1297.38 188.66 1298.58 189C1299.78 189.34 1301.15 194.14 1302.69 193.11C1304.24 192.08 1306.29 183.52 1307.83 182.83C1309.37 182.15 1310.57 186.09 1311.94 189C1313.31 191.91 1314.68 196.71 1316.05 200.3C1317.42 203.9 1318.62 208.35 1320.17 210.58C1321.71 212.81 1323.59 212.12 1325.3 213.66C1327.02 215.21 1328.56 219.15 1330.44 219.83C1332.33 220.52 1334.55 217.77 1336.61 217.77C1338.66 217.77 1340.89 220.52 1342.78 219.83C1344.66 219.15 1346.37 216.4 1347.91 213.66C1349.46 210.92 1350.48 207.84 1352.03 203.39C1353.57 198.93 1355.02 190.88 1357.16 186.94C1359.31 183 1362.3 180.09 1364.87 179.75C1367.44 179.41 1369.93 183 1372.58 184.89C1375.24 186.77 1378.4 190.71 1380.8 191.05C1383.2 191.4 1385.08 188.83 1386.97 186.94C1388.85 185.06 1390.57 179.41 1392.11 179.75C1393.65 180.09 1394.85 186.09 1396.22 189C1397.59 191.91 1398.96 195.51 1400.33 197.22C1401.7 198.93 1402.9 199.1 1404.44 199.28C1405.98 199.45 1407.7 199.62 1409.58 198.25C1411.46 196.88 1413.52 193.97 1415.75 191.05C1417.97 188.14 1420.37 183.17 1422.94 180.78C1425.51 178.38 1428.59 176.66 1431.16 176.66C1433.73 176.66 1436.3 179.06 1438.36 180.78C1440.41 182.49 1441.95 185.23 1443.5 186.94C1445.04 188.66 1446.06 189.34 1447.61 191.05C1449.15 192.77 1451.89 196.19 1452.75 197.22"/>
<path d="M1281.11 206.47C1282.31 205.1 1286.08 200.47 1288.31 198.25C1290.53 196.02 1292.76 193.62 1294.47 193.11C1296.18 192.6 1297.21 194.99 1298.58 195.16C1299.95 195.34 1301.15 195.51 1302.69 194.14C1304.24 192.77 1306.29 186.77 1307.83 186.94C1309.37 187.11 1310.57 191.74 1311.94 195.16C1313.31 198.59 1314.68 204.41 1316.05 207.5C1317.42 210.58 1318.62 213.15 1320.17 213.66C1321.71 214.18 1323.25 211.27 1325.3 210.58C1327.36 209.9 1329.93 209.55 1332.5 209.55C1335.07 209.55 1337.98 210.41 1340.72 210.58C1343.46 210.75 1346.54 211.44 1348.94 210.58C1351.34 209.72 1353.22 207.67 1355.11 205.44C1356.99 203.22 1358.53 199.1 1360.25 197.22C1361.96 195.34 1363.33 194.14 1365.39 194.14C1367.44 194.14 1370.18 195.85 1372.58 197.22C1374.98 198.59 1377.55 200.99 1379.77 202.36C1382 203.73 1383.89 205.44 1385.94 205.44C1388 205.44 1389.88 203.9 1392.11 202.36C1394.33 200.82 1397.42 196.71 1399.3 196.19C1401.19 195.68 1402.04 197.73 1403.41 199.28C1404.78 200.82 1406.15 203.22 1407.52 205.44C1408.89 207.67 1409.75 210.58 1411.64 212.64C1413.52 214.69 1416.43 216.58 1418.83 217.77C1421.23 218.97 1423.63 220.34 1426.02 219.83C1428.42 219.32 1430.99 217.09 1433.22 214.69C1435.44 212.29 1437.33 208.35 1439.38 205.44C1441.44 202.53 1443.5 200.65 1445.55 197.22C1447.61 193.79 1450.69 186.94 1451.72 184.89"/>
<path d="M1281.11 207.5C1282.14 206.47 1285.05 203.39 1287.28 201.33C1289.5 199.28 1292.42 194.82 1294.47 195.16C1296.53 195.51 1298.07 203.39 1299.61 203.39C1301.15 203.39 1302.35 196.88 1303.72 195.16C1305.09 193.45 1306.46 191.91 1307.83 193.11C1309.2 194.31 1310.57 198.93 1311.94 202.36C1313.31 205.78 1314.51 211.27 1316.05 213.66C1317.6 216.06 1319.48 215.03 1321.19 216.75C1322.91 218.46 1324.62 222.06 1326.33 223.94C1328.04 225.83 1329.93 228.05 1331.47 228.05C1333.01 228.05 1334.21 226.68 1335.58 223.94C1336.95 221.2 1338.49 215.21 1339.69 211.61C1340.89 208.01 1341.58 203.56 1342.78 202.36C1343.97 201.16 1345.35 203.04 1346.89 204.41C1348.43 205.78 1350.14 208.53 1352.03 210.58C1353.91 212.64 1355.97 214.86 1358.19 216.75C1360.42 218.63 1362.99 220.69 1365.39 221.89C1367.78 223.08 1370.18 224.46 1372.58 223.94C1374.98 223.43 1377.55 221.2 1379.77 218.8C1382 216.4 1383.89 212.81 1385.94 209.55C1388 206.3 1390.39 202.7 1392.11 199.28C1393.82 195.85 1394.68 191.57 1396.22 189C1397.76 186.43 1399.82 183.86 1401.36 183.86C1402.9 183.86 1403.93 189.85 1405.47 189C1407.01 188.14 1408.64 181.63 1410.61 178.72C1412.58 175.81 1415.06 172.04 1417.29 171.53C1419.51 171.01 1422 173.07 1423.97 175.64C1425.94 178.21 1427.39 182.83 1429.11 186.94C1430.82 191.05 1432.53 197.39 1434.25 200.3C1435.96 203.22 1437.67 204.07 1439.38 204.41C1441.1 204.76 1442.3 202.7 1444.52 202.36C1446.75 202.02 1451.37 202.36 1452.75 202.36"/>
<path d="M1281.11 204.41C1282.14 203.56 1285.22 200.65 1287.28 199.28C1289.33 197.91 1291.39 196.19 1293.44 196.19C1295.5 196.19 1297.73 199.1 1299.61 199.28C1301.49 199.45 1303.04 196.71 1304.75 197.22C1306.46 197.73 1308.35 199.62 1309.89 202.36C1311.43 205.1 1312.63 211.27 1314 213.66C1315.37 216.06 1316.57 217.43 1318.11 216.75C1319.65 216.06 1321.71 209.72 1323.25 209.55C1324.79 209.38 1326.16 214.35 1327.36 215.72C1328.56 217.09 1328.9 218.46 1330.44 217.77C1331.98 217.09 1334.55 212.64 1336.61 211.61C1338.66 210.58 1340.72 211.78 1342.78 211.61C1344.83 211.44 1347.23 210.58 1348.94 210.58C1350.66 210.58 1351.34 210.41 1353.05 211.61C1354.77 212.81 1356.99 216.06 1359.22 217.77C1361.45 219.49 1364.02 220.17 1366.41 221.89C1368.81 223.6 1371.38 226.51 1373.61 228.05C1375.84 229.59 1377.72 231.14 1379.77 231.14C1381.83 231.14 1384.06 231.14 1385.94 228.05C1387.83 224.97 1389.37 218.46 1391.08 212.64C1392.79 206.81 1394.51 197.56 1396.22 193.11C1397.93 188.66 1399.64 186.26 1401.36 185.91C1403.07 185.57 1404.78 189.17 1406.5 191.05C1408.21 192.94 1409.58 194.82 1411.64 197.22C1413.69 199.62 1416.6 203.22 1418.83 205.44C1421.06 207.67 1422.94 209.21 1425 210.58C1427.05 211.95 1429.11 213.84 1431.16 213.66C1433.22 213.49 1435.27 212.64 1437.33 209.55C1439.38 206.47 1441.78 199.1 1443.5 195.16C1445.21 191.22 1446.24 187.63 1447.61 185.91C1448.98 184.2 1451.03 185.06 1451.72 184.89"/>
</g>
<line x1="1506.6" y1="203.63" x2="1678" y2="203.63" stroke="#000" stroke-width="1.5" stroke-dasharray="2.2 2.6"/>
<path d="M1506.6 122.7V236H1677" fill="none" stroke="#000" stroke-width="2.3" stroke-linejoin="miter" stroke-linecap="square"/>
<line x1="1498.65" y1="236" x2="1506.6" y2="236" stroke="#000" stroke-width="2.3"/>
<text transform="translate(1497.9 241.9) scale(1 1.1)" font-size="15.6" text-anchor="end">–1.0</text>
<line x1="1498.65" y1="219.81" x2="1506.6" y2="219.81" stroke="#000" stroke-width="2.3"/>
<text transform="translate(1497.9 225.71) scale(1 1.1)" font-size="15.6" text-anchor="end">–0.5</text>
<line x1="1498.65" y1="203.63" x2="1506.6" y2="203.63" stroke="#000" stroke-width="2.3"/>
<text transform="translate(1497.9 209.53) scale(1 1.1)" font-size="15.6" text-anchor="end">0.0</text>
<line x1="1498.65" y1="187.44" x2="1506.6" y2="187.44" stroke="#000" stroke-width="2.3"/>
<text transform="translate(1497.9 193.34) scale(1 1.1)" font-size="15.6" text-anchor="end">0.5</text>
<line x1="1498.65" y1="171.26" x2="1506.6" y2="171.26" stroke="#000" stroke-width="2.3"/>
<text transform="translate(1497.9 177.16) scale(1 1.1)" font-size="15.6" text-anchor="end">1.0</text>
<line x1="1498.65" y1="155.07" x2="1506.6" y2="155.07" stroke="#000" stroke-width="2.3"/>
<text transform="translate(1497.9 160.97) scale(1 1.1)" font-size="15.6" text-anchor="end">1.5</text>
<line x1="1498.65" y1="138.89" x2="1506.6" y2="138.89" stroke="#000" stroke-width="2.3"/>
<text transform="translate(1497.9 144.79) scale(1 1.1)" font-size="15.6" text-anchor="end">2.0</text>
<line x1="1498.65" y1="122.7" x2="1506.6" y2="122.7" stroke="#000" stroke-width="2.3"/>
<text transform="translate(1497.9 128.6) scale(1 1.1)" font-size="15.6" text-anchor="end">2.5</text>
<line x1="1519.6" y1="236" x2="1519.6" y2="243.95" stroke="#000" stroke-width="2.3"/>
<text transform="translate(1519.6 256.3) scale(1 1.1)" font-size="15.6" text-anchor="middle">0</text>
<line x1="1572.07" y1="236" x2="1572.07" y2="243.95" stroke="#000" stroke-width="2.3"/>
<text transform="translate(1572.07 256.3) scale(1 1.1)" font-size="15.6" text-anchor="middle">24</text>
<line x1="1624.53" y1="236" x2="1624.53" y2="243.95" stroke="#000" stroke-width="2.3"/>
<text transform="translate(1624.53 256.3) scale(1 1.1)" font-size="15.6" text-anchor="middle">48</text>
<line x1="1677" y1="236" x2="1677" y2="243.95" stroke="#000" stroke-width="2.3"/>
<text transform="translate(1677 256.3) scale(1 1.1)" font-size="15.6" text-anchor="middle">72</text>
<clipPath id="c16"><rect x="1506.6" y="82.7" width="190.4" height="153.3"/></clipPath>
<g clip-path="url(#c16)" fill="none" stroke="#000" stroke-width="2.2" stroke-linejoin="round">
<path d="M1506.11 208.53C1507.14 206.98 1510.39 202.19 1512.28 199.28C1514.16 196.36 1515.7 192.85 1517.42 191.05C1519.13 189.25 1520.84 188.14 1522.55 188.48C1524.27 188.83 1526.15 191.14 1527.69 193.11C1529.24 195.08 1530.09 197.39 1531.8 200.3C1533.52 203.22 1535.74 208.18 1537.97 210.58C1540.2 212.98 1542.94 213.66 1545.17 214.69C1547.39 215.72 1549.62 215.21 1551.33 216.75C1553.04 218.29 1553.9 223.94 1555.44 223.94C1556.98 223.94 1558.87 219.15 1560.58 216.75C1562.29 214.35 1563.84 211.44 1565.72 209.55C1567.6 207.67 1570.17 205.1 1571.89 205.44C1573.6 205.78 1574.46 209.55 1576 211.61C1577.54 213.66 1579.08 215.72 1581.14 217.77C1583.19 219.83 1585.93 221.89 1588.33 223.94C1590.73 226 1593.13 229.77 1595.53 230.11C1597.92 230.45 1600.49 228.74 1602.72 226C1604.95 223.26 1606.83 217.95 1608.89 213.66C1610.94 209.38 1613 203.9 1615.05 200.3C1617.11 196.71 1619.51 193.62 1621.22 192.08C1622.93 190.54 1623.96 193.97 1625.33 191.05C1626.7 188.14 1627.9 179.41 1629.44 174.61C1630.98 169.81 1632.44 164.85 1634.58 162.28C1636.72 159.71 1639.72 159.02 1642.29 159.19C1644.86 159.36 1647.34 161.42 1650 163.3C1652.65 165.19 1655.82 168.27 1658.22 170.5C1660.62 172.73 1662.33 174.78 1664.38 176.66C1666.44 178.55 1668.5 179.75 1670.55 181.8C1672.61 183.86 1675.69 187.8 1676.72 189"/>
<path d="M1506.11 210.58C1506.97 209.72 1509.54 207.67 1511.25 205.44C1512.96 203.22 1514.68 199.96 1516.39 197.22C1518.1 194.48 1519.81 189.34 1521.53 189C1523.24 188.66 1524.78 193.45 1526.67 195.16C1528.55 196.88 1530.95 197.73 1532.83 199.28C1534.72 200.82 1536.26 202.36 1537.97 204.41C1539.68 206.47 1541.23 209.9 1543.11 211.61C1544.99 213.32 1547.05 213.15 1549.28 214.69C1551.5 216.23 1554.42 220.86 1556.47 220.86C1558.53 220.86 1559.73 216.92 1561.61 214.69C1563.49 212.46 1565.89 208.87 1567.78 207.5C1569.66 206.13 1570.86 206.81 1572.91 206.47C1574.97 206.13 1577.71 204.93 1580.11 205.44C1582.51 205.96 1585.25 207.84 1587.3 209.55C1589.36 211.27 1590.39 212.98 1592.44 215.72C1594.5 218.46 1597.41 223.94 1599.64 226C1601.86 228.05 1603.92 228.91 1605.8 228.05C1607.69 227.2 1609.23 224.28 1610.94 220.86C1612.65 217.43 1614.54 211.44 1616.08 207.5C1617.62 203.56 1618.82 199.96 1620.19 197.22C1621.56 194.48 1622.42 192.08 1624.3 191.05C1626.19 190.03 1629.1 192.08 1631.5 191.05C1633.89 190.03 1636.29 187.46 1638.69 184.89C1641.09 182.32 1643.49 178.38 1645.88 175.64C1648.28 172.9 1650.85 170.16 1653.08 168.44C1655.31 166.73 1657.19 165.02 1659.25 165.36C1661.3 165.7 1663.7 169.13 1665.41 170.5C1667.13 171.87 1667.64 172.73 1669.52 173.58C1671.41 174.44 1675.52 175.29 1676.72 175.64"/>
<path d="M1506.11 215.72C1507.14 214.35 1510.39 210.75 1512.28 207.5C1514.16 204.24 1515.7 199.28 1517.42 196.19C1519.13 193.11 1521.01 189.51 1522.55 189C1524.1 188.48 1525.3 191.05 1526.67 193.11C1528.04 195.16 1529.24 198.25 1530.78 201.33C1532.32 204.41 1534.37 208.7 1535.92 211.61C1537.46 214.52 1538.49 218.12 1540.03 218.8C1541.57 219.49 1543.45 216.23 1545.17 215.72C1546.88 215.21 1548.59 214.86 1550.3 215.72C1552.02 216.58 1553.73 221.89 1555.44 220.86C1557.16 219.83 1559.04 214.01 1560.58 209.55C1562.12 205.1 1563.49 197.05 1564.69 194.14C1565.89 191.22 1566.58 190.71 1567.78 192.08C1568.97 193.45 1570.17 198.08 1571.89 202.36C1573.6 206.64 1576 213.66 1578.05 217.77C1580.11 221.89 1581.82 224.8 1584.22 227.02C1586.62 229.25 1589.87 230.96 1592.44 231.14C1595.01 231.31 1597.24 230.11 1599.64 228.05C1602.03 226 1604.6 222.57 1606.83 218.8C1609.06 215.03 1611.11 209.21 1613 205.44C1614.88 201.67 1616.08 197.91 1618.14 196.19C1620.19 194.48 1623.27 193.62 1625.33 195.16C1627.39 196.71 1628.76 203.22 1630.47 205.44C1632.18 207.67 1633.89 208.7 1635.61 208.53C1637.32 208.35 1639.03 206.3 1640.75 204.41C1642.46 202.53 1644 199.79 1645.88 197.22C1647.77 194.65 1649.82 191.57 1652.05 189C1654.28 186.43 1657.19 183.52 1659.25 181.8C1661.3 180.09 1662.5 179.41 1664.38 178.72C1666.27 178.04 1668.5 178.38 1670.55 177.69C1672.61 177.01 1675.69 175.12 1676.72 174.61"/>
<path d="M1506.11 212.64C1507.14 211.09 1510.22 206.64 1512.28 203.39C1514.33 200.13 1516.39 194.99 1518.44 193.11C1520.5 191.22 1522.73 190.54 1524.61 192.08C1526.49 193.62 1527.87 200.13 1529.75 202.36C1531.63 204.59 1534.03 205.44 1535.92 205.44C1537.8 205.44 1539.17 203.22 1541.05 202.36C1542.94 201.5 1545.34 199.79 1547.22 200.3C1549.11 200.82 1550.65 203.56 1552.36 205.44C1554.07 207.33 1555.61 210.75 1557.5 211.61C1559.38 212.46 1561.61 211.27 1563.66 210.58C1565.72 209.9 1567.78 208.35 1569.83 207.5C1571.89 206.64 1574.11 206.47 1576 205.44C1577.88 204.41 1579.42 202.27 1581.14 201.33C1582.85 200.39 1584.39 199.62 1586.28 199.79C1588.16 199.96 1590.39 201.42 1592.44 202.36C1594.5 203.3 1596.55 204.76 1598.61 205.44C1600.66 206.13 1602.72 206.81 1604.77 206.47C1606.83 206.13 1609.06 204.93 1610.94 203.39C1612.83 201.84 1614.2 198.93 1616.08 197.22C1617.96 195.51 1620.53 193.11 1622.25 193.11C1623.96 193.11 1624.82 195.51 1626.36 197.22C1627.9 198.93 1629.61 201.84 1631.5 203.39C1633.38 204.93 1635.61 205.61 1637.66 206.47C1639.72 207.33 1641.77 207.93 1643.83 208.53C1645.88 209.12 1647.94 210.07 1650 210.07C1652.05 210.07 1654.11 209.47 1656.16 208.53C1658.22 207.58 1660.27 205.96 1662.33 204.41C1664.38 202.87 1666.1 201.84 1668.5 199.28C1670.89 196.71 1675.35 190.71 1676.72 189"/>
</g>
<line x1="1767.4" y1="203.63" x2="1939.3" y2="203.63" stroke="#000" stroke-width="1.5" stroke-dasharray="2.2 2.6"/>
<path d="M1767.4 122.7V236H1938.3" fill="none" stroke="#000" stroke-width="2.3" stroke-linejoin="miter" stroke-linecap="square"/>
<line x1="1759.45" y1="236" x2="1767.4" y2="236" stroke="#000" stroke-width="2.3"/>
<text transform="translate(1758.7 241.9) scale(1 1.1)" font-size="15.6" text-anchor="end">–1.0</text>
<line x1="1759.45" y1="219.81" x2="1767.4" y2="219.81" stroke="#000" stroke-width="2.3"/>
<text transform="translate(1758.7 225.71) scale(1 1.1)" font-size="15.6" text-anchor="end">–0.5</text>
<line x1="1759.45" y1="203.63" x2="1767.4" y2="203.63" stroke="#000" stroke-width="2.3"/>
<text transform="translate(1758.7 209.53) scale(1 1.1)" font-size="15.6" text-anchor="end">0.0</text>
<line x1="1759.45" y1="187.44" x2="1767.4" y2="187.44" stroke="#000" stroke-width="2.3"/>
<text transform="translate(1758.7 193.34) scale(1 1.1)" font-size="15.6" text-anchor="end">0.5</text>
<line x1="1759.45" y1="171.26" x2="1767.4" y2="171.26" stroke="#000" stroke-width="2.3"/>
<text transform="translate(1758.7 177.16) scale(1 1.1)" font-size="15.6" text-anchor="end">1.0</text>
<line x1="1759.45" y1="155.07" x2="1767.4" y2="155.07" stroke="#000" stroke-width="2.3"/>
<text transform="translate(1758.7 160.97) scale(1 1.1)" font-size="15.6" text-anchor="end">1.5</text>
<line x1="1759.45" y1="138.89" x2="1767.4" y2="138.89" stroke="#000" stroke-width="2.3"/>
<text transform="translate(1758.7 144.79) scale(1 1.1)" font-size="15.6" text-anchor="end">2.0</text>
<line x1="1759.45" y1="122.7" x2="1767.4" y2="122.7" stroke="#000" stroke-width="2.3"/>
<text transform="translate(1758.7 128.6) scale(1 1.1)" font-size="15.6" text-anchor="end">2.5</text>
<line x1="1780.3" y1="236" x2="1780.3" y2="243.95" stroke="#000" stroke-width="2.3"/>
<text transform="translate(1780.3 256.3) scale(1 1.1)" font-size="15.6" text-anchor="middle">0</text>
<line x1="1832.97" y1="236" x2="1832.97" y2="243.95" stroke="#000" stroke-width="2.3"/>
<text transform="translate(1832.97 256.3) scale(1 1.1)" font-size="15.6" text-anchor="middle">24</text>
<line x1="1885.63" y1="236" x2="1885.63" y2="243.95" stroke="#000" stroke-width="2.3"/>
<text transform="translate(1885.63 256.3) scale(1 1.1)" font-size="15.6" text-anchor="middle">48</text>
<line x1="1938.3" y1="236" x2="1938.3" y2="243.95" stroke="#000" stroke-width="2.3"/>
<text transform="translate(1938.3 256.3) scale(1 1.1)" font-size="15.6" text-anchor="middle">72</text>
<clipPath id="c17"><rect x="1767.4" y="82.7" width="190.9" height="153.3"/></clipPath>
<g clip-path="url(#c17)" fill="none" stroke="#000" stroke-width="2.2" stroke-linejoin="round">
<path d="M1767.07 190.03C1768.01 191.22 1770.58 197.73 1772.72 197.22C1774.86 196.71 1777.86 187.63 1779.92 186.94C1781.97 186.26 1783.17 191.05 1785.05 193.11C1786.94 195.16 1789.34 196.53 1791.22 199.28C1793.11 202.02 1794.65 208.18 1796.36 209.55C1798.07 210.92 1799.61 207.5 1801.5 207.5C1803.38 207.5 1805.78 208.7 1807.66 209.55C1809.55 210.41 1811.09 212.12 1812.8 212.64C1814.52 213.15 1816.23 213.84 1817.94 212.64C1819.66 211.44 1821.03 208.7 1823.08 205.44C1825.14 202.19 1828.22 194.31 1830.28 193.11C1832.33 191.91 1833.53 196.53 1835.41 198.25C1837.3 199.96 1839.35 202.7 1841.58 203.39C1843.81 204.07 1846.21 202.87 1848.77 202.36C1851.34 201.84 1854.43 201.33 1857 200.3C1859.57 199.28 1861.79 197.56 1864.19 196.19C1866.59 194.82 1869.33 192.6 1871.39 192.08C1873.44 191.57 1874.64 193.11 1876.52 193.11C1878.41 193.11 1880.46 191.91 1882.69 192.08C1884.92 192.25 1888 193.97 1889.88 194.14C1891.77 194.31 1892.28 195.34 1894 193.11C1895.71 190.88 1898.11 184.54 1900.16 180.78C1902.22 177.01 1904.27 173.41 1906.33 170.5C1908.38 167.59 1910.44 165.53 1912.5 163.3C1914.55 161.08 1916.61 159.19 1918.66 157.14C1920.72 155.08 1922.77 153.2 1924.83 150.97C1926.88 148.74 1929.28 146.35 1930.99 143.78C1932.71 141.21 1933.91 138.3 1935.11 135.55C1936.3 132.81 1937.68 128.7 1938.19 127.33"/>
<path d="M1767.07 211.61C1768.01 210.92 1770.41 210.41 1772.72 207.5C1775.03 204.59 1778.55 195.51 1780.94 194.14C1783.34 192.77 1785.05 197.05 1787.11 199.28C1789.17 201.5 1791.39 205.1 1793.28 207.5C1795.16 209.9 1796.7 212.12 1798.42 213.66C1800.13 215.21 1801.67 215.89 1803.55 216.75C1805.44 217.6 1807.66 217.09 1809.72 218.8C1811.78 220.52 1814.17 226.17 1815.89 227.02C1817.6 227.88 1818.46 227.2 1820 223.94C1821.54 220.69 1823.25 211.61 1825.14 207.5C1827.02 203.39 1829.42 199.96 1831.3 199.28C1833.19 198.59 1834.56 200.99 1836.44 203.39C1838.33 205.78 1840.55 212.98 1842.61 213.66C1844.66 214.35 1846.72 209.55 1848.77 207.5C1850.83 205.44 1852.71 203.04 1854.94 201.33C1857.17 199.62 1859.74 198.08 1862.14 197.22C1864.53 196.36 1867.27 196.19 1869.33 196.19C1871.39 196.19 1872.76 197.73 1874.47 197.22C1876.18 196.71 1877.72 194.31 1879.61 193.11C1881.49 191.91 1883.89 190.03 1885.77 190.03C1887.66 190.03 1889.37 193.62 1890.91 193.11C1892.45 192.6 1893.48 190.03 1895.02 186.94C1896.57 183.86 1898.28 178.21 1900.16 174.61C1902.05 171.01 1904.1 167.93 1906.33 165.36C1908.56 162.79 1911.13 160.56 1913.52 159.19C1915.92 157.82 1918.49 157.31 1920.72 157.14C1922.94 156.97 1924.83 158.08 1926.88 158.17C1928.94 158.25 1931.51 157.31 1933.05 157.65C1934.59 157.99 1935.28 159.11 1936.13 160.22C1936.99 161.33 1937.85 163.65 1938.19 164.33"/>
<path d="M1767.07 207.5C1768.01 208.53 1770.58 215.72 1772.72 213.66C1774.86 211.61 1777.52 197.22 1779.92 195.16C1782.31 193.11 1785.05 199.79 1787.11 201.33C1789.17 202.87 1790.88 202.7 1792.25 204.41C1793.62 206.13 1794.13 207.67 1795.33 211.61C1796.53 215.55 1798.33 224.28 1799.44 228.05C1800.56 231.82 1800.98 234.22 1802.01 234.22C1803.04 234.22 1804.32 230.96 1805.61 228.05C1806.89 225.14 1808.35 219.49 1809.72 216.75C1811.09 214.01 1812.12 212.29 1813.83 211.61C1815.54 210.92 1817.94 213.66 1820 212.64C1822.05 211.61 1824.28 208.01 1826.16 205.44C1828.05 202.87 1829.59 197.39 1831.3 197.22C1833.02 197.05 1834.73 201.67 1836.44 204.41C1838.15 207.15 1839.87 211.09 1841.58 213.66C1843.29 216.23 1844.84 217.43 1846.72 219.83C1848.6 222.23 1850.83 226 1852.89 228.05C1854.94 230.11 1857 232.16 1859.05 232.16C1861.11 232.16 1863.33 230.79 1865.22 228.05C1867.1 225.31 1868.82 220.52 1870.36 215.72C1871.9 210.92 1873.1 204.76 1874.47 199.28C1875.84 193.79 1877.21 186.26 1878.58 182.83C1879.95 179.41 1881.15 178.38 1882.69 178.72C1884.23 179.06 1886.29 182.49 1887.83 184.89C1889.37 187.29 1890.57 191.4 1891.94 193.11C1893.31 194.82 1894.17 196.36 1896.05 195.16C1897.94 193.97 1900.85 189.34 1903.25 185.91C1905.64 182.49 1908.21 177.86 1910.44 174.61C1912.67 171.35 1914.72 168.1 1916.61 166.39C1918.49 164.67 1920.03 164.16 1921.75 164.33C1923.46 164.5 1925 166.04 1926.88 167.42C1928.77 168.79 1931.17 171.35 1933.05 172.55C1934.93 173.75 1937.33 174.27 1938.19 174.61"/>
<path d="M1767.07 209.55C1768.01 209.21 1770.58 210.75 1772.72 207.5C1774.86 204.24 1777.86 192.08 1779.92 190.03C1781.97 187.97 1783.34 192.25 1785.05 195.16C1786.77 198.08 1788.65 204.41 1790.19 207.5C1791.73 210.58 1792.76 213.66 1794.3 213.66C1795.85 213.66 1797.56 208.35 1799.44 207.5C1801.33 206.64 1803.55 206.98 1805.61 208.53C1807.66 210.07 1809.89 213.84 1811.78 216.75C1813.66 219.66 1815.2 226.68 1816.91 226C1818.63 225.31 1820.17 216.92 1822.05 212.64C1823.94 208.35 1825.99 202.7 1828.22 200.3C1830.45 197.91 1833.53 197.73 1835.41 198.25C1837.3 198.76 1837.98 203.73 1839.53 203.39C1841.07 203.04 1842.95 197.73 1844.66 196.19C1846.38 194.65 1848.09 193.79 1849.8 194.14C1851.52 194.48 1853.06 196.02 1854.94 198.25C1856.83 200.47 1859.05 205.44 1861.11 207.5C1863.16 209.55 1865.39 211.44 1867.27 210.58C1869.16 209.72 1870.87 204.93 1872.41 202.36C1873.95 199.79 1875.15 197.05 1876.52 195.16C1877.89 193.28 1879.09 191.4 1880.64 191.05C1882.18 190.71 1884.06 192.25 1885.77 193.11C1887.49 193.97 1889.2 196.19 1890.91 196.19C1892.63 196.19 1894.17 195.34 1896.05 193.11C1897.94 190.88 1899.99 186.26 1902.22 182.83C1904.44 179.41 1907.19 175.64 1909.41 172.55C1911.64 169.47 1913.69 165.87 1915.58 164.33C1917.46 162.79 1918.83 162.62 1920.72 163.3C1922.6 163.99 1924.83 166.9 1926.88 168.44C1928.94 169.98 1931.17 171.18 1933.05 172.55C1934.93 173.92 1937.33 175.98 1938.19 176.66"/>
<path d="M1767.07 212.64C1768.01 212.12 1770.41 212.46 1772.72 209.55C1775.03 206.64 1778.55 196.53 1780.94 195.16C1783.34 193.79 1785.4 199.96 1787.11 201.33C1788.82 202.7 1789.85 202.36 1791.22 203.39C1792.59 204.41 1793.79 205.78 1795.33 207.5C1796.87 209.21 1798.59 211.78 1800.47 213.66C1802.35 215.55 1804.75 217.26 1806.64 218.8C1808.52 220.34 1810.23 221.2 1811.78 222.91C1813.32 224.63 1814.52 229.08 1815.89 229.08C1817.26 229.08 1818.63 225.83 1820 222.91C1821.37 220 1822.57 215.03 1824.11 211.61C1825.65 208.18 1827.36 203.22 1829.25 202.36C1831.13 201.5 1833.19 204.59 1835.41 206.47C1837.64 208.35 1840.04 213.15 1842.61 213.66C1845.18 214.18 1848.09 211.27 1850.83 209.55C1853.57 207.84 1856.48 205.44 1859.05 203.39C1861.62 201.33 1864.02 198.93 1866.25 197.22C1868.47 195.51 1870.7 192.08 1872.41 193.11C1874.13 194.14 1874.98 202.02 1876.52 203.39C1878.07 204.76 1879.95 201.84 1881.66 201.33C1883.38 200.82 1885.09 200.13 1886.8 200.3C1888.51 200.47 1890.06 202.36 1891.94 202.36C1893.82 202.36 1895.71 201.5 1898.11 200.3C1900.5 199.1 1903.59 197.39 1906.33 195.16C1909.07 192.94 1912.15 189.51 1914.55 186.94C1916.95 184.37 1918.66 182.83 1920.72 179.75C1922.77 176.66 1925.17 170.16 1926.88 168.44C1928.6 166.73 1929.11 168.44 1930.99 169.47C1932.88 170.5 1936.99 173.75 1938.19 174.61"/>
</g>
<line x1="1063.3" y1="347.9" x2="1235.8" y2="347.9" stroke="#000" stroke-width="1.5" stroke-dasharray="2.2 2.6"/>
<path d="M1063.3 266.9V380.3H1234.8" fill="none" stroke="#000" stroke-width="2.3" stroke-linejoin="miter" stroke-linecap="square"/>
<line x1="1055.35" y1="380.3" x2="1063.3" y2="380.3" stroke="#000" stroke-width="2.3"/>
<text transform="translate(1054.6 386.2) scale(1 1.1)" font-size="15.6" text-anchor="end">–1.0</text>
<line x1="1055.35" y1="364.1" x2="1063.3" y2="364.1" stroke="#000" stroke-width="2.3"/>
<text transform="translate(1054.6 370) scale(1 1.1)" font-size="15.6" text-anchor="end">–0.5</text>
<line x1="1055.35" y1="347.9" x2="1063.3" y2="347.9" stroke="#000" stroke-width="2.3"/>
<text transform="translate(1054.6 353.8) scale(1 1.1)" font-size="15.6" text-anchor="end">0.0</text>
<line x1="1055.35" y1="331.7" x2="1063.3" y2="331.7" stroke="#000" stroke-width="2.3"/>
<text transform="translate(1054.6 337.6) scale(1 1.1)" font-size="15.6" text-anchor="end">0.5</text>
<line x1="1055.35" y1="315.5" x2="1063.3" y2="315.5" stroke="#000" stroke-width="2.3"/>
<text transform="translate(1054.6 321.4) scale(1 1.1)" font-size="15.6" text-anchor="end">1.0</text>
<line x1="1055.35" y1="299.3" x2="1063.3" y2="299.3" stroke="#000" stroke-width="2.3"/>
<text transform="translate(1054.6 305.2) scale(1 1.1)" font-size="15.6" text-anchor="end">1.5</text>
<line x1="1055.35" y1="283.1" x2="1063.3" y2="283.1" stroke="#000" stroke-width="2.3"/>
<text transform="translate(1054.6 289) scale(1 1.1)" font-size="15.6" text-anchor="end">2.0</text>
<line x1="1055.35" y1="266.9" x2="1063.3" y2="266.9" stroke="#000" stroke-width="2.3"/>
<text transform="translate(1054.6 272.8) scale(1 1.1)" font-size="15.6" text-anchor="end">2.5</text>
<line x1="1077" y1="380.3" x2="1077" y2="388.25" stroke="#000" stroke-width="2.3"/>
<text transform="translate(1077 400.6) scale(1 1.1)" font-size="15.6" text-anchor="middle">0</text>
<line x1="1129.6" y1="380.3" x2="1129.6" y2="388.25" stroke="#000" stroke-width="2.3"/>
<text transform="translate(1129.6 400.6) scale(1 1.1)" font-size="15.6" text-anchor="middle">24</text>
<line x1="1182.2" y1="380.3" x2="1182.2" y2="388.25" stroke="#000" stroke-width="2.3"/>
<text transform="translate(1182.2 400.6) scale(1 1.1)" font-size="15.6" text-anchor="middle">48</text>
<line x1="1234.8" y1="380.3" x2="1234.8" y2="388.25" stroke="#000" stroke-width="2.3"/>
<text transform="translate(1234.8 400.6) scale(1 1.1)" font-size="15.6" text-anchor="middle">72</text>
<clipPath id="c18"><rect x="1063.3" y="226.9" width="191.5" height="153.4"/></clipPath>
<g clip-path="url(#c18)" fill="none" stroke="#000" stroke-width="2.2" stroke-linejoin="round">
<path d="M1062.11 347.9L1235.8 347.9"/>
<path d="M1062.11 353.55C1062.97 352.53 1065.19 349.61 1067.25 347.39C1069.31 345.16 1072.22 341.22 1074.44 340.19C1076.67 339.16 1078.55 340.71 1080.61 341.22C1082.67 341.73 1084.89 341.56 1086.78 343.28C1088.66 344.99 1090.2 348.76 1091.92 351.5C1093.63 354.24 1095.34 358.01 1097.05 359.72C1098.77 361.43 1100.48 362.12 1102.19 361.77C1103.91 361.43 1105.62 359.72 1107.33 357.66C1109.04 355.61 1110.76 353.55 1112.47 349.44C1114.18 345.33 1115.9 336.51 1117.61 333C1119.32 329.49 1120.86 328.03 1122.75 328.37C1124.63 328.72 1127.2 332.06 1128.91 335.05C1130.63 338.05 1131.48 343.96 1133.03 346.36C1134.57 348.76 1136.11 349.1 1138.16 349.44C1140.22 349.78 1142.79 348.41 1145.36 348.41C1147.93 348.41 1151.01 349.1 1153.58 349.44C1156.15 349.78 1158.55 350.47 1160.77 350.47C1163 350.47 1164.89 350.13 1166.94 349.44C1169 348.76 1171.05 347.22 1173.11 346.36C1175.16 345.5 1177.22 344.65 1179.27 344.3C1181.33 343.96 1183.39 346.7 1185.44 344.3C1187.5 341.91 1189.89 332.57 1191.61 329.91C1193.32 327.26 1194.01 327.69 1195.72 328.37C1197.43 329.06 1199.83 331.88 1201.88 334.03C1203.94 336.17 1206.17 338.31 1208.05 341.22C1209.94 344.13 1211.65 349.1 1213.19 351.5C1214.73 353.9 1215.76 355.61 1217.3 355.61C1218.84 355.61 1220.73 353.9 1222.44 351.5C1224.15 349.1 1225.87 344.3 1227.58 341.22C1229.29 338.14 1231.35 334.54 1232.72 333C1234.09 331.46 1235.29 332.14 1235.8 331.97"/>
<path d="M1062.11 354.58C1063.14 353.55 1066.05 350.98 1068.28 348.41C1070.5 345.84 1073.24 340.88 1075.47 339.16C1077.7 337.45 1079.58 339.34 1081.64 338.14C1083.69 336.94 1086.09 331.97 1087.8 331.97C1089.52 331.97 1090.37 335.22 1091.92 338.14C1093.46 341.05 1095.34 345.67 1097.05 349.44C1098.77 353.21 1100.65 358.18 1102.19 360.75C1103.73 363.32 1104.76 365.89 1106.3 364.86C1107.85 363.83 1109.9 357.49 1111.44 354.58C1112.98 351.67 1114.18 347.9 1115.55 347.39C1116.92 346.87 1117.95 353.21 1119.66 351.5C1121.38 349.78 1124.12 338.82 1125.83 337.11C1127.54 335.4 1128.57 339.16 1129.94 341.22C1131.31 343.28 1132.34 347.04 1134.05 349.44C1135.77 351.84 1137.99 352.87 1140.22 355.61C1142.45 358.35 1145.02 364.34 1147.41 365.89C1149.81 367.43 1152.21 366.06 1154.61 364.86C1157.01 363.66 1159.4 360.75 1161.8 358.69C1164.2 356.64 1166.77 353.04 1169 352.53C1171.22 352.01 1173.45 353.3 1175.16 355.61C1176.88 357.92 1177.9 366.06 1179.27 366.4C1180.64 366.74 1182.19 360.83 1183.39 357.66C1184.58 354.5 1185.27 350.47 1186.47 347.39C1187.67 344.3 1189.04 341.91 1190.58 339.16C1192.12 336.42 1193.83 331.97 1195.72 330.94C1197.6 329.91 1199.83 330.94 1201.88 333C1203.94 335.05 1206 339.85 1208.05 343.28C1210.11 346.7 1212.5 351.33 1214.22 353.55C1215.93 355.78 1216.62 356.98 1218.33 356.64C1220.04 356.29 1222.44 354.07 1224.5 351.5C1226.55 348.93 1228.78 343.28 1230.66 341.22C1232.55 339.16 1234.94 339.51 1235.8 339.16"/>
<path d="M1062.11 352.53C1063.14 352.18 1066.05 352.35 1068.28 350.47C1070.5 348.59 1073.24 342.59 1075.47 341.22C1077.7 339.85 1079.58 341.05 1081.64 342.25C1083.69 343.45 1085.75 348.24 1087.8 348.41C1089.86 348.59 1092.09 342.25 1093.97 343.28C1095.86 344.3 1097.57 351.33 1099.11 354.58C1100.65 357.84 1101.68 362.29 1103.22 362.8C1104.76 363.32 1106.65 359.55 1108.36 357.66C1110.07 355.78 1111.79 352.35 1113.5 351.5C1115.21 350.64 1116.92 352.18 1118.64 352.53C1120.35 352.87 1121.55 352.53 1123.78 353.55C1126 354.58 1129.6 358.86 1132 358.69C1134.4 358.52 1135.94 354.75 1138.16 352.53C1140.39 350.3 1142.79 347.39 1145.36 345.33C1147.93 343.28 1151.18 341.31 1153.58 340.19C1155.98 339.08 1157.69 338.48 1159.75 338.65C1161.8 338.82 1164.03 340.11 1165.91 341.22C1167.8 342.33 1169.51 345.33 1171.05 345.33C1172.59 345.33 1173.79 342.93 1175.16 341.22C1176.53 339.51 1177.9 335.05 1179.27 335.05C1180.64 335.05 1182.02 338.99 1183.39 341.22C1184.76 343.45 1185.95 347.39 1187.5 348.41C1189.04 349.44 1190.92 347.73 1192.64 347.39C1194.35 347.04 1195.89 346.36 1197.77 346.36C1199.66 346.36 1201.88 346.53 1203.94 347.39C1206 348.24 1208.05 350.13 1210.11 351.5C1212.16 352.87 1214.22 355.61 1216.27 355.61C1218.33 355.61 1220.38 354.07 1222.44 351.5C1224.5 348.93 1226.89 342.25 1228.61 340.19C1230.32 338.14 1231.52 338.48 1232.72 339.16C1233.92 339.85 1235.29 343.45 1235.8 344.3"/>
<path d="M1062.11 353.55C1063.31 353.72 1067.08 354.58 1069.31 354.58C1071.53 354.58 1073.42 353.9 1075.47 353.55C1077.53 353.21 1079.75 353.72 1081.64 352.53C1083.52 351.33 1085.24 348.76 1086.78 346.36C1088.32 343.96 1089.52 338.99 1090.89 338.14C1092.26 337.28 1093.63 338.99 1095 341.22C1096.37 343.45 1097.57 346.36 1099.11 351.5C1100.65 356.64 1102.88 369.48 1104.25 372.05C1105.62 374.62 1106.13 370.34 1107.33 366.91C1108.53 363.49 1110.07 355.44 1111.44 351.5C1112.81 347.56 1113.84 344.3 1115.55 343.28C1117.27 342.25 1119.32 344.65 1121.72 345.33C1124.12 346.02 1127.2 348.07 1129.94 347.39C1132.68 346.7 1135.77 342.68 1138.16 341.22C1140.56 339.76 1142.28 338.82 1144.33 338.65C1146.39 338.48 1148.27 339.08 1150.5 340.19C1152.72 341.31 1155.29 343.79 1157.69 345.33C1160.09 346.87 1162.66 349.78 1164.89 349.44C1167.11 349.1 1168.83 344.13 1171.05 343.28C1173.28 342.42 1176.02 343.62 1178.25 344.3C1180.47 344.99 1182.36 349.44 1184.41 347.39C1186.47 345.33 1188.52 334.88 1190.58 331.97C1192.64 329.06 1194.69 329.4 1196.75 329.91C1198.8 330.43 1200.86 333.51 1202.91 335.05C1204.97 336.6 1206.85 337.79 1209.08 339.16C1211.31 340.53 1214.05 342.59 1216.27 343.28C1218.5 343.96 1220.38 343.79 1222.44 343.28C1224.5 342.76 1226.55 340.71 1228.61 340.19C1230.66 339.68 1233.75 340.19 1234.77 340.19"/>
</g>
<line x1="1281.7" y1="347.9" x2="1452.4" y2="347.9" stroke="#000" stroke-width="1.5" stroke-dasharray="2.2 2.6"/>
<path d="M1281.7 266.9V380.3H1451.4" fill="none" stroke="#000" stroke-width="2.3" stroke-linejoin="miter" stroke-linecap="square"/>
<line x1="1273.75" y1="380.3" x2="1281.7" y2="380.3" stroke="#000" stroke-width="2.3"/>
<text transform="translate(1273 386.2) scale(1 1.1)" font-size="15.6" text-anchor="end">–1.0</text>
<line x1="1273.75" y1="364.1" x2="1281.7" y2="364.1" stroke="#000" stroke-width="2.3"/>
<text transform="translate(1273 370) scale(1 1.1)" font-size="15.6" text-anchor="end">–0.5</text>
<line x1="1273.75" y1="347.9" x2="1281.7" y2="347.9" stroke="#000" stroke-width="2.3"/>
<text transform="translate(1273 353.8) scale(1 1.1)" font-size="15.6" text-anchor="end">0.0</text>
<line x1="1273.75" y1="331.7" x2="1281.7" y2="331.7" stroke="#000" stroke-width="2.3"/>
<text transform="translate(1273 337.6) scale(1 1.1)" font-size="15.6" text-anchor="end">0.5</text>
<line x1="1273.75" y1="315.5" x2="1281.7" y2="315.5" stroke="#000" stroke-width="2.3"/>
<text transform="translate(1273 321.4) scale(1 1.1)" font-size="15.6" text-anchor="end">1.0</text>
<line x1="1273.75" y1="299.3" x2="1281.7" y2="299.3" stroke="#000" stroke-width="2.3"/>
<text transform="translate(1273 305.2) scale(1 1.1)" font-size="15.6" text-anchor="end">1.5</text>
<line x1="1273.75" y1="283.1" x2="1281.7" y2="283.1" stroke="#000" stroke-width="2.3"/>
<text transform="translate(1273 289) scale(1 1.1)" font-size="15.6" text-anchor="end">2.0</text>
<line x1="1273.75" y1="266.9" x2="1281.7" y2="266.9" stroke="#000" stroke-width="2.3"/>
<text transform="translate(1273 272.8) scale(1 1.1)" font-size="15.6" text-anchor="end">2.5</text>
<line x1="1295.1" y1="380.3" x2="1295.1" y2="388.25" stroke="#000" stroke-width="2.3"/>
<text transform="translate(1295.1 400.6) scale(1 1.1)" font-size="15.6" text-anchor="middle">0</text>
<line x1="1347.2" y1="380.3" x2="1347.2" y2="388.25" stroke="#000" stroke-width="2.3"/>
<text transform="translate(1347.2 400.6) scale(1 1.1)" font-size="15.6" text-anchor="middle">24</text>
<line x1="1399.3" y1="380.3" x2="1399.3" y2="388.25" stroke="#000" stroke-width="2.3"/>
<text transform="translate(1399.3 400.6) scale(1 1.1)" font-size="15.6" text-anchor="middle">48</text>
<line x1="1451.4" y1="380.3" x2="1451.4" y2="388.25" stroke="#000" stroke-width="2.3"/>
<text transform="translate(1451.4 400.6) scale(1 1.1)" font-size="15.6" text-anchor="middle">72</text>
<clipPath id="c19"><rect x="1281.7" y="226.9" width="189.7" height="153.4"/></clipPath>
<g clip-path="url(#c19)" fill="none" stroke="#000" stroke-width="2.2" stroke-linejoin="round">
<path d="M1282.14 330.94C1283.08 328.97 1285.74 319.98 1287.79 319.12C1289.85 318.27 1292.33 322.29 1294.47 325.8C1296.61 329.32 1298.75 335.57 1300.64 340.19C1302.52 344.82 1304.06 349.96 1305.78 353.55C1307.49 357.15 1309.2 359.89 1310.92 361.77C1312.63 363.66 1314.34 364.69 1316.05 364.86C1317.77 365.03 1319.65 362.63 1321.19 362.8C1322.73 362.97 1324.11 364 1325.3 365.89C1326.5 367.77 1327.45 371.37 1328.39 374.11C1329.33 376.85 1329.59 380.45 1330.96 382.33C1332.33 384.21 1334.81 385.58 1336.61 385.41C1338.41 385.24 1340.21 383.87 1341.75 381.3C1343.29 378.73 1344.32 373.08 1345.86 370C1347.4 366.91 1349.46 365.54 1351 362.8C1352.54 360.06 1353.74 356.64 1355.11 353.55C1356.48 350.47 1357.68 346.36 1359.22 344.3C1360.76 342.25 1362.3 341.39 1364.36 341.22C1366.41 341.05 1368.98 342.42 1371.55 343.28C1374.12 344.13 1377.38 345.5 1379.77 346.36C1382.17 347.22 1384.06 348.76 1385.94 348.41C1387.83 348.07 1389.37 345.84 1391.08 344.3C1392.79 342.76 1394.33 339.51 1396.22 339.16C1398.1 338.82 1400.67 340.53 1402.39 342.25C1404.1 343.96 1404.95 347.04 1406.5 349.44C1408.04 351.84 1409.92 353.9 1411.64 356.64C1413.35 359.38 1415.06 362.97 1416.77 365.89C1418.49 368.8 1420.37 371.62 1421.91 374.11C1423.45 376.59 1424.14 379.85 1426.02 380.79C1427.91 381.73 1430.82 380.1 1433.22 379.76C1435.62 379.42 1438.7 380.87 1440.41 378.73C1442.13 376.59 1442.3 371.45 1443.5 366.91C1444.69 362.37 1446.24 354.92 1447.61 351.5C1448.98 348.07 1451.03 347.22 1451.72 346.36"/>
<path d="M1282.14 357.66C1283 356.29 1285.39 350.64 1287.28 349.44C1289.16 348.24 1291.73 350.13 1293.44 350.47C1295.16 350.81 1295.84 351.84 1297.55 351.5C1299.27 351.15 1301.49 349.1 1303.72 348.41C1305.95 347.73 1308.86 346.02 1310.92 347.39C1312.97 348.76 1314.51 354.07 1316.05 356.64C1317.6 359.21 1318.62 361.95 1320.17 362.8C1321.71 363.66 1323.59 362.8 1325.3 361.77C1327.02 360.75 1328.9 356.81 1330.44 356.64C1331.98 356.46 1333.18 361.26 1334.55 360.75C1335.92 360.23 1337.29 356.46 1338.66 353.55C1340.04 350.64 1341.06 346.7 1342.78 343.28C1344.49 339.85 1347.06 333 1348.94 333C1350.83 333 1352.54 339.85 1354.08 343.28C1355.62 346.7 1356.48 350.47 1358.19 353.55C1359.91 356.64 1362.13 360.06 1364.36 361.77C1366.59 363.49 1369.15 364 1371.55 363.83C1373.95 363.66 1376.35 362.46 1378.75 360.75C1381.15 359.03 1383.71 355.95 1385.94 353.55C1388.17 351.15 1390.22 349.1 1392.11 346.36C1393.99 343.62 1395.88 338.14 1397.25 337.11C1398.62 336.08 1399.13 338.14 1400.33 340.19C1401.53 342.25 1402.73 346.7 1404.44 349.44C1406.15 352.18 1408.55 354.24 1410.61 356.64C1412.66 359.03 1414.72 362.8 1416.77 363.83C1418.83 364.86 1420.88 363.83 1422.94 362.8C1425 361.77 1427.05 359.21 1429.11 357.66C1431.16 356.12 1433.22 354.92 1435.27 353.55C1437.33 352.18 1439.38 351.67 1441.44 349.44C1443.5 347.22 1445.89 342.25 1447.61 340.19C1449.32 338.14 1451.03 337.62 1451.72 337.11"/>
<path d="M1282.14 359.72C1282.82 360.23 1284.71 363.49 1286.25 362.8C1287.79 362.12 1289.68 358.01 1291.39 355.61C1293.1 353.21 1294.99 350.81 1296.53 348.41C1298.07 346.02 1299.1 342.93 1300.64 341.22C1302.18 339.51 1304.32 339.08 1305.78 338.14C1307.23 337.19 1308.18 334.88 1309.37 335.57C1310.57 336.25 1311.69 338.74 1312.97 342.25C1314.26 345.76 1315.71 352.87 1317.08 356.64C1318.45 360.4 1319.82 364.17 1321.19 364.86C1322.56 365.54 1323.76 362.8 1325.3 360.75C1326.85 358.69 1328.9 353.38 1330.44 352.53C1331.98 351.67 1333.18 356.29 1334.55 355.61C1335.92 354.92 1336.95 349.27 1338.66 348.41C1340.38 347.56 1342.78 349.78 1344.83 350.47C1346.89 351.15 1349.29 352.7 1351 352.53C1352.71 352.35 1353.74 350.64 1355.11 349.44C1356.48 348.24 1357.34 347.22 1359.22 345.33C1361.1 343.45 1364.19 339.16 1366.41 338.14C1368.64 337.11 1370.53 338.48 1372.58 339.16C1374.64 339.85 1376.69 342.08 1378.75 342.25C1380.8 342.42 1382.86 341.05 1384.91 340.19C1386.97 339.34 1389.02 337.97 1391.08 337.11C1393.14 336.25 1395.36 334.71 1397.25 335.05C1399.13 335.4 1400.67 338.14 1402.39 339.16C1404.1 340.19 1405.64 340.88 1407.52 341.22C1409.41 341.56 1411.46 340.71 1413.69 341.22C1415.92 341.73 1418.66 343.1 1420.88 344.3C1423.11 345.5 1424.82 347.56 1427.05 348.41C1429.28 349.27 1431.85 350.3 1434.25 349.44C1436.64 348.59 1439.21 346.02 1441.44 343.28C1443.67 340.53 1445.89 334.37 1447.61 333C1449.32 331.63 1451.03 334.71 1451.72 335.05"/>
<path d="M1282.14 355.61C1283 353.21 1285.56 343.79 1287.28 341.22C1288.99 338.65 1290.53 339.85 1292.42 340.19C1294.3 340.53 1296.7 341.05 1298.58 343.28C1300.47 345.5 1302.01 350.64 1303.72 353.55C1305.43 356.46 1307.15 360.06 1308.86 360.75C1310.57 361.43 1312.46 357.49 1314 357.66C1315.54 357.84 1316.57 361.77 1318.11 361.77C1319.65 361.77 1321.54 359.03 1323.25 357.66C1324.96 356.29 1326.67 354.58 1328.39 353.55C1330.1 352.53 1331.64 351.67 1333.53 351.5C1335.41 351.33 1337.47 353.04 1339.69 352.53C1341.92 352.01 1344.66 349.27 1346.89 348.41C1349.11 347.56 1351.17 346.53 1353.05 347.39C1354.94 348.24 1356.31 351.15 1358.19 353.55C1360.08 355.95 1362.3 359.03 1364.36 361.77C1366.41 364.52 1368.64 367.6 1370.53 370C1372.41 372.39 1373.95 374.79 1375.66 376.16C1377.38 377.53 1379.09 378.9 1380.8 378.22C1382.52 377.53 1384.23 375.48 1385.94 372.05C1387.65 368.63 1389.54 362.8 1391.08 357.66C1392.62 352.53 1393.82 342.08 1395.19 341.22C1396.56 340.36 1397.76 348.41 1399.3 352.53C1400.84 356.64 1402.56 364.34 1404.44 365.89C1406.33 367.43 1408.38 362.8 1410.61 361.77C1412.83 360.75 1415.57 359.72 1417.8 359.72C1420.03 359.72 1421.74 360.75 1423.97 361.77C1426.19 362.8 1428.94 364.86 1431.16 365.89C1433.39 366.91 1435.44 367.77 1437.33 367.94C1439.21 368.11 1440.75 369.14 1442.47 366.91C1444.18 364.69 1446.06 358.01 1447.61 354.58C1449.15 351.15 1451.03 347.73 1451.72 346.36"/>
</g>
<line x1="1506.6" y1="347.9" x2="1678" y2="347.9" stroke="#000" stroke-width="1.5" stroke-dasharray="2.2 2.6"/>
<path d="M1506.6 266.9V380.3H1677" fill="none" stroke="#000" stroke-width="2.3" stroke-linejoin="miter" stroke-linecap="square"/>
<line x1="1498.65" y1="380.3" x2="1506.6" y2="380.3" stroke="#000" stroke-width="2.3"/>
<text transform="translate(1497.9 386.2) scale(1 1.1)" font-size="15.6" text-anchor="end">–1.0</text>
<line x1="1498.65" y1="364.1" x2="1506.6" y2="364.1" stroke="#000" stroke-width="2.3"/>
<text transform="translate(1497.9 370) scale(1 1.1)" font-size="15.6" text-anchor="end">–0.5</text>
<line x1="1498.65" y1="347.9" x2="1506.6" y2="347.9" stroke="#000" stroke-width="2.3"/>
<text transform="translate(1497.9 353.8) scale(1 1.1)" font-size="15.6" text-anchor="end">0.0</text>
<line x1="1498.65" y1="331.7" x2="1506.6" y2="331.7" stroke="#000" stroke-width="2.3"/>
<text transform="translate(1497.9 337.6) scale(1 1.1)" font-size="15.6" text-anchor="end">0.5</text>
<line x1="1498.65" y1="315.5" x2="1506.6" y2="315.5" stroke="#000" stroke-width="2.3"/>
<text transform="translate(1497.9 321.4) scale(1 1.1)" font-size="15.6" text-anchor="end">1.0</text>
<line x1="1498.65" y1="299.3" x2="1506.6" y2="299.3" stroke="#000" stroke-width="2.3"/>
<text transform="translate(1497.9 305.2) scale(1 1.1)" font-size="15.6" text-anchor="end">1.5</text>
<line x1="1498.65" y1="283.1" x2="1506.6" y2="283.1" stroke="#000" stroke-width="2.3"/>
<text transform="translate(1497.9 289) scale(1 1.1)" font-size="15.6" text-anchor="end">2.0</text>
<line x1="1498.65" y1="266.9" x2="1506.6" y2="266.9" stroke="#000" stroke-width="2.3"/>
<text transform="translate(1497.9 272.8) scale(1 1.1)" font-size="15.6" text-anchor="end">2.5</text>
<line x1="1519.6" y1="380.3" x2="1519.6" y2="388.25" stroke="#000" stroke-width="2.3"/>
<text transform="translate(1519.6 400.6) scale(1 1.1)" font-size="15.6" text-anchor="middle">0</text>
<line x1="1572.07" y1="380.3" x2="1572.07" y2="388.25" stroke="#000" stroke-width="2.3"/>
<text transform="translate(1572.07 400.6) scale(1 1.1)" font-size="15.6" text-anchor="middle">24</text>
<line x1="1624.53" y1="380.3" x2="1624.53" y2="388.25" stroke="#000" stroke-width="2.3"/>
<text transform="translate(1624.53 400.6) scale(1 1.1)" font-size="15.6" text-anchor="middle">48</text>
<line x1="1677" y1="380.3" x2="1677" y2="388.25" stroke="#000" stroke-width="2.3"/>
<text transform="translate(1677 400.6) scale(1 1.1)" font-size="15.6" text-anchor="middle">72</text>
<clipPath id="c20"><rect x="1506.6" y="226.9" width="190.4" height="153.4"/></clipPath>
<g clip-path="url(#c20)" fill="none" stroke="#000" stroke-width="2.2" stroke-linejoin="round">
<path d="M1506.11 362.8C1506.97 362.12 1509.54 361.6 1511.25 358.69C1512.96 355.78 1514.85 348.59 1516.39 345.33C1517.93 342.08 1518.96 339.34 1520.5 339.16C1522.04 338.99 1524.1 342.76 1525.64 344.3C1527.18 345.84 1528.38 347.9 1529.75 348.41C1531.12 348.93 1532.49 346.02 1533.86 347.39C1535.23 348.76 1536.6 353.38 1537.97 356.64C1539.34 359.89 1540.88 364.69 1542.08 366.91C1543.28 369.14 1543.97 370.68 1545.17 370C1546.36 369.31 1547.91 365.37 1549.28 362.8C1550.65 360.23 1552.02 355.44 1553.39 354.58C1554.76 353.72 1556.13 356.12 1557.5 357.66C1558.87 359.21 1559.9 362.97 1561.61 363.83C1563.32 364.69 1565.72 363.49 1567.78 362.8C1569.83 362.12 1572.06 361.6 1573.94 359.72C1575.83 357.84 1577.54 355.95 1579.08 351.5C1580.62 347.04 1581.31 337.02 1583.19 333C1585.08 328.97 1588.16 327.35 1590.39 327.35C1592.61 327.35 1594.67 330.69 1596.55 333C1598.44 335.31 1599.98 338.65 1601.69 341.22C1603.4 343.79 1604.95 346.7 1606.83 348.41C1608.71 350.13 1611.11 352.18 1613 351.5C1614.88 350.81 1616.59 347.73 1618.14 344.3C1619.68 340.88 1621.05 333.85 1622.25 330.94C1623.45 328.03 1624.13 326.15 1625.33 326.83C1626.53 327.52 1628.07 331.97 1629.44 335.05C1630.81 338.14 1632.01 341.91 1633.55 345.33C1635.09 348.76 1636.98 352.53 1638.69 355.61C1640.4 358.69 1641.95 361.6 1643.83 363.83C1645.71 366.06 1647.94 368.28 1650 368.97C1652.05 369.65 1654.11 369.83 1656.16 367.94C1658.22 366.06 1660.44 361.43 1662.33 357.66C1664.21 353.9 1665.93 349.44 1667.47 345.33C1669.01 341.22 1670.04 335.91 1671.58 333C1673.12 330.09 1675.86 328.72 1676.72 327.86"/>
<path d="M1506.11 363.83C1506.97 362.63 1509.54 360.58 1511.25 356.64C1512.96 352.7 1514.85 344.13 1516.39 340.19C1517.93 336.25 1519.13 334.71 1520.5 333C1521.87 331.29 1523.07 329.91 1524.61 329.91C1526.15 329.91 1528.04 331.29 1529.75 333C1531.46 334.71 1533.18 337.11 1534.89 340.19C1536.6 343.28 1538.31 348.07 1540.03 351.5C1541.74 354.92 1543.45 360.06 1545.17 360.75C1546.88 361.43 1548.59 355.78 1550.3 355.61C1552.02 355.44 1553.73 360.23 1555.44 359.72C1557.16 359.21 1558.87 355.27 1560.58 352.53C1562.29 349.78 1564.01 345.5 1565.72 343.28C1567.43 341.05 1569.15 339.16 1570.86 339.16C1572.57 339.16 1574.11 342.08 1576 343.28C1577.88 344.47 1579.94 346.36 1582.16 346.36C1584.39 346.36 1586.79 343.79 1589.36 343.28C1591.93 342.76 1595.01 343.1 1597.58 343.28C1600.15 343.45 1602.55 344.3 1604.77 344.3C1607 344.3 1608.89 344.47 1610.94 343.28C1613 342.08 1615.39 338.48 1617.11 337.11C1618.82 335.74 1619.33 334.54 1621.22 335.05C1623.1 335.57 1626.02 339.51 1628.41 340.19C1630.81 340.88 1633.38 340.02 1635.61 339.16C1637.83 338.31 1639.72 336.25 1641.77 335.05C1643.83 333.85 1645.71 332.14 1647.94 331.97C1650.17 331.8 1652.74 332.83 1655.13 334.03C1657.53 335.22 1660.1 338.14 1662.33 339.16C1664.56 340.19 1666.1 340.19 1668.5 340.19C1670.89 340.19 1675.35 339.34 1676.72 339.16"/>
<path d="M1506.11 346.36C1507.14 346.19 1510.56 345.84 1512.28 345.33C1513.99 344.82 1515.19 343.96 1516.39 343.28C1517.59 342.59 1518.27 340.71 1519.47 341.22C1520.67 341.73 1522.21 344.82 1523.58 346.36C1524.95 347.9 1526.32 351.33 1527.69 350.47C1529.06 349.61 1530.26 343.62 1531.8 341.22C1533.35 338.82 1535.4 335.91 1536.94 336.08C1538.49 336.25 1539.86 339.68 1541.05 342.25C1542.25 344.82 1542.94 348.93 1544.14 351.5C1545.34 354.07 1546.71 355.61 1548.25 357.66C1549.79 359.72 1551.67 364.17 1553.39 363.83C1555.1 363.49 1556.81 358.35 1558.53 355.61C1560.24 352.87 1561.95 349.61 1563.66 347.39C1565.38 345.16 1567.09 341.91 1568.8 342.25C1570.52 342.59 1572.4 346.36 1573.94 349.44C1575.48 352.53 1576.51 359.89 1578.05 360.75C1579.6 361.6 1581.48 356.64 1583.19 354.58C1584.91 352.53 1586.45 350.13 1588.33 348.41C1590.22 346.7 1592.44 345.16 1594.5 344.3C1596.55 343.45 1598.61 342.76 1600.66 343.28C1602.72 343.79 1604.6 345.84 1606.83 347.39C1609.06 348.93 1612.14 352.18 1614.02 352.53C1615.91 352.87 1616.59 351.33 1618.14 349.44C1619.68 347.56 1621.56 342.93 1623.27 341.22C1624.99 339.51 1626.53 339.34 1628.41 339.16C1630.3 338.99 1632.35 340.53 1634.58 340.19C1636.81 339.85 1639.55 336.94 1641.77 337.11C1644 337.28 1645.88 339.16 1647.94 341.22C1650 343.28 1651.71 347.73 1654.11 349.44C1656.5 351.15 1659.93 351.67 1662.33 351.5C1664.73 351.33 1666.1 349.78 1668.5 348.41C1670.89 347.04 1675.35 344.13 1676.72 343.28"/>
<path d="M1506.11 349.44C1507.48 349.44 1511.76 349.61 1514.33 349.44C1516.9 349.27 1519.3 348.93 1521.53 348.41C1523.75 347.9 1525.81 346.53 1527.69 346.36C1529.58 346.19 1531.12 345.67 1532.83 347.39C1534.55 349.1 1536.43 353.38 1537.97 356.64C1539.51 359.89 1540.88 364.69 1542.08 366.91C1543.28 369.14 1543.97 370.68 1545.17 370C1546.36 369.31 1547.91 365.2 1549.28 362.8C1550.65 360.4 1552.02 357.49 1553.39 355.61C1554.76 353.72 1556.13 352.18 1557.5 351.5C1558.87 350.81 1560.24 352.18 1561.61 351.5C1562.98 350.81 1564.18 349.1 1565.72 347.39C1567.26 345.67 1569.15 341.73 1570.86 341.22C1572.57 340.71 1574.29 342.93 1576 344.3C1577.71 345.67 1579.25 348.59 1581.14 349.44C1583.02 350.3 1585.08 349.1 1587.3 349.44C1589.53 349.78 1591.93 351.15 1594.5 351.5C1597.07 351.84 1600.15 351.15 1602.72 351.5C1605.29 351.84 1607.86 353.04 1609.91 353.55C1611.97 354.07 1613.34 355.44 1615.05 354.58C1616.77 353.72 1618.48 350.13 1620.19 348.41C1621.9 346.7 1623.45 345.5 1625.33 344.3C1627.21 343.1 1629.61 342.42 1631.5 341.22C1633.38 340.02 1634.58 337.62 1636.64 337.11C1638.69 336.6 1641.43 336.42 1643.83 338.14C1646.23 339.85 1648.97 344.47 1651.02 347.39C1653.08 350.3 1654.28 354.24 1656.16 355.61C1658.05 356.98 1660.27 356.98 1662.33 355.61C1664.38 354.24 1666.1 350.13 1668.5 347.39C1670.89 344.65 1675.35 340.53 1676.72 339.16"/>
</g>
<line x1="1063.3" y1="496.89" x2="1235.8" y2="496.89" stroke="#000" stroke-width="1.5" stroke-dasharray="2.2 2.6"/>
<path d="M1063.3 416.1V529.2H1234.8" fill="none" stroke="#000" stroke-width="2.3" stroke-linejoin="miter" stroke-linecap="square"/>
<line x1="1055.35" y1="529.2" x2="1063.3" y2="529.2" stroke="#000" stroke-width="2.3"/>
<text transform="translate(1054.6 535.1) scale(1 1.1)" font-size="15.6" text-anchor="end">–1.0</text>
<line x1="1055.35" y1="513.04" x2="1063.3" y2="513.04" stroke="#000" stroke-width="2.3"/>
<text transform="translate(1054.6 518.94) scale(1 1.1)" font-size="15.6" text-anchor="end">–0.5</text>
<line x1="1055.35" y1="496.89" x2="1063.3" y2="496.89" stroke="#000" stroke-width="2.3"/>
<text transform="translate(1054.6 502.79) scale(1 1.1)" font-size="15.6" text-anchor="end">0.0</text>
<line x1="1055.35" y1="480.73" x2="1063.3" y2="480.73" stroke="#000" stroke-width="2.3"/>
<text transform="translate(1054.6 486.63) scale(1 1.1)" font-size="15.6" text-anchor="end">0.5</text>
<line x1="1055.35" y1="464.57" x2="1063.3" y2="464.57" stroke="#000" stroke-width="2.3"/>
<text transform="translate(1054.6 470.47) scale(1 1.1)" font-size="15.6" text-anchor="end">1.0</text>
<line x1="1055.35" y1="448.41" x2="1063.3" y2="448.41" stroke="#000" stroke-width="2.3"/>
<text transform="translate(1054.6 454.31) scale(1 1.1)" font-size="15.6" text-anchor="end">1.5</text>
<line x1="1055.35" y1="432.26" x2="1063.3" y2="432.26" stroke="#000" stroke-width="2.3"/>
<text transform="translate(1054.6 438.16) scale(1 1.1)" font-size="15.6" text-anchor="end">2.0</text>
<line x1="1055.35" y1="416.1" x2="1063.3" y2="416.1" stroke="#000" stroke-width="2.3"/>
<text transform="translate(1054.6 422) scale(1 1.1)" font-size="15.6" text-anchor="end">2.5</text>
<line x1="1077" y1="529.2" x2="1077" y2="537.15" stroke="#000" stroke-width="2.3"/>
<text transform="translate(1077 549.5) scale(1 1.1)" font-size="15.6" text-anchor="middle">0</text>
<line x1="1129.6" y1="529.2" x2="1129.6" y2="537.15" stroke="#000" stroke-width="2.3"/>
<text transform="translate(1129.6 549.5) scale(1 1.1)" font-size="15.6" text-anchor="middle">24</text>
<line x1="1182.2" y1="529.2" x2="1182.2" y2="537.15" stroke="#000" stroke-width="2.3"/>
<text transform="translate(1182.2 549.5) scale(1 1.1)" font-size="15.6" text-anchor="middle">48</text>
<line x1="1234.8" y1="529.2" x2="1234.8" y2="537.15" stroke="#000" stroke-width="2.3"/>
<text transform="translate(1234.8 549.5) scale(1 1.1)" font-size="15.6" text-anchor="middle">72</text>
<clipPath id="c21"><rect x="1063.3" y="376.1" width="191.5" height="153.1"/></clipPath>
<g clip-path="url(#c21)" fill="none" stroke="#000" stroke-width="2.2" stroke-linejoin="round">
<path d="M1063.65 469.66C1064.25 471.04 1065.79 475.15 1067.25 477.89C1068.71 480.63 1070.5 483.54 1072.39 486.11C1074.27 488.68 1076.5 491.76 1078.55 493.3C1080.61 494.84 1082.67 494.67 1084.72 495.36C1086.78 496.04 1089 496.22 1090.89 497.41C1092.77 498.61 1094.31 500.15 1096.03 502.55C1097.74 504.95 1099.45 509.06 1101.17 511.8C1102.88 514.54 1104.59 518.14 1106.3 519C1108.02 519.85 1109.9 517.63 1111.44 516.94C1112.98 516.26 1114.18 516.94 1115.55 514.89C1116.92 512.83 1118.29 509.06 1119.66 504.61C1121.04 500.15 1122.23 491.76 1123.78 488.16C1125.32 484.57 1127.2 483.2 1128.91 483.03C1130.63 482.85 1132.34 485.08 1134.05 487.14C1135.77 489.19 1137.31 492.79 1139.19 495.36C1141.08 497.93 1143.3 500.15 1145.36 502.55C1147.41 504.95 1149.64 509.23 1151.53 509.75C1153.41 510.26 1154.78 507.52 1156.66 505.64C1158.55 503.75 1160.77 500.15 1162.83 498.44C1164.89 496.73 1166.77 496.04 1169 495.36C1171.22 494.67 1174.14 494.67 1176.19 494.33C1178.25 493.99 1179.79 494.67 1181.33 493.3C1182.87 491.93 1184.07 488.68 1185.44 486.11C1186.81 483.54 1188.01 478.57 1189.55 477.89C1191.09 477.2 1192.98 481.14 1194.69 482C1196.4 482.85 1197.77 482.34 1199.83 483.03C1201.88 483.71 1204.45 484.91 1207.02 486.11C1209.59 487.31 1212.68 489.36 1215.25 490.22C1217.82 491.08 1220.21 491.76 1222.44 491.25C1224.67 490.73 1226.55 488.51 1228.61 487.14C1230.66 485.77 1233.75 483.71 1234.77 483.03"/>
<path d="M1062.11 510.77C1062.8 510.6 1064.68 511.97 1066.22 509.75C1067.76 507.52 1069.65 502.04 1071.36 497.41C1073.07 492.79 1074.96 483.71 1076.5 482C1078.04 480.29 1079.24 484.05 1080.61 487.14C1081.98 490.22 1083.35 497.76 1084.72 500.5C1086.09 503.24 1087.29 503.07 1088.83 503.58C1090.37 504.09 1092.43 502.38 1093.97 503.58C1095.51 504.78 1096.54 508.38 1098.08 510.77C1099.62 513.17 1101.51 517.28 1103.22 517.97C1104.93 518.65 1106.65 514.89 1108.36 514.89C1110.07 514.89 1111.96 518.65 1113.5 517.97C1115.04 517.28 1116.24 514.37 1117.61 510.77C1118.98 507.18 1120.18 500.33 1121.72 496.39C1123.26 492.45 1125.15 488.85 1126.86 487.14C1128.57 485.42 1130.29 484.4 1132 486.11C1133.71 487.82 1135.42 493.3 1137.14 497.41C1138.85 501.53 1140.56 508.03 1142.28 510.77C1143.99 513.52 1145.53 513.86 1147.41 513.86C1149.3 513.86 1151.53 512.32 1153.58 510.77C1155.64 509.23 1157.86 506.66 1159.75 504.61C1161.63 502.55 1163.17 499.98 1164.89 498.44C1166.6 496.9 1168.14 495.36 1170.02 495.36C1171.91 495.36 1174.31 497.93 1176.19 498.44C1178.08 498.96 1179.79 499.47 1181.33 498.44C1182.87 497.41 1184.07 493.47 1185.44 492.28C1186.81 491.08 1188.01 489.53 1189.55 491.25C1191.09 492.96 1192.81 498.61 1194.69 502.55C1196.57 506.49 1199.14 512.23 1200.86 514.89C1202.57 517.54 1203.26 518.31 1204.97 518.48C1206.68 518.65 1208.91 517.88 1211.13 515.91C1213.36 513.94 1216.1 509.75 1218.33 506.66C1220.56 503.58 1222.44 499.47 1224.5 497.41C1226.55 495.36 1228.95 495.02 1230.66 494.33C1232.37 493.65 1234.09 493.47 1234.77 493.3"/>
<path d="M1062.11 500.5C1063.14 500.5 1066.22 501.35 1068.28 500.5C1070.33 499.64 1072.39 497.76 1074.44 495.36C1076.5 492.96 1078.81 488.25 1080.61 486.11C1082.41 483.97 1083.69 482 1085.24 482.51C1086.78 483.03 1088.4 486.54 1089.86 489.19C1091.32 491.85 1092.43 495.7 1093.97 498.44C1095.51 501.18 1097.57 503.75 1099.11 505.64C1100.65 507.52 1101.68 508.89 1103.22 509.75C1104.76 510.6 1106.82 510.09 1108.36 510.77C1109.9 511.46 1111.1 514.03 1112.47 513.86C1113.84 513.69 1115.21 512.15 1116.58 509.75C1117.95 507.35 1119.32 502.55 1120.69 499.47C1122.06 496.39 1123.43 492.62 1124.8 491.25C1126.17 489.88 1127.37 490.39 1128.91 491.25C1130.46 492.1 1132.51 493.82 1134.05 496.39C1135.6 498.96 1136.62 503.24 1138.16 506.66C1139.71 510.09 1141.59 514.54 1143.3 516.94C1145.02 519.34 1146.9 520.02 1148.44 521.05C1149.98 522.08 1151.01 523.45 1152.55 523.11C1154.09 522.77 1155.81 521.05 1157.69 519C1159.58 516.94 1161.97 513.34 1163.86 510.77C1165.74 508.21 1167.28 505.29 1169 503.58C1170.71 501.87 1172.25 501.35 1174.14 500.5C1176.02 499.64 1178.42 500.15 1180.3 498.44C1182.19 496.73 1183.73 493.47 1185.44 490.22C1187.15 486.97 1188.87 481.31 1190.58 478.91C1192.29 476.52 1194.18 477.03 1195.72 475.83C1197.26 474.63 1198.12 471.89 1199.83 471.72C1201.54 471.55 1203.6 472.75 1206 474.8C1208.39 476.86 1211.82 481.48 1214.22 484.05C1216.62 486.62 1218.33 488.68 1220.38 490.22C1222.44 491.76 1224.32 493.3 1226.55 493.3C1228.78 493.3 1232.55 490.73 1233.75 490.22"/>
<path d="M1062.11 506.66C1063.14 505.46 1066.22 501.53 1068.28 499.47C1070.33 497.41 1072.22 494.16 1074.44 494.33C1076.67 494.5 1079.41 498.78 1081.64 500.5C1083.87 502.21 1085.92 504.09 1087.8 504.61C1089.69 505.12 1091.4 503.24 1092.94 503.58C1094.49 503.92 1095.68 507.18 1097.05 506.66C1098.42 506.15 1099.62 502.55 1101.17 500.5C1102.71 498.44 1104.59 495.02 1106.3 494.33C1108.02 493.65 1109.73 495.7 1111.44 496.39C1113.16 497.07 1115.04 498.1 1116.58 498.44C1118.12 498.78 1119.32 498.27 1120.69 498.44C1122.06 498.61 1123.26 499.64 1124.8 499.47C1126.35 499.3 1128.06 497.24 1129.94 497.41C1131.83 497.59 1134.22 498.61 1136.11 500.5C1137.99 502.38 1139.53 506.15 1141.25 508.72C1142.96 511.29 1144.5 515.06 1146.39 515.91C1148.27 516.77 1150.5 514.89 1152.55 513.86C1154.61 512.83 1156.49 511.12 1158.72 509.75C1160.95 508.38 1164.03 507.18 1165.91 505.64C1167.8 504.09 1168.48 501.87 1170.02 500.5C1171.57 499.13 1173.28 498.1 1175.16 497.41C1177.05 496.73 1179.45 497.24 1181.33 496.39C1183.21 495.53 1184.76 493.82 1186.47 492.28C1188.18 490.73 1189.89 488.68 1191.61 487.14C1193.32 485.6 1195.03 483.88 1196.75 483.03C1198.46 482.17 1200 481.48 1201.88 482C1203.77 482.51 1205.82 484.74 1208.05 486.11C1210.28 487.48 1212.85 489.19 1215.25 490.22C1217.64 491.25 1220.21 491.59 1222.44 492.28C1224.67 492.96 1226.55 494.16 1228.61 494.33C1230.66 494.5 1233.75 493.47 1234.77 493.3"/>
</g>
<line x1="1281.7" y1="496.89" x2="1452.4" y2="496.89" stroke="#000" stroke-width="1.5" stroke-dasharray="2.2 2.6"/>
<path d="M1281.7 416.1V529.2H1451.4" fill="none" stroke="#000" stroke-width="2.3" stroke-linejoin="miter" stroke-linecap="square"/>
<line x1="1273.75" y1="529.2" x2="1281.7" y2="529.2" stroke="#000" stroke-width="2.3"/>
<text transform="translate(1273 535.1) scale(1 1.1)" font-size="15.6" text-anchor="end">–1.0</text>
<line x1="1273.75" y1="513.04" x2="1281.7" y2="513.04" stroke="#000" stroke-width="2.3"/>
<text transform="translate(1273 518.94) scale(1 1.1)" font-size="15.6" text-anchor="end">–0.5</text>
<line x1="1273.75" y1="496.89" x2="1281.7" y2="496.89" stroke="#000" stroke-width="2.3"/>
<text transform="translate(1273 502.79) scale(1 1.1)" font-size="15.6" text-anchor="end">0.0</text>
<line x1="1273.75" y1="480.73" x2="1281.7" y2="480.73" stroke="#000" stroke-width="2.3"/>
<text transform="translate(1273 486.63) scale(1 1.1)" font-size="15.6" text-anchor="end">0.5</text>
<line x1="1273.75" y1="464.57" x2="1281.7" y2="464.57" stroke="#000" stroke-width="2.3"/>
<text transform="translate(1273 470.47) scale(1 1.1)" font-size="15.6" text-anchor="end">1.0</text>
<line x1="1273.75" y1="448.41" x2="1281.7" y2="448.41" stroke="#000" stroke-width="2.3"/>
<text transform="translate(1273 454.31) scale(1 1.1)" font-size="15.6" text-anchor="end">1.5</text>
<line x1="1273.75" y1="432.26" x2="1281.7" y2="432.26" stroke="#000" stroke-width="2.3"/>
<text transform="translate(1273 438.16) scale(1 1.1)" font-size="15.6" text-anchor="end">2.0</text>
<line x1="1273.75" y1="416.1" x2="1281.7" y2="416.1" stroke="#000" stroke-width="2.3"/>
<text transform="translate(1273 422) scale(1 1.1)" font-size="15.6" text-anchor="end">2.5</text>
<line x1="1295.1" y1="529.2" x2="1295.1" y2="537.15" stroke="#000" stroke-width="2.3"/>
<text transform="translate(1295.1 549.5) scale(1 1.1)" font-size="15.6" text-anchor="middle">0</text>
<line x1="1347.2" y1="529.2" x2="1347.2" y2="537.15" stroke="#000" stroke-width="2.3"/>
<text transform="translate(1347.2 549.5) scale(1 1.1)" font-size="15.6" text-anchor="middle">24</text>
<line x1="1399.3" y1="529.2" x2="1399.3" y2="537.15" stroke="#000" stroke-width="2.3"/>
<text transform="translate(1399.3 549.5) scale(1 1.1)" font-size="15.6" text-anchor="middle">48</text>
<line x1="1451.4" y1="529.2" x2="1451.4" y2="537.15" stroke="#000" stroke-width="2.3"/>
<text transform="translate(1451.4 549.5) scale(1 1.1)" font-size="15.6" text-anchor="middle">72</text>
<clipPath id="c22"><rect x="1281.7" y="376.1" width="189.7" height="153.1"/></clipPath>
<g clip-path="url(#c22)" fill="none" stroke="#000" stroke-width="2.2" stroke-linejoin="round">
<path d="M1281.11 489.19C1281.97 489.53 1284.54 492.45 1286.25 491.25C1287.96 490.05 1289.76 484.48 1291.39 482C1293.02 479.51 1294.64 476.69 1296.01 476.35C1297.38 476 1298.33 479.51 1299.61 479.94C1300.9 480.37 1302.27 479.86 1303.72 478.91C1305.18 477.97 1306.8 473.78 1308.35 474.29C1309.89 474.8 1311.34 479 1312.97 482C1314.6 485 1316.4 490.91 1318.11 492.28C1319.82 493.65 1321.54 491.08 1323.25 490.22C1324.96 489.36 1326.5 487.82 1328.39 487.14C1330.27 486.45 1332.5 486.71 1334.55 486.11C1336.61 485.51 1338.66 483.54 1340.72 483.54C1342.78 483.54 1344.83 483.97 1346.89 486.11C1348.94 488.25 1351.17 495.7 1353.05 496.39C1354.94 497.07 1356.48 491.93 1358.19 490.22C1359.91 488.51 1361.45 486.28 1363.33 486.11C1365.22 485.94 1367.44 487.65 1369.5 489.19C1371.55 490.73 1373.61 493.47 1375.66 495.36C1377.72 497.24 1379.77 499.13 1381.83 500.5C1383.89 501.87 1386.11 503.24 1388 503.58C1389.88 503.92 1391.77 504.44 1393.14 502.55C1394.51 500.67 1395.02 494.84 1396.22 492.28C1397.42 489.71 1398.96 487.48 1400.33 487.14C1401.7 486.79 1403.07 490.39 1404.44 490.22C1405.81 490.05 1407.18 487.99 1408.55 486.11C1409.92 484.22 1410.95 480.29 1412.66 478.91C1414.38 477.54 1416.77 478.74 1418.83 477.89C1420.88 477.03 1423.28 474.8 1425 473.78C1426.71 472.75 1427.39 471.04 1429.11 471.72C1430.82 472.41 1433.39 475.15 1435.27 477.89C1437.16 480.63 1438.7 484.74 1440.41 488.16C1442.13 491.59 1443.67 497.24 1445.55 498.44C1447.44 499.64 1450.69 495.87 1451.72 495.36"/>
<path d="M1281.11 500.5C1282.14 499.64 1285.39 497.41 1287.28 495.36C1289.16 493.3 1290.96 490.05 1292.42 488.16C1293.87 486.28 1294.64 484.05 1296.01 484.05C1297.38 484.05 1299.18 486.28 1300.64 488.16C1302.09 490.05 1303.21 492.28 1304.75 495.36C1306.29 498.44 1308.18 503.58 1309.89 506.66C1311.6 509.75 1313.49 512.49 1315.03 513.86C1316.57 515.23 1317.42 515.23 1319.14 514.89C1320.85 514.54 1323.42 513.34 1325.3 511.8C1327.19 510.26 1328.9 508.03 1330.44 505.64C1331.98 503.24 1333.01 499.3 1334.55 497.41C1336.1 495.53 1337.98 494.33 1339.69 494.33C1341.41 494.33 1342.95 496.04 1344.83 497.41C1346.72 498.78 1349.11 502.38 1351 502.55C1352.88 502.72 1354.42 499.3 1356.14 498.44C1357.85 497.59 1359.39 496.73 1361.28 497.41C1363.16 498.1 1365.39 500.33 1367.44 502.55C1369.5 504.78 1371.55 508.03 1373.61 510.77C1375.66 513.52 1377.72 516.43 1379.77 519C1381.83 521.57 1384.23 524.82 1385.94 526.19C1387.65 527.56 1388.85 530.13 1390.05 527.22C1391.25 524.31 1392.11 514.03 1393.14 508.72C1394.16 503.41 1394.85 497.76 1396.22 495.36C1397.59 492.96 1399.64 493.47 1401.36 494.33C1403.07 495.19 1404.95 499.98 1406.5 500.5C1408.04 501.01 1408.89 499.81 1410.61 497.41C1412.32 495.02 1414.72 489.02 1416.77 486.11C1418.83 483.2 1420.88 481.14 1422.94 479.94C1425 478.74 1427.05 477.89 1429.11 478.91C1431.16 479.94 1433.39 482.85 1435.27 486.11C1437.16 489.36 1438.53 495.02 1440.41 498.44C1442.3 501.87 1444.69 505.98 1446.58 506.66C1448.46 507.35 1450.86 503.24 1451.72 502.55"/>
<path d="M1281.11 504.61C1281.97 504.44 1284.37 505.46 1286.25 503.58C1288.13 501.7 1290.53 495.53 1292.42 493.3C1294.3 491.08 1295.67 489.36 1297.55 490.22C1299.44 491.08 1301.84 496.39 1303.72 498.44C1305.61 500.5 1307.32 501.53 1308.86 502.55C1310.4 503.58 1311.43 503.92 1312.97 504.61C1314.51 505.29 1316.05 507.01 1318.11 506.66C1320.17 506.32 1323.08 504.44 1325.3 502.55C1327.53 500.67 1329.59 497.76 1331.47 495.36C1333.35 492.96 1334.9 489.53 1336.61 488.16C1338.32 486.79 1340.04 486.62 1341.75 487.14C1343.46 487.65 1345.17 488.85 1346.89 491.25C1348.6 493.65 1350.14 500.67 1352.03 501.53C1353.91 502.38 1356.14 498.1 1358.19 496.39C1360.25 494.67 1362.13 492.1 1364.36 491.25C1366.59 490.39 1369.33 490.91 1371.55 491.25C1373.78 491.59 1375.66 492.45 1377.72 493.3C1379.77 494.16 1381.83 495.36 1383.89 496.39C1385.94 497.41 1388.34 498.78 1390.05 499.47C1391.77 500.15 1392.62 500.33 1394.16 500.5C1395.71 500.67 1397.59 499.98 1399.3 500.5C1401.02 501.01 1402.56 502.55 1404.44 503.58C1406.33 504.61 1408.55 506.49 1410.61 506.66C1412.66 506.84 1414.55 505.81 1416.77 504.61C1419 503.41 1421.74 501.35 1423.97 499.47C1426.19 497.59 1428.25 495.02 1430.13 493.3C1432.02 491.59 1433.39 490.05 1435.27 489.19C1437.16 488.34 1439.56 489.02 1441.44 488.16C1443.32 487.31 1444.87 485.42 1446.58 484.05C1448.29 482.68 1450.86 480.63 1451.72 479.94"/>
<path d="M1281.11 494.33C1282.14 494.16 1285.39 493.47 1287.28 493.3C1289.16 493.13 1290.7 493.47 1292.42 493.3C1294.13 493.13 1295.84 493.3 1297.55 492.28C1299.27 491.25 1300.98 486.11 1302.69 487.14C1304.41 488.16 1306.29 494.5 1307.83 498.44C1309.37 502.38 1310.57 508.03 1311.94 510.77C1313.31 513.52 1314.68 512.83 1316.05 514.89C1317.42 516.94 1318.8 520.37 1320.17 523.11C1321.54 525.85 1322.91 530.13 1324.28 531.33C1325.65 532.53 1326.85 532.36 1328.39 530.3C1329.93 528.25 1331.81 522.94 1333.53 519C1335.24 515.06 1337.12 509.23 1338.66 506.66C1340.21 504.09 1341.23 503.92 1342.78 503.58C1344.32 503.24 1346.37 503.58 1347.91 504.61C1349.46 505.64 1350.66 509.58 1352.03 509.75C1353.4 509.92 1354.6 506.49 1356.14 505.64C1357.68 504.78 1359.39 504.09 1361.28 504.61C1363.16 505.12 1365.22 506.66 1367.44 508.72C1369.67 510.77 1372.41 514.03 1374.64 516.94C1376.86 519.85 1378.75 524.14 1380.8 526.19C1382.86 528.25 1385.26 530.82 1386.97 529.27C1388.68 527.73 1389.71 522.08 1391.08 516.94C1392.45 511.8 1393.65 503.41 1395.19 498.44C1396.73 493.47 1398.62 487.82 1400.33 487.14C1402.04 486.45 1403.76 494.5 1405.47 494.33C1407.18 494.16 1409.07 488.68 1410.61 486.11C1412.15 483.54 1413.35 479.94 1414.72 478.91C1416.09 477.89 1417.46 478.4 1418.83 479.94C1420.2 481.48 1421.4 484.74 1422.94 488.16C1424.48 491.59 1426.37 496.9 1428.08 500.5C1429.79 504.09 1431.33 507.01 1433.22 509.75C1435.1 512.49 1437.67 516.43 1439.38 516.94C1441.1 517.46 1442.13 515.57 1443.5 512.83C1444.87 510.09 1446.24 503.41 1447.61 500.5C1448.98 497.59 1451.03 496.22 1451.72 495.36"/>
</g>
<line x1="1506.6" y1="496.89" x2="1678" y2="496.89" stroke="#000" stroke-width="1.5" stroke-dasharray="2.2 2.6"/>
<path d="M1506.6 416.1V529.2H1677" fill="none" stroke="#000" stroke-width="2.3" stroke-linejoin="miter" stroke-linecap="square"/>
<line x1="1498.65" y1="529.2" x2="1506.6" y2="529.2" stroke="#000" stroke-width="2.3"/>
<text transform="translate(1497.9 535.1) scale(1 1.1)" font-size="15.6" text-anchor="end">–1.0</text>
<line x1="1498.65" y1="513.04" x2="1506.6" y2="513.04" stroke="#000" stroke-width="2.3"/>
<text transform="translate(1497.9 518.94) scale(1 1.1)" font-size="15.6" text-anchor="end">–0.5</text>
<line x1="1498.65" y1="496.89" x2="1506.6" y2="496.89" stroke="#000" stroke-width="2.3"/>
<text transform="translate(1497.9 502.79) scale(1 1.1)" font-size="15.6" text-anchor="end">0.0</text>
<line x1="1498.65" y1="480.73" x2="1506.6" y2="480.73" stroke="#000" stroke-width="2.3"/>
<text transform="translate(1497.9 486.63) scale(1 1.1)" font-size="15.6" text-anchor="end">0.5</text>
<line x1="1498.65" y1="464.57" x2="1506.6" y2="464.57" stroke="#000" stroke-width="2.3"/>
<text transform="translate(1497.9 470.47) scale(1 1.1)" font-size="15.6" text-anchor="end">1.0</text>
<line x1="1498.65" y1="448.41" x2="1506.6" y2="448.41" stroke="#000" stroke-width="2.3"/>
<text transform="translate(1497.9 454.31) scale(1 1.1)" font-size="15.6" text-anchor="end">1.5</text>
<line x1="1498.65" y1="432.26" x2="1506.6" y2="432.26" stroke="#000" stroke-width="2.3"/>
<text transform="translate(1497.9 438.16) scale(1 1.1)" font-size="15.6" text-anchor="end">2.0</text>
<line x1="1498.65" y1="416.1" x2="1506.6" y2="416.1" stroke="#000" stroke-width="2.3"/>
<text transform="translate(1497.9 422) scale(1 1.1)" font-size="15.6" text-anchor="end">2.5</text>
<line x1="1519.6" y1="529.2" x2="1519.6" y2="537.15" stroke="#000" stroke-width="2.3"/>
<text transform="translate(1519.6 549.5) scale(1 1.1)" font-size="15.6" text-anchor="middle">0</text>
<line x1="1572.07" y1="529.2" x2="1572.07" y2="537.15" stroke="#000" stroke-width="2.3"/>
<text transform="translate(1572.07 549.5) scale(1 1.1)" font-size="15.6" text-anchor="middle">24</text>
<line x1="1624.53" y1="529.2" x2="1624.53" y2="537.15" stroke="#000" stroke-width="2.3"/>
<text transform="translate(1624.53 549.5) scale(1 1.1)" font-size="15.6" text-anchor="middle">48</text>
<line x1="1677" y1="529.2" x2="1677" y2="537.15" stroke="#000" stroke-width="2.3"/>
<text transform="translate(1677 549.5) scale(1 1.1)" font-size="15.6" text-anchor="middle">72</text>
<clipPath id="c23"><rect x="1506.6" y="376.1" width="190.4" height="153.1"/></clipPath>
<g clip-path="url(#c23)" fill="none" stroke="#000" stroke-width="2.2" stroke-linejoin="round">
<path d="M1506.11 490.22C1507.31 488.51 1511.25 480.46 1513.31 479.94C1515.36 479.43 1516.9 485.77 1518.44 487.14C1519.99 488.51 1521.01 488.68 1522.55 488.16C1524.1 487.65 1525.98 485.6 1527.69 484.05C1529.41 482.51 1531.29 479.09 1532.83 478.91C1534.37 478.74 1535.57 480.63 1536.94 483.03C1538.31 485.42 1539.68 490.91 1541.05 493.3C1542.42 495.7 1543.8 496.39 1545.17 497.41C1546.54 498.44 1547.91 498.1 1549.28 499.47C1550.65 500.84 1551.85 504.44 1553.39 505.64C1554.93 506.84 1556.81 506.84 1558.53 506.66C1560.24 506.49 1561.78 506.66 1563.66 504.61C1565.55 502.55 1568.12 496.73 1569.83 494.33C1571.54 491.93 1572.23 491.76 1573.94 490.22C1575.66 488.68 1577.88 486.45 1580.11 485.08C1582.34 483.71 1584.91 482.17 1587.3 482C1589.7 481.83 1592.1 482.85 1594.5 484.05C1596.9 485.25 1599.46 487.82 1601.69 489.19C1603.92 490.56 1605.8 492.1 1607.86 492.28C1609.91 492.45 1612.14 491.59 1614.02 490.22C1615.91 488.85 1617.62 485.94 1619.16 484.05C1620.71 482.17 1621.9 478.57 1623.27 478.91C1624.64 479.26 1626.02 485.6 1627.39 486.11C1628.76 486.62 1629.95 483.37 1631.5 482C1633.04 480.63 1634.58 478.06 1636.64 477.89C1638.69 477.72 1641.6 479.43 1643.83 480.97C1646.06 482.51 1648.11 485.25 1650 487.14C1651.88 489.02 1653.25 491.76 1655.13 492.28C1657.02 492.79 1659.25 492.28 1661.3 490.22C1663.36 488.16 1665.58 482.85 1667.47 479.94C1669.35 477.03 1670.89 472.75 1672.61 472.75C1674.32 472.75 1676.89 478.74 1677.75 479.94"/>
<path d="M1506.11 500.5C1507.14 499.13 1510.39 494.5 1512.28 492.28C1514.16 490.05 1515.87 487.48 1517.42 487.14C1518.96 486.79 1520.16 487.99 1521.53 490.22C1522.9 492.45 1524.27 499.98 1525.64 500.5C1527.01 501.01 1528.55 496.73 1529.75 493.3C1530.95 489.88 1531.63 480.8 1532.83 479.94C1534.03 479.09 1535.57 485.25 1536.94 488.16C1538.31 491.08 1539.51 495.7 1541.05 497.41C1542.6 499.13 1544.65 497.59 1546.19 498.44C1547.73 499.3 1548.93 500.15 1550.3 502.55C1551.67 504.95 1553.22 509.92 1554.42 512.83C1555.61 515.74 1556.3 520.02 1557.5 520.02C1558.7 520.02 1560.07 514.89 1561.61 512.83C1563.15 510.77 1565.21 509.06 1566.75 507.69C1568.29 506.32 1569.32 506.32 1570.86 504.61C1572.4 502.9 1574.11 498.1 1576 497.41C1577.88 496.73 1580.11 499.47 1582.16 500.5C1584.22 501.53 1586.28 503.07 1588.33 503.58C1590.39 504.09 1592.44 503.92 1594.5 503.58C1596.55 503.24 1598.44 502.55 1600.66 501.53C1602.89 500.5 1605.46 498.96 1607.86 497.41C1610.26 495.87 1612.83 493.65 1615.05 492.28C1617.28 490.91 1619.51 489.88 1621.22 489.19C1622.93 488.51 1623.96 487.31 1625.33 488.16C1626.7 489.02 1628.07 493.47 1629.44 494.33C1630.81 495.19 1631.15 493.47 1633.55 493.3C1635.95 493.13 1640.4 493.3 1643.83 493.3C1647.26 493.3 1651.02 493.3 1654.11 493.3C1657.19 493.3 1659.93 493.47 1662.33 493.3C1664.73 493.13 1665.93 492.62 1668.5 492.28C1671.06 491.93 1676.2 491.42 1677.75 491.25"/>
<path d="M1506.11 502.55C1506.97 501.7 1509.37 499.64 1511.25 497.41C1513.13 495.19 1515.53 490.56 1517.42 489.19C1519.3 487.82 1521.01 489.19 1522.55 489.19C1524.1 489.19 1525.12 489.53 1526.67 489.19C1528.21 488.85 1530.26 486.62 1531.8 487.14C1533.35 487.65 1534.55 490.39 1535.92 492.28C1537.29 494.16 1538.49 497.24 1540.03 498.44C1541.57 499.64 1543.45 498.78 1545.17 499.47C1546.88 500.15 1548.59 500.84 1550.3 502.55C1552.02 504.27 1553.73 508.38 1555.44 509.75C1557.16 511.12 1558.7 511.63 1560.58 510.77C1562.47 509.92 1565.04 506.32 1566.75 504.61C1568.46 502.9 1569.49 500.15 1570.86 500.5C1572.23 500.84 1573.43 504.95 1574.97 506.66C1576.51 508.38 1578.22 510.77 1580.11 510.77C1581.99 510.77 1584.22 507.69 1586.28 506.66C1588.33 505.64 1590.04 505.29 1592.44 504.61C1594.84 503.92 1597.92 502.72 1600.66 502.55C1603.4 502.38 1606.49 503.41 1608.89 503.58C1611.28 503.75 1613.17 505.12 1615.05 503.58C1616.94 502.04 1618.65 497.07 1620.19 494.33C1621.73 491.59 1622.93 487.48 1624.3 487.14C1625.67 486.79 1626.87 492.1 1628.41 492.28C1629.95 492.45 1631.84 489.02 1633.55 488.16C1635.26 487.31 1636.98 486.79 1638.69 487.14C1640.4 487.48 1641.95 488.68 1643.83 490.22C1645.71 491.76 1647.94 494.67 1650 496.39C1652.05 498.1 1654.11 500.5 1656.16 500.5C1658.22 500.5 1660.27 497.59 1662.33 496.39C1664.38 495.19 1665.93 493.99 1668.5 493.3C1671.06 492.62 1676.2 492.45 1677.75 492.28"/>
<path d="M1506.11 503.58C1506.8 503.41 1508.68 503.75 1510.22 502.55C1511.76 501.35 1513.65 498.61 1515.36 496.39C1517.07 494.16 1518.96 490.05 1520.5 489.19C1522.04 488.34 1522.9 491.59 1524.61 491.25C1526.32 490.91 1528.89 487.31 1530.78 487.14C1532.66 486.97 1534.2 488.51 1535.92 490.22C1537.63 491.93 1539.34 495.7 1541.05 497.41C1542.77 499.13 1544.48 499.13 1546.19 500.5C1547.91 501.87 1549.62 504.27 1551.33 505.64C1553.04 507.01 1554.76 508.03 1556.47 508.72C1558.18 509.4 1559.9 510.09 1561.61 509.75C1563.32 509.4 1565.21 507.69 1566.75 506.66C1568.29 505.64 1569.32 503.41 1570.86 503.58C1572.4 503.75 1574.29 506.66 1576 507.69C1577.71 508.72 1579.25 509.4 1581.14 509.75C1583.02 510.09 1585.08 510.09 1587.3 509.75C1589.53 509.4 1592.1 508.55 1594.5 507.69C1596.9 506.84 1599.12 505.81 1601.69 504.61C1604.26 503.41 1607.34 502.04 1609.91 500.5C1612.48 498.96 1614.88 497.24 1617.11 495.36C1619.33 493.47 1621.39 489.02 1623.27 489.19C1625.16 489.36 1626.7 494.5 1628.41 496.39C1630.13 498.27 1631.5 499.3 1633.55 500.5C1635.61 501.7 1638.18 502.81 1640.75 503.58C1643.32 504.35 1646.06 505.04 1648.97 505.12C1651.88 505.21 1655.48 504.69 1658.22 504.09C1660.96 503.5 1663.36 502.81 1665.41 501.53C1667.47 500.24 1668.67 499.64 1670.55 496.39C1672.44 493.13 1675.69 484.4 1676.72 482"/>
</g>
<line x1="1063.3" y1="646.97" x2="1235.8" y2="646.97" stroke="#000" stroke-width="1.5" stroke-dasharray="2.2 2.6"/>
<path d="M1063.3 565.9V679.4H1234.8" fill="none" stroke="#000" stroke-width="2.3" stroke-linejoin="miter" stroke-linecap="square"/>
<line x1="1055.35" y1="679.4" x2="1063.3" y2="679.4" stroke="#000" stroke-width="2.3"/>
<text transform="translate(1054.6 685.3) scale(1 1.1)" font-size="15.6" text-anchor="end">–1.0</text>
<line x1="1055.35" y1="663.19" x2="1063.3" y2="663.19" stroke="#000" stroke-width="2.3"/>
<text transform="translate(1054.6 669.09) scale(1 1.1)" font-size="15.6" text-anchor="end">–0.5</text>
<line x1="1055.35" y1="646.97" x2="1063.3" y2="646.97" stroke="#000" stroke-width="2.3"/>
<text transform="translate(1054.6 652.87) scale(1 1.1)" font-size="15.6" text-anchor="end">0.0</text>
<line x1="1055.35" y1="630.76" x2="1063.3" y2="630.76" stroke="#000" stroke-width="2.3"/>
<text transform="translate(1054.6 636.66) scale(1 1.1)" font-size="15.6" text-anchor="end">0.5</text>
<line x1="1055.35" y1="614.54" x2="1063.3" y2="614.54" stroke="#000" stroke-width="2.3"/>
<text transform="translate(1054.6 620.44) scale(1 1.1)" font-size="15.6" text-anchor="end">1.0</text>
<line x1="1055.35" y1="598.33" x2="1063.3" y2="598.33" stroke="#000" stroke-width="2.3"/>
<text transform="translate(1054.6 604.23) scale(1 1.1)" font-size="15.6" text-anchor="end">1.5</text>
<line x1="1055.35" y1="582.11" x2="1063.3" y2="582.11" stroke="#000" stroke-width="2.3"/>
<text transform="translate(1054.6 588.01) scale(1 1.1)" font-size="15.6" text-anchor="end">2.0</text>
<line x1="1055.35" y1="565.9" x2="1063.3" y2="565.9" stroke="#000" stroke-width="2.3"/>
<text transform="translate(1054.6 571.8) scale(1 1.1)" font-size="15.6" text-anchor="end">2.5</text>
<line x1="1077" y1="679.4" x2="1077" y2="687.35" stroke="#000" stroke-width="2.3"/>
<text transform="translate(1077 699.7) scale(1 1.1)" font-size="15.6" text-anchor="middle">0</text>
<line x1="1129.6" y1="679.4" x2="1129.6" y2="687.35" stroke="#000" stroke-width="2.3"/>
<text transform="translate(1129.6 699.7) scale(1 1.1)" font-size="15.6" text-anchor="middle">24</text>
<line x1="1182.2" y1="679.4" x2="1182.2" y2="687.35" stroke="#000" stroke-width="2.3"/>
<text transform="translate(1182.2 699.7) scale(1 1.1)" font-size="15.6" text-anchor="middle">48</text>
<line x1="1234.8" y1="679.4" x2="1234.8" y2="687.35" stroke="#000" stroke-width="2.3"/>
<text transform="translate(1234.8 699.7) scale(1 1.1)" font-size="15.6" text-anchor="middle">72</text>
<clipPath id="c24"><rect x="1063.3" y="525.9" width="191.5" height="153.5"/></clipPath>
<g clip-path="url(#c24)" fill="none" stroke="#000" stroke-width="2.2" stroke-linejoin="round">
<path d="M1061.08 642.28C1061.77 641.25 1063.57 638.16 1065.19 636.11C1066.82 634.05 1069.13 629.94 1070.85 629.94C1072.56 629.94 1074.02 633.88 1075.47 636.11C1076.93 638.34 1077.87 641.59 1079.58 643.3C1081.3 645.02 1083.52 645.53 1085.75 646.39C1087.98 647.24 1090.89 647.07 1092.94 648.44C1095 649.81 1096.37 654.27 1098.08 654.61C1099.8 654.95 1101.34 652.38 1103.22 650.5C1105.11 648.61 1107.5 643.82 1109.39 643.3C1111.27 642.79 1112.81 646.22 1114.53 647.41C1116.24 648.61 1117.95 649.98 1119.66 650.5C1121.38 651.01 1123.09 651.87 1124.8 650.5C1126.52 649.13 1128.06 645.36 1129.94 642.28C1131.83 639.19 1133.88 634.57 1136.11 632C1138.34 629.43 1141.08 627.97 1143.3 626.86C1145.53 625.75 1147.24 624.97 1149.47 625.32C1151.7 625.66 1154.27 626.94 1156.66 628.91C1159.06 630.88 1161.63 634.57 1163.86 637.14C1166.08 639.71 1168.14 643.3 1170.02 644.33C1171.91 645.36 1173.45 643.82 1175.16 643.3C1176.88 642.79 1178.42 641.25 1180.3 641.25C1182.19 641.25 1184.24 642.28 1186.47 643.3C1188.7 644.33 1191.09 646.22 1193.66 647.41C1196.23 648.61 1199.49 649.64 1201.88 650.5C1204.28 651.35 1206 652.38 1208.05 652.55C1210.11 652.72 1212.16 652.38 1214.22 651.53C1216.27 650.67 1218.33 649.3 1220.38 647.41C1222.44 645.53 1224.84 642.1 1226.55 640.22C1228.26 638.34 1229.29 634.74 1230.66 636.11C1232.03 637.48 1234.09 646.39 1234.77 648.44"/>
<path d="M1062.11 648.44C1062.97 649.3 1065.37 653.58 1067.25 653.58C1069.13 653.58 1071.53 650.33 1073.42 648.44C1075.3 646.56 1076.84 645.02 1078.55 642.28C1080.27 639.53 1082.15 632.34 1083.69 632C1085.24 631.66 1086.43 636.62 1087.8 640.22C1089.18 643.82 1090.72 649.3 1091.92 653.58C1093.11 657.86 1093.63 664.54 1095 665.91C1096.37 667.28 1098.42 663 1100.14 661.8C1101.85 660.6 1103.39 659.92 1105.28 658.72C1107.16 657.52 1109.73 656.49 1111.44 654.61C1113.16 652.72 1113.84 647.76 1115.55 647.41C1117.27 647.07 1119.66 652.38 1121.72 652.55C1123.78 652.72 1125.83 651.01 1127.89 648.44C1129.94 645.87 1132 640.05 1134.05 637.14C1136.11 634.22 1137.82 631.48 1140.22 630.97C1142.62 630.46 1145.7 632.68 1148.44 634.05C1151.18 635.42 1153.92 637.65 1156.66 639.19C1159.4 640.73 1162.49 642.28 1164.89 643.3C1167.28 644.33 1169.34 645.87 1171.05 645.36C1172.77 644.84 1173.79 642.62 1175.16 640.22C1176.53 637.82 1177.73 631.66 1179.27 630.97C1180.82 630.29 1182.53 634.74 1184.41 636.11C1186.3 637.48 1188.35 638.34 1190.58 639.19C1192.81 640.05 1195.55 639.88 1197.77 641.25C1200 642.62 1201.88 645.53 1203.94 647.41C1206 649.3 1207.88 652.04 1210.11 652.55C1212.33 653.07 1214.9 652.21 1217.3 650.5C1219.7 648.78 1222.27 644.67 1224.5 642.28C1226.72 639.88 1228.95 637.65 1230.66 636.11C1232.37 634.57 1234.09 633.54 1234.77 633.03"/>
<path d="M1062.11 650.5C1063.31 651.7 1067.25 657.18 1069.31 657.69C1071.36 658.21 1072.9 655.98 1074.44 653.58C1075.99 651.18 1077.01 643.99 1078.55 643.3C1080.1 642.62 1081.98 648.44 1083.69 649.47C1085.41 650.5 1086.95 649.47 1088.83 649.47C1090.72 649.47 1092.94 648.1 1095 649.47C1097.05 650.84 1099.11 655.12 1101.17 657.69C1103.22 660.26 1105.45 664.03 1107.33 664.89C1109.22 665.74 1110.59 663.69 1112.47 662.83C1114.35 661.97 1116.75 660.77 1118.64 659.75C1120.52 658.72 1122.06 657.18 1123.78 656.66C1125.49 656.15 1126.86 655.81 1128.91 656.66C1130.97 657.52 1133.71 660.26 1136.11 661.8C1138.51 663.34 1140.91 664.54 1143.3 665.91C1145.7 667.28 1148.1 669.17 1150.5 670.02C1152.9 670.88 1155.29 671.57 1157.69 671.05C1160.09 670.54 1162.66 669.34 1164.89 666.94C1167.11 664.54 1169.34 660.43 1171.05 656.66C1172.77 652.9 1173.45 647.07 1175.16 644.33C1176.88 641.59 1179.1 640.39 1181.33 640.22C1183.56 640.05 1186.13 642.28 1188.52 643.3C1190.92 644.33 1193.49 645.19 1195.72 646.39C1197.95 647.59 1199.83 649.3 1201.88 650.5C1203.94 651.7 1206 653.24 1208.05 653.58C1210.11 653.92 1212.16 653.58 1214.22 652.55C1216.27 651.53 1218.33 649.64 1220.38 647.41C1222.44 645.19 1224.5 641.76 1226.55 639.19C1228.61 636.62 1231.69 633.2 1232.72 632"/>
<path d="M1062.11 643.3C1062.97 643.99 1065.54 647.93 1067.25 647.41C1068.96 646.9 1070.68 642.28 1072.39 640.22C1074.1 638.16 1075.81 634.22 1077.53 635.08C1079.24 635.94 1080.78 643.13 1082.67 645.36C1084.55 647.59 1086.78 647.41 1088.83 648.44C1090.89 649.47 1092.77 649.64 1095 651.53C1097.23 653.41 1099.8 657.69 1102.19 659.75C1104.59 661.8 1107.16 663.52 1109.39 663.86C1111.61 664.2 1113.5 663.34 1115.55 661.8C1117.61 660.26 1120.01 657.01 1121.72 654.61C1123.43 652.21 1124.46 646.39 1125.83 647.41C1127.2 648.44 1128.23 656.84 1129.94 660.77C1131.66 664.71 1133.88 668.74 1136.11 671.05C1138.34 673.36 1140.91 674.65 1143.3 674.65C1145.7 674.65 1148.27 673.36 1150.5 671.05C1152.72 668.74 1154.61 664.03 1156.66 660.77C1158.72 657.52 1160.95 654.44 1162.83 651.53C1164.71 648.61 1166.26 645.36 1167.97 643.3C1169.68 641.25 1171.22 639.36 1173.11 639.19C1174.99 639.02 1177.22 641.25 1179.27 642.28C1181.33 643.3 1183.04 644.84 1185.44 645.36C1187.84 645.87 1190.92 646.04 1193.66 645.36C1196.4 644.67 1199.14 642.96 1201.88 641.25C1204.63 639.53 1207.37 636.97 1210.11 635.08C1212.85 633.2 1215.59 630.63 1218.33 629.94C1221.07 629.26 1223.81 630.46 1226.55 630.97C1229.29 631.48 1233.4 632.68 1234.77 633.03"/>
</g>
<line x1="1281.7" y1="646.97" x2="1452.4" y2="646.97" stroke="#000" stroke-width="1.5" stroke-dasharray="2.2 2.6"/>
<path d="M1281.7 565.9V679.4H1451.4" fill="none" stroke="#000" stroke-width="2.3" stroke-linejoin="miter" stroke-linecap="square"/>
<line x1="1273.75" y1="679.4" x2="1281.7" y2="679.4" stroke="#000" stroke-width="2.3"/>
<text transform="translate(1273 685.3) scale(1 1.1)" font-size="15.6" text-anchor="end">–1.0</text>
<line x1="1273.75" y1="663.19" x2="1281.7" y2="663.19" stroke="#000" stroke-width="2.3"/>
<text transform="translate(1273 669.09) scale(1 1.1)" font-size="15.6" text-anchor="end">–0.5</text>
<line x1="1273.75" y1="646.97" x2="1281.7" y2="646.97" stroke="#000" stroke-width="2.3"/>
<text transform="translate(1273 652.87) scale(1 1.1)" font-size="15.6" text-anchor="end">0.0</text>
<line x1="1273.75" y1="630.76" x2="1281.7" y2="630.76" stroke="#000" stroke-width="2.3"/>
<text transform="translate(1273 636.66) scale(1 1.1)" font-size="15.6" text-anchor="end">0.5</text>
<line x1="1273.75" y1="614.54" x2="1281.7" y2="614.54" stroke="#000" stroke-width="2.3"/>
<text transform="translate(1273 620.44) scale(1 1.1)" font-size="15.6" text-anchor="end">1.0</text>
<line x1="1273.75" y1="598.33" x2="1281.7" y2="598.33" stroke="#000" stroke-width="2.3"/>
<text transform="translate(1273 604.23) scale(1 1.1)" font-size="15.6" text-anchor="end">1.5</text>
<line x1="1273.75" y1="582.11" x2="1281.7" y2="582.11" stroke="#000" stroke-width="2.3"/>
<text transform="translate(1273 588.01) scale(1 1.1)" font-size="15.6" text-anchor="end">2.0</text>
<line x1="1273.75" y1="565.9" x2="1281.7" y2="565.9" stroke="#000" stroke-width="2.3"/>
<text transform="translate(1273 571.8) scale(1 1.1)" font-size="15.6" text-anchor="end">2.5</text>
<line x1="1295.1" y1="679.4" x2="1295.1" y2="687.35" stroke="#000" stroke-width="2.3"/>
<text transform="translate(1295.1 699.7) scale(1 1.1)" font-size="15.6" text-anchor="middle">0</text>
<line x1="1347.2" y1="679.4" x2="1347.2" y2="687.35" stroke="#000" stroke-width="2.3"/>
<text transform="translate(1347.2 699.7) scale(1 1.1)" font-size="15.6" text-anchor="middle">24</text>
<line x1="1399.3" y1="679.4" x2="1399.3" y2="687.35" stroke="#000" stroke-width="2.3"/>
<text transform="translate(1399.3 699.7) scale(1 1.1)" font-size="15.6" text-anchor="middle">48</text>
<line x1="1451.4" y1="679.4" x2="1451.4" y2="687.35" stroke="#000" stroke-width="2.3"/>
<text transform="translate(1451.4 699.7) scale(1 1.1)" font-size="15.6" text-anchor="middle">72</text>
<clipPath id="c25"><rect x="1281.7" y="525.9" width="189.7" height="153.5"/></clipPath>
<g clip-path="url(#c25)" fill="none" stroke="#000" stroke-width="2.2" stroke-linejoin="round">
<path d="M1281.11 665.91C1281.8 665.74 1283.68 666.43 1285.22 664.89C1286.76 663.34 1288.65 659.4 1290.36 656.66C1292.07 653.92 1293.79 650.5 1295.5 648.44C1297.21 646.39 1298.93 645.19 1300.64 644.33C1302.35 643.47 1304.24 643.65 1305.78 643.3C1307.32 642.96 1308.52 641.42 1309.89 642.28C1311.26 643.13 1312.29 646.04 1314 648.44C1315.71 650.84 1318.28 654.61 1320.17 656.66C1322.05 658.72 1323.42 660.09 1325.3 660.77C1327.19 661.46 1329.59 660.6 1331.47 660.77C1333.35 660.95 1335.07 662.15 1336.61 661.8C1338.15 661.46 1339.35 660.26 1340.72 658.72C1342.09 657.18 1343.46 654.61 1344.83 652.55C1346.2 650.5 1347.57 647.93 1348.94 646.39C1350.31 644.84 1351.68 643.3 1353.05 643.3C1354.42 643.3 1355.45 646.22 1357.16 646.39C1358.88 646.56 1361.28 644.5 1363.33 644.33C1365.39 644.16 1367.44 644.67 1369.5 645.36C1371.55 646.04 1373.61 647.41 1375.66 648.44C1377.72 649.47 1379.95 651.18 1381.83 651.53C1383.71 651.87 1385.43 651.35 1386.97 650.5C1388.51 649.64 1389.54 648.27 1391.08 646.39C1392.62 644.5 1394.68 640.56 1396.22 639.19C1397.76 637.82 1398.96 636.97 1400.33 638.16C1401.7 639.36 1402.9 644.33 1404.44 646.39C1405.98 648.44 1407.7 649.81 1409.58 650.5C1411.46 651.18 1413.52 650.33 1415.75 650.5C1417.97 650.67 1420.71 651.18 1422.94 651.53C1425.17 651.87 1427.05 652.72 1429.11 652.55C1431.16 652.38 1433.22 651.35 1435.27 650.5C1437.33 649.64 1439.73 648.78 1441.44 647.41C1443.15 646.04 1443.84 643.47 1445.55 642.28C1447.26 641.08 1450.69 640.56 1451.72 640.22"/>
<path d="M1281.11 642.28C1281.97 642.96 1284.54 644.5 1286.25 646.39C1287.96 648.27 1289.68 653.58 1291.39 653.58C1293.1 653.58 1294.81 646.9 1296.53 646.39C1298.24 645.87 1299.95 651.01 1301.67 650.5C1303.38 649.98 1305.09 645.36 1306.8 643.3C1308.52 641.25 1310.4 637.14 1311.94 638.16C1313.49 639.19 1314.51 646.56 1316.05 649.47C1317.6 652.38 1319.65 655.98 1321.19 655.64C1322.73 655.29 1324.11 649.13 1325.3 647.41C1326.5 645.7 1327.02 644.5 1328.39 645.36C1329.76 646.22 1331.64 650.67 1333.53 652.55C1335.41 654.44 1337.81 656.66 1339.69 656.66C1341.58 656.66 1342.95 655.29 1344.83 652.55C1346.72 649.81 1349.29 639.53 1351 640.22C1352.71 640.91 1353.74 652.21 1355.11 656.66C1356.48 661.12 1357.68 666.77 1359.22 666.94C1360.76 667.11 1362.47 660.95 1364.36 657.69C1366.24 654.44 1368.3 650.67 1370.53 647.41C1372.75 644.16 1375.49 640.48 1377.72 638.16C1379.95 635.85 1381.83 633.71 1383.89 633.54C1385.94 633.37 1388 637.39 1390.05 637.14C1392.11 636.88 1394.16 631.31 1396.22 632C1398.27 632.68 1400.67 639.19 1402.39 641.25C1404.1 643.3 1404.95 643.47 1406.5 644.33C1408.04 645.19 1409.58 646.04 1411.64 646.39C1413.69 646.73 1416.6 646.04 1418.83 646.39C1421.06 646.73 1422.94 647.76 1425 648.44C1427.05 649.13 1429.11 650.67 1431.16 650.5C1433.22 650.33 1435.27 649.13 1437.33 647.41C1439.38 645.7 1441.44 641.59 1443.5 640.22C1445.55 638.85 1448.29 639.02 1449.66 639.19C1451.03 639.36 1451.37 640.91 1451.72 641.25"/>
<path d="M1281.11 660.77C1282.14 658.21 1285.56 649.13 1287.28 645.36C1288.99 641.59 1289.68 639.71 1291.39 638.16C1293.1 636.62 1295.67 637.14 1297.55 636.11C1299.44 635.08 1301.07 633.2 1302.69 632C1304.32 630.8 1305.78 628.23 1307.32 628.91C1308.86 629.6 1310.49 632.85 1311.94 636.11C1313.4 639.36 1314.68 645.36 1316.05 648.44C1317.42 651.53 1318.45 653.24 1320.17 654.61C1321.88 655.98 1324.45 654.09 1326.33 656.66C1328.22 659.23 1330.1 667.11 1331.47 670.02C1332.84 672.94 1333.35 674.65 1334.55 674.14C1335.75 673.62 1337.29 670.88 1338.66 666.94C1340.04 663 1341.41 655.12 1342.78 650.5C1344.15 645.87 1345.52 641.42 1346.89 639.19C1348.26 636.97 1349.63 635.25 1351 637.14C1352.37 639.02 1353.57 647.24 1355.11 650.5C1356.65 653.75 1358.53 654.44 1360.25 656.66C1361.96 658.89 1363.67 661.63 1365.39 663.86C1367.1 666.08 1368.81 668.65 1370.53 670.02C1372.24 671.39 1373.95 671.39 1375.66 672.08C1377.38 672.77 1379.09 674.65 1380.8 674.14C1382.52 673.62 1384.06 671.39 1385.94 669C1387.83 666.6 1390.05 662.15 1392.11 659.75C1394.16 657.35 1396.39 655.81 1398.27 654.61C1400.16 653.41 1401.7 652.55 1403.41 652.55C1405.13 652.55 1406.67 654.09 1408.55 654.61C1410.44 655.12 1412.66 654.95 1414.72 655.64C1416.77 656.32 1418.83 657.18 1420.88 658.72C1422.94 660.26 1425.34 663.52 1427.05 664.89C1428.76 666.26 1429.62 667.11 1431.16 666.94C1432.7 666.77 1434.59 665.74 1436.3 663.86C1438.01 661.97 1439.9 658.72 1441.44 655.64C1442.98 652.55 1444.18 647.93 1445.55 645.36C1446.92 642.79 1448.63 640.56 1449.66 640.22C1450.69 639.88 1451.37 642.79 1451.72 643.3"/>
<path d="M1281.11 666.94C1282.14 665.91 1285.39 662.83 1287.28 660.77C1289.16 658.72 1290.7 656.84 1292.42 654.61C1294.13 652.38 1295.84 648.78 1297.55 647.41C1299.27 646.04 1300.98 647.07 1302.69 646.39C1304.41 645.7 1306.12 643.65 1307.83 643.3C1309.55 642.96 1311.26 643.13 1312.97 644.33C1314.68 645.53 1316.4 648.44 1318.11 650.5C1319.82 652.55 1321.54 654.95 1323.25 656.66C1324.96 658.38 1326.5 660.26 1328.39 660.77C1330.27 661.29 1332.5 659.75 1334.55 659.75C1336.61 659.75 1339.01 660.6 1340.72 660.77C1342.43 660.95 1343.46 660.95 1344.83 660.77C1346.2 660.6 1347.57 659.23 1348.94 659.75C1350.31 660.26 1351.51 663 1353.05 663.86C1354.6 664.71 1356.48 665.74 1358.19 664.89C1359.91 664.03 1361.45 659.23 1363.33 658.72C1365.22 658.21 1367.44 659.92 1369.5 661.8C1371.55 663.69 1373.44 669 1375.66 670.02C1377.89 671.05 1380.63 669.68 1382.86 667.97C1385.08 666.26 1387.14 662.83 1389.02 659.75C1390.91 656.66 1392.45 652.9 1394.16 649.47C1395.88 646.04 1397.59 639.88 1399.3 639.19C1401.02 638.51 1402.73 643.65 1404.44 645.36C1406.15 647.07 1407.7 649.13 1409.58 649.47C1411.46 649.81 1413.69 648.27 1415.75 647.41C1417.8 646.56 1419.86 645.02 1421.91 644.33C1423.97 643.65 1426.02 643.13 1428.08 643.3C1430.13 643.47 1432.19 644.67 1434.25 645.36C1436.3 646.04 1438.36 648.1 1440.41 647.41C1442.47 646.73 1444.69 641.93 1446.58 641.25C1448.46 640.56 1450.86 642.96 1451.72 643.3"/>
</g>
<line x1="1506.6" y1="646.97" x2="1678" y2="646.97" stroke="#000" stroke-width="1.5" stroke-dasharray="2.2 2.6"/>
<path d="M1506.6 565.9V679.4H1677" fill="none" stroke="#000" stroke-width="2.3" stroke-linejoin="miter" stroke-linecap="square"/>
<line x1="1498.65" y1="679.4" x2="1506.6" y2="679.4" stroke="#000" stroke-width="2.3"/>
<text transform="translate(1497.9 685.3) scale(1 1.1)" font-size="15.6" text-anchor="end">–1.0</text>
<line x1="1498.65" y1="663.19" x2="1506.6" y2="663.19" stroke="#000" stroke-width="2.3"/>
<text transform="translate(1497.9 669.09) scale(1 1.1)" font-size="15.6" text-anchor="end">–0.5</text>
<line x1="1498.65" y1="646.97" x2="1506.6" y2="646.97" stroke="#000" stroke-width="2.3"/>
<text transform="translate(1497.9 652.87) scale(1 1.1)" font-size="15.6" text-anchor="end">0.0</text>
<line x1="1498.65" y1="630.76" x2="1506.6" y2="630.76" stroke="#000" stroke-width="2.3"/>
<text transform="translate(1497.9 636.66) scale(1 1.1)" font-size="15.6" text-anchor="end">0.5</text>
<line x1="1498.65" y1="614.54" x2="1506.6" y2="614.54" stroke="#000" stroke-width="2.3"/>
<text transform="translate(1497.9 620.44) scale(1 1.1)" font-size="15.6" text-anchor="end">1.0</text>
<line x1="1498.65" y1="598.33" x2="1506.6" y2="598.33" stroke="#000" stroke-width="2.3"/>
<text transform="translate(1497.9 604.23) scale(1 1.1)" font-size="15.6" text-anchor="end">1.5</text>
<line x1="1498.65" y1="582.11" x2="1506.6" y2="582.11" stroke="#000" stroke-width="2.3"/>
<text transform="translate(1497.9 588.01) scale(1 1.1)" font-size="15.6" text-anchor="end">2.0</text>
<line x1="1498.65" y1="565.9" x2="1506.6" y2="565.9" stroke="#000" stroke-width="2.3"/>
<text transform="translate(1497.9 571.8) scale(1 1.1)" font-size="15.6" text-anchor="end">2.5</text>
<line x1="1519.6" y1="679.4" x2="1519.6" y2="687.35" stroke="#000" stroke-width="2.3"/>
<text transform="translate(1519.6 699.7) scale(1 1.1)" font-size="15.6" text-anchor="middle">0</text>
<line x1="1572.07" y1="679.4" x2="1572.07" y2="687.35" stroke="#000" stroke-width="2.3"/>
<text transform="translate(1572.07 699.7) scale(1 1.1)" font-size="15.6" text-anchor="middle">24</text>
<line x1="1624.53" y1="679.4" x2="1624.53" y2="687.35" stroke="#000" stroke-width="2.3"/>
<text transform="translate(1624.53 699.7) scale(1 1.1)" font-size="15.6" text-anchor="middle">48</text>
<line x1="1677" y1="679.4" x2="1677" y2="687.35" stroke="#000" stroke-width="2.3"/>
<text transform="translate(1677 699.7) scale(1 1.1)" font-size="15.6" text-anchor="middle">72</text>
<clipPath id="c26"><rect x="1506.6" y="525.9" width="190.4" height="153.5"/></clipPath>
<g clip-path="url(#c26)" fill="none" stroke="#000" stroke-width="2.2" stroke-linejoin="round">
<path d="M1505.08 641.76C1506.11 641.33 1508.85 640.48 1511.25 639.19C1513.65 637.91 1516.9 634.57 1519.47 634.05C1522.04 633.54 1524.61 634.57 1526.67 636.11C1528.72 637.65 1530.09 641.59 1531.8 643.3C1533.52 645.02 1535.4 645.53 1536.94 646.39C1538.49 647.24 1539.68 647.24 1541.05 648.44C1542.42 649.64 1543.62 652.21 1545.17 653.58C1546.71 654.95 1548.59 656.49 1550.3 656.66C1552.02 656.84 1553.56 655.12 1555.44 654.61C1557.33 654.09 1559.55 653.75 1561.61 653.58C1563.66 653.41 1565.72 653.58 1567.78 653.58C1569.83 653.58 1571.72 653.58 1573.94 653.58C1576.17 653.58 1578.74 653.75 1581.14 653.58C1583.53 653.41 1585.76 653.07 1588.33 652.55C1590.9 652.04 1593.81 651.01 1596.55 650.5C1599.29 649.98 1602.38 649.47 1604.77 649.47C1607.17 649.47 1609.23 651.35 1610.94 650.5C1612.65 649.64 1613.51 646.04 1615.05 644.33C1616.59 642.62 1618.48 640.39 1620.19 640.22C1621.9 640.05 1623.45 643.13 1625.33 643.3C1627.21 643.47 1629.27 642.28 1631.5 641.25C1633.72 640.22 1636.29 638.51 1638.69 637.14C1641.09 635.77 1643.32 634.22 1645.88 633.03C1648.45 631.83 1651.37 630.8 1654.11 629.94C1656.85 629.09 1659.59 628.4 1662.33 627.89C1665.07 627.37 1668.15 627.37 1670.55 626.86C1672.95 626.35 1675.69 625.15 1676.72 624.8"/>
<path d="M1506.11 656.66C1506.97 655.29 1509.37 651.18 1511.25 648.44C1513.13 645.7 1515.53 642.1 1517.42 640.22C1519.3 638.34 1520.84 638.34 1522.55 637.14C1524.27 635.94 1526.15 634.74 1527.69 633.03C1529.24 631.31 1530.52 628.14 1531.8 626.86C1533.09 625.57 1534.2 624.46 1535.4 625.32C1536.6 626.17 1537.89 629 1539 632C1540.11 635 1541.05 639.71 1542.08 643.3C1543.11 646.9 1544.14 650.33 1545.17 653.58C1546.19 656.84 1546.88 660.95 1548.25 662.83C1549.62 664.71 1551.67 665.57 1553.39 664.89C1555.1 664.2 1556.98 660.95 1558.53 658.72C1560.07 656.49 1561.1 653.07 1562.64 651.53C1564.18 649.98 1566.06 648.96 1567.78 649.47C1569.49 649.98 1571.2 652.55 1572.91 654.61C1574.63 656.66 1576.34 661.46 1578.05 661.8C1579.77 662.15 1581.48 658.89 1583.19 656.66C1584.91 654.44 1586.45 649.98 1588.33 648.44C1590.22 646.9 1592.44 647.41 1594.5 647.41C1596.55 647.41 1598.61 647.93 1600.66 648.44C1602.72 648.96 1604.77 648.96 1606.83 650.5C1608.89 652.04 1611.11 657.86 1613 657.69C1614.88 657.52 1616.42 651.87 1618.14 649.47C1619.85 647.07 1621.56 643.13 1623.27 643.3C1624.99 643.47 1626.7 648.27 1628.41 650.5C1630.13 652.72 1631.67 653.92 1633.55 656.66C1635.44 659.4 1638.01 663.34 1639.72 666.94C1641.43 670.54 1642.46 676.16 1643.83 678.25C1645.2 680.34 1645.88 679.31 1647.94 679.48C1650 679.65 1653.76 679.57 1656.16 679.27C1658.56 678.98 1660.62 680.82 1662.33 677.73C1664.04 674.65 1665.07 665.49 1666.44 660.77C1667.81 656.06 1669.18 651.18 1670.55 649.47C1671.92 647.76 1673.46 649.64 1674.66 650.5C1675.86 651.35 1677.23 653.92 1677.75 654.61"/>
<path d="M1506.11 650.5C1507.14 649.64 1510.22 647.59 1512.28 645.36C1514.33 643.13 1516.39 638.34 1518.44 637.14C1520.5 635.94 1522.55 637.14 1524.61 638.16C1526.67 639.19 1528.89 640.39 1530.78 643.3C1532.66 646.22 1534.2 652.72 1535.92 655.64C1537.63 658.55 1539.34 659.75 1541.05 660.77C1542.77 661.8 1544.65 664.03 1546.19 661.8C1547.73 659.58 1548.93 650.41 1550.3 647.41C1551.67 644.42 1552.87 643.3 1554.42 643.82C1555.96 644.33 1558.01 648.01 1559.55 650.5C1561.1 652.98 1562.47 659.4 1563.66 658.72C1564.86 658.03 1565.29 650.84 1566.75 646.39C1568.2 641.93 1570.69 633.37 1572.4 632C1574.11 630.63 1575.4 635.42 1577.03 638.16C1578.65 640.91 1580.45 645.36 1582.16 648.44C1583.88 651.53 1585.08 654.61 1587.3 656.66C1589.53 658.72 1592.78 660.77 1595.53 660.77C1598.27 660.77 1601.35 658.72 1603.75 656.66C1606.15 654.61 1607.86 650.67 1609.91 648.44C1611.97 646.22 1614.02 644.84 1616.08 643.3C1618.14 641.76 1620.71 639.19 1622.25 639.19C1623.79 639.19 1623.79 640.73 1625.33 643.3C1626.87 645.87 1629.78 651.18 1631.5 654.61C1633.21 658.03 1634.07 660.43 1635.61 663.86C1637.15 667.28 1639.2 672.25 1640.75 675.16C1642.29 678.08 1644.17 680.3 1644.86 681.33"/>
<path d="M1506.11 645.36C1507.14 644.84 1510.05 643.99 1512.28 642.28C1514.5 640.56 1517.24 635.6 1519.47 635.08C1521.7 634.57 1523.75 637.65 1525.64 639.19C1527.52 640.73 1528.89 642.96 1530.78 644.33C1532.66 645.7 1535.06 646.39 1536.94 647.41C1538.83 648.44 1540.37 649.47 1542.08 650.5C1543.8 651.53 1545.17 653.58 1547.22 653.58C1549.28 653.58 1552.36 650.67 1554.42 650.5C1556.47 650.33 1557.67 651.87 1559.55 652.55C1561.44 653.24 1563.66 654.09 1565.72 654.61C1567.78 655.12 1570.17 654.78 1571.89 655.64C1573.6 656.49 1574.63 660.95 1576 659.75C1577.37 658.55 1578.4 652.38 1580.11 648.44C1581.82 644.5 1584.22 638.94 1586.28 636.11C1588.33 633.28 1590.22 631.83 1592.44 631.48C1594.67 631.14 1597.24 632.94 1599.64 634.05C1602.03 635.17 1604.6 637.14 1606.83 638.16C1609.06 639.19 1611.11 639.88 1613 640.22C1614.88 640.56 1616.25 640.05 1618.14 640.22C1620.02 640.39 1622.25 640.05 1624.3 641.25C1626.36 642.45 1628.58 645.7 1630.47 647.41C1632.35 649.13 1633.38 650.5 1635.61 651.53C1637.83 652.55 1641.26 652.55 1643.83 653.58C1646.4 654.61 1648.8 656.49 1651.02 657.69C1653.25 658.89 1655.31 660.95 1657.19 660.77C1659.07 660.6 1660.79 658.72 1662.33 656.66C1663.87 654.61 1665.07 651.87 1666.44 648.44C1667.81 645.02 1668.84 639.19 1670.55 636.11C1672.26 633.03 1675.69 630.97 1676.72 629.94"/>
<path d="M1506.11 660.77C1507.14 659.58 1510.22 656.49 1512.28 653.58C1514.33 650.67 1516.73 646.22 1518.44 643.3C1520.16 640.39 1521.01 636.97 1522.55 636.11C1524.1 635.25 1525.98 635.77 1527.69 638.16C1529.41 640.56 1531.12 647.24 1532.83 650.5C1534.55 653.75 1536.26 655.98 1537.97 657.69C1539.68 659.4 1541.4 659.75 1543.11 660.77C1544.82 661.8 1546.54 663.86 1548.25 663.86C1549.96 663.86 1551.5 662.32 1553.39 660.77C1555.27 659.23 1557.5 655.98 1559.55 654.61C1561.61 653.24 1563.66 652.72 1565.72 652.55C1567.78 652.38 1569.83 653.24 1571.89 653.58C1573.94 653.92 1576 654.44 1578.05 654.61C1580.11 654.78 1582.16 654.95 1584.22 654.61C1586.28 654.27 1588.16 653.07 1590.39 652.55C1592.61 652.04 1595.01 651.35 1597.58 651.53C1600.15 651.7 1603.58 653.07 1605.8 653.58C1608.03 654.09 1609.23 655.64 1610.94 654.61C1612.65 653.58 1614.2 649.64 1616.08 647.41C1617.96 645.19 1620.53 641.42 1622.25 641.25C1623.96 641.08 1624.82 643.82 1626.36 646.39C1627.9 648.96 1629.78 653.41 1631.5 656.66C1633.21 659.92 1634.92 662.49 1636.64 665.91C1638.35 669.34 1640.23 674.96 1641.77 677.22C1643.32 679.48 1643.83 679.1 1645.88 679.48C1647.94 679.86 1651.37 679.72 1654.11 679.48C1656.85 679.24 1660.27 681.16 1662.33 678.04C1664.38 674.92 1664.9 665.71 1666.44 660.77C1667.98 655.84 1669.87 651.35 1671.58 648.44C1673.29 645.53 1675.86 644.16 1676.72 643.3"/>
</g>
<rect x="169.2" y="941.33" width="19" height="210.67" fill="#000" stroke="#000" stroke-width="2"/>
<rect x="234.1" y="1142.81" width="19" height="9.19" fill="#fff" stroke="#000" stroke-width="2"/>
<rect x="264.1" y="978.93" width="19" height="173.07" fill="#8f8f8f" stroke="#000" stroke-width="2"/>
<rect x="294.7" y="962.15" width="19" height="189.85" fill="#2b2b2b" stroke="#000" stroke-width="2"/>
<rect x="354.1" y="1113.75" width="19" height="38.25" fill="#fff" stroke="#000" stroke-width="2"/>
<rect x="383.8" y="916.32" width="19" height="235.68" fill="#8f8f8f" stroke="#000" stroke-width="2"/>
<rect x="414" y="1003.95" width="19" height="148.05" fill="#2b2b2b" stroke="#000" stroke-width="2"/>
<rect x="474.8" y="1141.32" width="19" height="10.68" fill="#fff" stroke="#000" stroke-width="2"/>
<rect x="504.4" y="1016.98" width="19" height="135.02" fill="#8f8f8f" stroke="#000" stroke-width="2"/>
<rect x="534.9" y="1040.35" width="19" height="111.65" fill="#2b2b2b" stroke="#000" stroke-width="2"/>
<rect x="596.9" y="1152" width="19" height="48.73" fill="#fff" stroke="#000" stroke-width="2"/>
<rect x="626.5" y="1115.25" width="19" height="36.75" fill="#8f8f8f" stroke="#000" stroke-width="2"/>
<rect x="657" y="1031.36" width="19" height="120.64" fill="#2b2b2b" stroke="#000" stroke-width="2"/>
<path d="M178.8 856.98L186.2 864.38L178.8 871.78L171.4 864.38Z" fill="#fff" stroke="#000" stroke-width="2.2" stroke-linejoin="miter"/>
<path d="M178.6 919.15L186 926.55L178.6 933.95L171.2 926.55Z" fill="#fff" stroke="#000" stroke-width="2.2" stroke-linejoin="miter"/>
<path d="M175.4 942.97L182.8 950.37L175.4 957.77L168 950.37Z" fill="#fff" stroke="#000" stroke-width="2.2" stroke-linejoin="miter"/>
<path d="M181.7 961.54L189.1 968.94L181.7 976.34L174.3 968.94Z" fill="#fff" stroke="#000" stroke-width="2.2" stroke-linejoin="miter"/>
<circle cx="243.8" cy="1008.49" r="7.52" fill="#000"/>
<circle cx="240" cy="1140.02" r="7.52" fill="#000"/>
<circle cx="246.3" cy="1156.49" r="7.52" fill="#000"/>
<path d="M273.4 928.18L280.6 941.38L266.2 941.38Z" fill="#fff" stroke="#000" stroke-width="2.2" stroke-linejoin="round"/>
<path d="M270.1 963.09L277.3 976.29L262.9 976.29Z" fill="#fff" stroke="#000" stroke-width="2.2" stroke-linejoin="round"/>
<path d="M273.1 975.82L280.3 989.02L265.9 989.02Z" fill="#fff" stroke="#000" stroke-width="2.2" stroke-linejoin="round"/>
<path d="M277.1 985.56L284.3 998.76L269.9 998.76Z" fill="#fff" stroke="#000" stroke-width="2.2" stroke-linejoin="round"/>
<rect x="296.1" y="857.73" width="14.8" height="14.8" fill="#fff" stroke="#000" stroke-width="2.2"/>
<rect x="292.8" y="941.77" width="14.8" height="14.8" fill="#fff" stroke="#000" stroke-width="2.2"/>
<rect x="299.6" y="962.44" width="14.8" height="14.8" fill="#fff" stroke="#000" stroke-width="2.2"/>
<rect x="296.1" y="1026.86" width="14.8" height="14.8" fill="#fff" stroke="#000" stroke-width="2.2"/>
<circle cx="363.8" cy="900.94" r="7.52" fill="#000"/>
<circle cx="360" cy="1105.71" r="7.52" fill="#000"/>
<circle cx="366.3" cy="1116.95" r="7.52" fill="#000"/>
<circle cx="363.8" cy="1157.99" r="7.52" fill="#000"/>
<path d="M393.1 871.26L400.3 884.46L385.9 884.46Z" fill="#fff" stroke="#000" stroke-width="2.2" stroke-linejoin="round"/>
<path d="M393.1 906.31L400.3 919.51L385.9 919.51Z" fill="#fff" stroke="#000" stroke-width="2.2" stroke-linejoin="round"/>
<path d="M393.1 990.35L400.3 1003.55L385.9 1003.55Z" fill="#fff" stroke="#000" stroke-width="2.2" stroke-linejoin="round"/>
<rect x="416.1" y="937.88" width="14.8" height="14.8" fill="#fff" stroke="#000" stroke-width="2.2"/>
<rect x="412.8" y="984.31" width="14.8" height="14.8" fill="#fff" stroke="#000" stroke-width="2.2"/>
<rect x="419.6" y="1003.04" width="14.8" height="14.8" fill="#fff" stroke="#000" stroke-width="2.2"/>
<rect x="416.1" y="1105.35" width="14.8" height="14.8" fill="#fff" stroke="#000" stroke-width="2.2"/>
<circle cx="484.6" cy="1103.76" r="7.52" fill="#000"/>
<circle cx="481.6" cy="1130.28" r="7.52" fill="#000"/>
<circle cx="488" cy="1145.86" r="7.52" fill="#000"/>
<circle cx="484.5" cy="1196.34" r="7.52" fill="#000"/>
<path d="M513.9 987.8L521.1 1001L506.7 1001Z" fill="#fff" stroke="#000" stroke-width="2.2" stroke-linejoin="round"/>
<path d="M510.9 999.79L518.1 1012.99L503.7 1012.99Z" fill="#fff" stroke="#000" stroke-width="2.2" stroke-linejoin="round"/>
<path d="M517.1 1015.37L524.3 1028.57L509.9 1028.57Z" fill="#fff" stroke="#000" stroke-width="2.2" stroke-linejoin="round"/>
<path d="M513.9 1098.51L521.1 1111.71L506.7 1111.71Z" fill="#fff" stroke="#000" stroke-width="2.2" stroke-linejoin="round"/>
<rect x="536.6" y="986.11" width="14.8" height="14.8" fill="#fff" stroke="#000" stroke-width="2.2"/>
<rect x="533.3" y="1022.66" width="14.8" height="14.8" fill="#fff" stroke="#000" stroke-width="2.2"/>
<rect x="539.1" y="1037.64" width="14.8" height="14.8" fill="#fff" stroke="#000" stroke-width="2.2"/>
<rect x="536.6" y="1035.7" width="14.8" height="14.8" fill="#fff" stroke="#000" stroke-width="2.2"/>
<circle cx="606.9" cy="1144.81" r="7.52" fill="#000"/>
<circle cx="606.9" cy="1196.64" r="7.52" fill="#000"/>
<circle cx="603.8" cy="1209.82" r="7.52" fill="#000"/>
<circle cx="609.9" cy="1223.15" r="7.52" fill="#000"/>
<path d="M636.8 1033.19L644 1046.39L629.6 1046.39Z" fill="#fff" stroke="#000" stroke-width="2.2" stroke-linejoin="round"/>
<path d="M633.4 1099.85L640.6 1113.05L626.2 1113.05Z" fill="#fff" stroke="#000" stroke-width="2.2" stroke-linejoin="round"/>
<path d="M639.8 1110.49L647 1123.69L632.6 1123.69Z" fill="#fff" stroke="#000" stroke-width="2.2" stroke-linejoin="round"/>
<path d="M636.8 1151.38L644 1164.58L629.6 1164.58Z" fill="#fff" stroke="#000" stroke-width="2.2" stroke-linejoin="round"/>
<rect x="656.6" y="1013.67" width="14.8" height="14.8" fill="#fff" stroke="#000" stroke-width="2.2"/>
<rect x="659.6" y="1019.82" width="14.8" height="14.8" fill="#fff" stroke="#000" stroke-width="2.2"/>
<rect x="662.1" y="1023.41" width="14.8" height="14.8" fill="#fff" stroke="#000" stroke-width="2.2"/>
<rect x="659.6" y="1126.62" width="14.8" height="14.8" fill="#fff" stroke="#000" stroke-width="2.2"/>
<line x1="178.7" y1="880.86" x2="178.7" y2="957.26" stroke="#000" stroke-width="1.4"/>
<line x1="174.7" y1="880.86" x2="182.7" y2="880.86" stroke="#000" stroke-width="1.6"/>
<line x1="243.6" y1="1008.19" x2="243.6" y2="1141.81" stroke="#000" stroke-width="1.4"/>
<line x1="239.6" y1="1008.19" x2="247.6" y2="1008.19" stroke="#000" stroke-width="1.6"/>
<line x1="273.6" y1="942.73" x2="273.6" y2="977.93" stroke="#000" stroke-width="1.4"/>
<line x1="269.6" y1="942.73" x2="277.6" y2="942.73" stroke="#000" stroke-width="1.6"/>
<line x1="304.2" y1="886.4" x2="304.2" y2="1018.08" stroke="#000" stroke-width="1.4"/>
<line x1="300.2" y1="1018.08" x2="308.2" y2="1018.08" stroke="#000" stroke-width="1.6"/>
<line x1="300.2" y1="886.4" x2="308.2" y2="886.4" stroke="#000" stroke-width="1.6"/>
<line x1="363.6" y1="954.11" x2="363.6" y2="1147.06" stroke="#000" stroke-width="1.4"/>
<line x1="359.6" y1="1147.06" x2="367.6" y2="1147.06" stroke="#000" stroke-width="1.6"/>
<line x1="359.6" y1="954.11" x2="367.6" y2="954.11" stroke="#000" stroke-width="1.6"/>
<line x1="393.3" y1="877.12" x2="393.3" y2="995.16" stroke="#000" stroke-width="1.4"/>
<line x1="389.3" y1="995.16" x2="397.3" y2="995.16" stroke="#000" stroke-width="1.6"/>
<line x1="389.3" y1="877.12" x2="397.3" y2="877.12" stroke="#000" stroke-width="1.6"/>
<line x1="423.5" y1="957.86" x2="423.5" y2="1086.09" stroke="#000" stroke-width="1.4"/>
<line x1="419.5" y1="1086.09" x2="427.5" y2="1086.09" stroke="#000" stroke-width="1.6"/>
<line x1="419.5" y1="957.86" x2="427.5" y2="957.86" stroke="#000" stroke-width="1.6"/>
<line x1="484.3" y1="1110.81" x2="484.3" y2="1181.96" stroke="#000" stroke-width="1.4"/>
<line x1="480.3" y1="1181.96" x2="488.3" y2="1181.96" stroke="#000" stroke-width="1.6"/>
<line x1="480.3" y1="1110.81" x2="488.3" y2="1110.81" stroke="#000" stroke-width="1.6"/>
<line x1="513.9" y1="1001.3" x2="513.9" y2="1084.14" stroke="#000" stroke-width="1.4"/>
<line x1="509.9" y1="1084.14" x2="517.9" y2="1084.14" stroke="#000" stroke-width="1.6"/>
<line x1="509.9" y1="1001.3" x2="517.9" y2="1001.3" stroke="#000" stroke-width="1.6"/>
<line x1="544.4" y1="1003.55" x2="544.4" y2="1045.04" stroke="#000" stroke-width="1.4"/>
<line x1="540.4" y1="1045.04" x2="548.4" y2="1045.04" stroke="#000" stroke-width="1.6"/>
<line x1="540.4" y1="1003.55" x2="548.4" y2="1003.55" stroke="#000" stroke-width="1.6"/>
<line x1="606.4" y1="1159.94" x2="606.4" y2="1222.41" stroke="#000" stroke-width="1.4"/>
<line x1="602.4" y1="1159.94" x2="610.4" y2="1159.94" stroke="#000" stroke-width="1.6"/>
<line x1="636" y1="1057.63" x2="636" y2="1146.91" stroke="#000" stroke-width="1.4"/>
<line x1="632" y1="1146.91" x2="640" y2="1146.91" stroke="#000" stroke-width="1.6"/>
<line x1="632" y1="1057.63" x2="640" y2="1057.63" stroke="#000" stroke-width="1.6"/>
<line x1="666.5" y1="1023.47" x2="666.5" y2="1108.11" stroke="#000" stroke-width="1.4"/>
<line x1="662.5" y1="1108.11" x2="670.5" y2="1108.11" stroke="#000" stroke-width="1.6"/>
<line x1="662.5" y1="1023.47" x2="670.5" y2="1023.47" stroke="#000" stroke-width="1.6"/>
<path d="M138.6 852.4V1226.9" stroke="#000" stroke-width="2.2" fill="none"/>
<line x1="127.1" y1="1152" x2="702" y2="1152" stroke="#000" stroke-width="2"/>
<line x1="127.1" y1="1226.9" x2="138.6" y2="1226.9" stroke="#000" stroke-width="1.9"/>
<text x="121.6" y="1235.2" font-size="23.5" text-anchor="end">–0.5</text>
<line x1="127.1" y1="1152" x2="138.6" y2="1152" stroke="#000" stroke-width="1.9"/>
<text x="121.6" y="1160.3" font-size="23.5" text-anchor="end">0.0</text>
<line x1="127.1" y1="1077.1" x2="138.6" y2="1077.1" stroke="#000" stroke-width="1.9"/>
<text x="121.6" y="1085.4" font-size="23.5" text-anchor="end">0.5</text>
<line x1="127.1" y1="1002.2" x2="138.6" y2="1002.2" stroke="#000" stroke-width="1.9"/>
<text x="121.6" y="1010.5" font-size="23.5" text-anchor="end">1.0</text>
<line x1="127.1" y1="927.3" x2="138.6" y2="927.3" stroke="#000" stroke-width="1.9"/>
<text x="121.6" y="935.6" font-size="23.5" text-anchor="end">1.5</text>
<line x1="127.1" y1="852.4" x2="138.6" y2="852.4" stroke="#000" stroke-width="1.9"/>
<text x="121.6" y="860.7" font-size="23.5" text-anchor="end">2.0</text>
<line x1="179" y1="1152" x2="179" y2="1165" stroke="#000" stroke-width="2.1"/>
<text x="179" y="1184" font-size="19.5" text-anchor="middle">0</text>
<line x1="273" y1="1152" x2="273" y2="1165" stroke="#000" stroke-width="2.1"/>
<text x="273" y="1184" font-size="19.5" text-anchor="middle">3</text>
<line x1="393" y1="1152" x2="393" y2="1165" stroke="#000" stroke-width="2.1"/>
<text x="393" y="1184" font-size="19.5" text-anchor="middle">4</text>
<line x1="513.5" y1="1152" x2="513.5" y2="1165" stroke="#000" stroke-width="2.1"/>
<text x="513.5" y="1184" font-size="19.5" text-anchor="middle">5</text>
<line x1="636.5" y1="1152" x2="636.5" y2="1165" stroke="#000" stroke-width="2.1"/>
<text x="636.5" y="1184" font-size="19.5" text-anchor="middle">6</text>
<text transform="translate(257.75 846.19) rotate(-90)" font-size="26" font-weight="bold">*</text>
<text transform="translate(257.75 834.12) rotate(-90)" font-size="26" font-weight="bold">*</text>
<text transform="translate(376.65 846.19) rotate(-90)" font-size="26" font-weight="bold">*</text>
<text transform="translate(376.65 834.12) rotate(-90)" font-size="26" font-weight="bold">*</text>
<text transform="translate(498.25 846.19) rotate(-90)" font-size="26" font-weight="bold">*</text>
<text transform="translate(498.25 834.12) rotate(-90)" font-size="26" font-weight="bold">*</text>
<text transform="translate(498.25 822.05) rotate(-90)" font-size="26" font-weight="bold">*</text>
<text transform="translate(498.25 809.98) rotate(-90)" font-size="26" font-weight="bold">*</text>
<text transform="translate(620.35 846.19) rotate(-90)" font-size="26" font-weight="bold">*</text>
<text transform="translate(620.35 834.12) rotate(-90)" font-size="26" font-weight="bold">*</text>
<text transform="translate(620.35 822.05) rotate(-90)" font-size="26" font-weight="bold">*</text>
<text transform="translate(620.35 809.98) rotate(-90)" font-size="26" font-weight="bold">*</text>
<text transform="translate(649.45 846.19) rotate(-90)" font-size="26" font-weight="bold">*</text>
<text transform="translate(649.45 834.12) rotate(-90)" font-size="26" font-weight="bold">*</text>
<text transform="translate(649.45 822.05) rotate(-90)" font-size="26" font-weight="bold">*</text>
<text transform="translate(679.05 846.19) rotate(-90)" font-size="26" font-weight="bold">*</text>
<rect x="1191.2" y="983.85" width="19" height="166.55" fill="#000" stroke="#000" stroke-width="2"/>
<rect x="1257.1" y="1133.15" width="19" height="17.25" fill="#fff" stroke="#0f4a5e" stroke-width="2"/>
<rect x="1287.7" y="1135.99" width="19" height="14.41" fill="#9ec0e6" stroke="#0f4a5e" stroke-width="2"/>
<rect x="1318.8" y="1053.26" width="19" height="97.14" fill="#2f8196" stroke="#0f4a5e" stroke-width="2"/>
<rect x="1377.3" y="1142.57" width="19" height="7.83" fill="#fff" stroke="#0f4a5e" stroke-width="2"/>
<rect x="1406.7" y="1150.4" width="19" height="23.68" fill="#9ec0e6" stroke="#0f4a5e" stroke-width="2"/>
<rect x="1436.5" y="1149.6" width="19" height="0.8" fill="#2f8196" stroke="#0f4a5e" stroke-width="2"/>
<rect x="1496.3" y="1125.52" width="19" height="24.88" fill="#fff" stroke="#0f4a5e" stroke-width="2"/>
<rect x="1526" y="1115.2" width="19" height="35.2" fill="#9ec0e6" stroke="#0f4a5e" stroke-width="2"/>
<rect x="1556.2" y="1134.2" width="19" height="16.2" fill="#2f8196" stroke="#0f4a5e" stroke-width="2"/>
<rect x="1615.5" y="1134.05" width="19" height="16.35" fill="#fff" stroke="#0f4a5e" stroke-width="2"/>
<rect x="1646" y="1150.4" width="19" height="1.99" fill="#9ec0e6" stroke="#0f4a5e" stroke-width="2"/>
<rect x="1675.3" y="1150.4" width="19" height="38.79" fill="#2f8196" stroke="#0f4a5e" stroke-width="2"/>
<path d="M1200.8 880.15L1208.2 887.55L1200.8 894.95L1193.4 887.55Z" fill="#fff" stroke="#000" stroke-width="2.2" stroke-linejoin="miter"/>
<path d="M1200.8 954.06L1208.2 961.46L1200.8 968.86L1193.4 961.46Z" fill="#fff" stroke="#000" stroke-width="2.2" stroke-linejoin="miter"/>
<path d="M1200.8 992.95L1208.2 1000.35L1200.8 1007.75L1193.4 1000.35Z" fill="#fff" stroke="#000" stroke-width="2.2" stroke-linejoin="miter"/>
<path d="M1200.8 1030.05L1208.2 1037.45L1200.8 1044.85L1193.4 1037.45Z" fill="#fff" stroke="#000" stroke-width="2.2" stroke-linejoin="miter"/>
<circle cx="1267.6" cy="1088.02" r="7.52" fill="#0f4a5e"/>
<circle cx="1264.3" cy="1127.51" r="7.52" fill="#0f4a5e"/>
<circle cx="1267.4" cy="1135.44" r="7.52" fill="#0f4a5e"/>
<circle cx="1270.6" cy="1141.57" r="7.52" fill="#0f4a5e"/>
<path d="M1297.2 1073.48L1304.4 1086.68L1290 1086.68Z" fill="#fff" stroke="#0f4a5e" stroke-width="2.2" stroke-linejoin="round"/>
<path d="M1297.2 1115.07L1304.4 1128.27L1290 1128.27Z" fill="#fff" stroke="#0f4a5e" stroke-width="2.2" stroke-linejoin="round"/>
<path d="M1294.8 1136.76L1302 1149.96L1287.6 1149.96Z" fill="#fff" stroke="#0f4a5e" stroke-width="2.2" stroke-linejoin="round"/>
<path d="M1301.1 1144.24L1308.3 1157.44L1293.9 1157.44Z" fill="#fff" stroke="#0f4a5e" stroke-width="2.2" stroke-linejoin="round"/>
<rect x="1320" y="1004.92" width="14.8" height="14.8" fill="#fff" stroke="#0f4a5e" stroke-width="2.2"/>
<rect x="1316.4" y="1040.22" width="14.8" height="14.8" fill="#fff" stroke="#0f4a5e" stroke-width="2.2"/>
<rect x="1323.5" y="1052.34" width="14.8" height="14.8" fill="#fff" stroke="#0f4a5e" stroke-width="2.2"/>
<rect x="1319.6" y="1135.07" width="14.8" height="14.8" fill="#fff" stroke="#0f4a5e" stroke-width="2.2"/>
<circle cx="1386.6" cy="1128.11" r="7.52" fill="#0f4a5e"/>
<circle cx="1383.5" cy="1134.39" r="7.52" fill="#0f4a5e"/>
<circle cx="1386.9" cy="1144.42" r="7.52" fill="#0f4a5e"/>
<circle cx="1389.5" cy="1156.08" r="7.52" fill="#0f4a5e"/>
<path d="M1416.5 1124.94L1423.7 1138.14L1409.3 1138.14Z" fill="#fff" stroke="#0f4a5e" stroke-width="2.2" stroke-linejoin="round"/>
<path d="M1416.5 1147.53L1423.7 1160.73L1409.3 1160.73Z" fill="#fff" stroke="#0f4a5e" stroke-width="2.2" stroke-linejoin="round"/>
<path d="M1416.5 1190.92L1423.7 1204.12L1409.3 1204.12Z" fill="#fff" stroke="#0f4a5e" stroke-width="2.2" stroke-linejoin="round"/>
<rect x="1439.2" y="1096.47" width="14.8" height="14.8" fill="#fff" stroke="#0f4a5e" stroke-width="2.2"/>
<rect x="1435.6" y="1139.71" width="14.8" height="14.8" fill="#fff" stroke="#0f4a5e" stroke-width="2.2"/>
<rect x="1439.2" y="1150.48" width="14.8" height="14.8" fill="#fff" stroke="#0f4a5e" stroke-width="2.2"/>
<rect x="1442" y="1152.28" width="14.8" height="14.8" fill="#fff" stroke="#0f4a5e" stroke-width="2.2"/>
<circle cx="1505.9" cy="1092.06" r="7.52" fill="#0f4a5e"/>
<circle cx="1503" cy="1120.03" r="7.52" fill="#0f4a5e"/>
<circle cx="1508.9" cy="1126.31" r="7.52" fill="#0f4a5e"/>
<circle cx="1505.9" cy="1175.08" r="7.52" fill="#0f4a5e"/>
<path d="M1532.9 1091.73L1540.1 1104.93L1525.7 1104.93Z" fill="#fff" stroke="#0f4a5e" stroke-width="2.2" stroke-linejoin="round"/>
<path d="M1536.5 1104.3L1543.7 1117.5L1529.3 1117.5Z" fill="#fff" stroke="#0f4a5e" stroke-width="2.2" stroke-linejoin="round"/>
<path d="M1538.3 1106.99L1545.5 1120.19L1531.1 1120.19Z" fill="#fff" stroke="#0f4a5e" stroke-width="2.2" stroke-linejoin="round"/>
<path d="M1535.4 1183.58L1542.6 1196.78L1528.2 1196.78Z" fill="#fff" stroke="#0f4a5e" stroke-width="2.2" stroke-linejoin="round"/>
<rect x="1555.3" y="1102.76" width="14.8" height="14.8" fill="#fff" stroke="#0f4a5e" stroke-width="2.2"/>
<rect x="1559.2" y="1120.71" width="14.8" height="14.8" fill="#fff" stroke="#0f4a5e" stroke-width="2.2"/>
<rect x="1562" y="1123.1" width="14.8" height="14.8" fill="#fff" stroke="#0f4a5e" stroke-width="2.2"/>
<rect x="1558.3" y="1168.13" width="14.8" height="14.8" fill="#fff" stroke="#0f4a5e" stroke-width="2.2"/>
<circle cx="1625.2" cy="1095.2" r="7.52" fill="#0f4a5e"/>
<circle cx="1625.2" cy="1124.97" r="7.52" fill="#0f4a5e"/>
<circle cx="1622.3" cy="1137.24" r="7.52" fill="#0f4a5e"/>
<circle cx="1628.6" cy="1156.68" r="7.52" fill="#0f4a5e"/>
<path d="M1652.3 1137.81L1659.5 1151.01L1645.1 1151.01Z" fill="#fff" stroke="#0f4a5e" stroke-width="2.2" stroke-linejoin="round"/>
<path d="M1655.5 1139L1662.7 1152.2L1648.3 1152.2Z" fill="#fff" stroke="#0f4a5e" stroke-width="2.2" stroke-linejoin="round"/>
<path d="M1658.2 1152.92L1665.4 1166.12L1651 1166.12Z" fill="#fff" stroke="#0f4a5e" stroke-width="2.2" stroke-linejoin="round"/>
<path d="M1655.5 1179.25L1662.7 1192.45L1648.3 1192.45Z" fill="#fff" stroke="#0f4a5e" stroke-width="2.2" stroke-linejoin="round"/>
<rect x="1677.7" y="1055.18" width="14.8" height="14.8" fill="#fff" stroke="#0f4a5e" stroke-width="2.2"/>
<rect x="1677.7" y="1149.88" width="14.8" height="14.8" fill="#fff" stroke="#0f4a5e" stroke-width="2.2"/>
<line x1="1200.7" y1="906.55" x2="1200.7" y2="1005.29" stroke="#000" stroke-width="1.4"/>
<line x1="1196.7" y1="906.55" x2="1204.7" y2="906.55" stroke="#000" stroke-width="1.6"/>
<line x1="1266.6" y1="1098.49" x2="1266.6" y2="1132.15" stroke="#0f4a5e" stroke-width="1.4"/>
<line x1="1262.6" y1="1098.49" x2="1270.6" y2="1098.49" stroke="#0f4a5e" stroke-width="1.6"/>
<line x1="1297.2" y1="1091.16" x2="1297.2" y2="1134.99" stroke="#0f4a5e" stroke-width="1.4"/>
<line x1="1293.2" y1="1091.16" x2="1301.2" y2="1091.16" stroke="#0f4a5e" stroke-width="1.6"/>
<line x1="1328.3" y1="1022.19" x2="1328.3" y2="1122.42" stroke="#0f4a5e" stroke-width="1.4"/>
<line x1="1324.3" y1="1122.42" x2="1332.3" y2="1122.42" stroke="#0f4a5e" stroke-width="1.6"/>
<line x1="1324.3" y1="1022.19" x2="1332.3" y2="1022.19" stroke="#0f4a5e" stroke-width="1.6"/>
<line x1="1386.8" y1="1130.95" x2="1386.8" y2="1141.57" stroke="#0f4a5e" stroke-width="1.4"/>
<line x1="1382.8" y1="1130.95" x2="1390.8" y2="1130.95" stroke="#0f4a5e" stroke-width="1.6"/>
<line x1="1416.2" y1="1141.42" x2="1416.2" y2="1225.2" stroke="#0f4a5e" stroke-width="1.4"/>
<line x1="1412.2" y1="1225.2" x2="1420.2" y2="1225.2" stroke="#0f4a5e" stroke-width="1.6"/>
<line x1="1446" y1="1115.54" x2="1446" y2="1157.88" stroke="#0f4a5e" stroke-width="1.4"/>
<line x1="1442" y1="1157.88" x2="1450" y2="1157.88" stroke="#0f4a5e" stroke-width="1.6"/>
<line x1="1442" y1="1115.54" x2="1450" y2="1115.54" stroke="#0f4a5e" stroke-width="1.6"/>
<line x1="1505.8" y1="1100.13" x2="1505.8" y2="1162.97" stroke="#0f4a5e" stroke-width="1.4"/>
<line x1="1501.8" y1="1162.97" x2="1509.8" y2="1162.97" stroke="#0f4a5e" stroke-width="1.6"/>
<line x1="1501.8" y1="1100.13" x2="1509.8" y2="1100.13" stroke="#0f4a5e" stroke-width="1.6"/>
<line x1="1535.5" y1="1102.08" x2="1535.5" y2="1168.35" stroke="#0f4a5e" stroke-width="1.4"/>
<line x1="1531.5" y1="1168.35" x2="1539.5" y2="1168.35" stroke="#0f4a5e" stroke-width="1.6"/>
<line x1="1531.5" y1="1102.08" x2="1539.5" y2="1102.08" stroke="#0f4a5e" stroke-width="1.6"/>
<line x1="1565.7" y1="1115.54" x2="1565.7" y2="1163.27" stroke="#0f4a5e" stroke-width="1.4"/>
<line x1="1561.7" y1="1163.27" x2="1569.7" y2="1163.27" stroke="#0f4a5e" stroke-width="1.6"/>
<line x1="1561.7" y1="1115.54" x2="1569.7" y2="1115.54" stroke="#0f4a5e" stroke-width="1.6"/>
<line x1="1625" y1="1103.28" x2="1625" y2="1133.05" stroke="#0f4a5e" stroke-width="1.4"/>
<line x1="1621" y1="1103.28" x2="1629" y2="1103.28" stroke="#0f4a5e" stroke-width="1.6"/>
<line x1="1655.5" y1="1142.92" x2="1655.5" y2="1165.36" stroke="#0f4a5e" stroke-width="1.4"/>
<line x1="1651.5" y1="1165.36" x2="1659.5" y2="1165.36" stroke="#0f4a5e" stroke-width="1.6"/>
<line x1="1651.5" y1="1142.92" x2="1659.5" y2="1142.92" stroke="#0f4a5e" stroke-width="1.6"/>
<line x1="1684.8" y1="1087.87" x2="1684.8" y2="1224.9" stroke="#0f4a5e" stroke-width="1.4"/>
<line x1="1680.8" y1="1224.9" x2="1688.8" y2="1224.9" stroke="#0f4a5e" stroke-width="1.6"/>
<line x1="1680.8" y1="1087.87" x2="1688.8" y2="1087.87" stroke="#0f4a5e" stroke-width="1.6"/>
<path d="M1160.4 851.2V1225.2" stroke="#000" stroke-width="2.2" fill="none"/>
<line x1="1148.9" y1="1150.4" x2="1723" y2="1150.4" stroke="#000" stroke-width="2"/>
<line x1="1148.9" y1="1225.2" x2="1160.4" y2="1225.2" stroke="#000" stroke-width="1.9"/>
<text x="1143.4" y="1233.5" font-size="23.5" text-anchor="end">–0.5</text>
<line x1="1148.9" y1="1150.4" x2="1160.4" y2="1150.4" stroke="#000" stroke-width="1.9"/>
<text x="1143.4" y="1158.7" font-size="23.5" text-anchor="end">0.0</text>
<line x1="1148.9" y1="1075.6" x2="1160.4" y2="1075.6" stroke="#000" stroke-width="1.9"/>
<text x="1143.4" y="1083.9" font-size="23.5" text-anchor="end">0.5</text>
<line x1="1148.9" y1="1000.8" x2="1160.4" y2="1000.8" stroke="#000" stroke-width="1.9"/>
<text x="1143.4" y="1009.1" font-size="23.5" text-anchor="end">1.0</text>
<line x1="1148.9" y1="926" x2="1160.4" y2="926" stroke="#000" stroke-width="1.9"/>
<text x="1143.4" y="934.3" font-size="23.5" text-anchor="end">1.5</text>
<line x1="1148.9" y1="851.2" x2="1160.4" y2="851.2" stroke="#000" stroke-width="1.9"/>
<text x="1143.4" y="859.5" font-size="23.5" text-anchor="end">2.0</text>
<line x1="1200.4" y1="1150.4" x2="1200.4" y2="1163.4" stroke="#000" stroke-width="2.1"/>
<text x="1200.4" y="1182.4" font-size="19.5" text-anchor="middle">0</text>
<line x1="1294.9" y1="1150.4" x2="1294.9" y2="1162.4" stroke="#000" stroke-width="2.1"/>
<text x="1294.9" y="1182.4" font-size="15.5" text-anchor="middle">3</text>
<line x1="1414.6" y1="1150.4" x2="1414.6" y2="1162.9" stroke="#000" stroke-width="2.1"/>
<text x="1414.6" y="1182.4" font-size="19.5" text-anchor="middle">4</text>
<line x1="1535.2" y1="1150.4" x2="1535.2" y2="1162.9" stroke="#000" stroke-width="2.1"/>
<text x="1535.2" y="1182.4" font-size="19.5" text-anchor="middle">5</text>
<line x1="1657.8" y1="1150.4" x2="1657.8" y2="1162.9" stroke="#000" stroke-width="2.1"/>
<text x="1657.8" y="1182.4" font-size="19.5" text-anchor="middle">6</text>
<text transform="translate(1280.35 846.19) rotate(-90)" font-size="26" font-weight="bold">*</text>
<text transform="translate(1280.35 834.12) rotate(-90)" font-size="26" font-weight="bold">*</text>
<text transform="translate(1280.35 822.05) rotate(-90)" font-size="26" font-weight="bold">*</text>
<text transform="translate(1310.45 846.19) rotate(-90)" font-size="26" font-weight="bold">*</text>
<text transform="translate(1310.45 834.12) rotate(-90)" font-size="26" font-weight="bold">*</text>
<text transform="translate(1310.45 822.05) rotate(-90)" font-size="26" font-weight="bold">*</text>
<text transform="translate(1340.55 846.19) rotate(-90)" font-size="26" font-weight="bold">*</text>
<text transform="translate(1399.05 846.19) rotate(-90)" font-size="26" font-weight="bold">*</text>
<text transform="translate(1399.05 834.12) rotate(-90)" font-size="26" font-weight="bold">*</text>
<text transform="translate(1399.05 822.05) rotate(-90)" font-size="26" font-weight="bold">*</text>
<text transform="translate(1399.05 809.98) rotate(-90)" font-size="26" font-weight="bold">*</text>
<text transform="translate(1429.05 846.19) rotate(-90)" font-size="26" font-weight="bold">*</text>
<text transform="translate(1429.05 834.12) rotate(-90)" font-size="26" font-weight="bold">*</text>
<text transform="translate(1429.05 822.05) rotate(-90)" font-size="26" font-weight="bold">*</text>
<text transform="translate(1429.05 809.98) rotate(-90)" font-size="26" font-weight="bold">*</text>
<text transform="translate(1459.15 846.19) rotate(-90)" font-size="26" font-weight="bold">*</text>
<text transform="translate(1459.15 834.12) rotate(-90)" font-size="26" font-weight="bold">*</text>
<text transform="translate(1459.15 822.05) rotate(-90)" font-size="26" font-weight="bold">*</text>
<text transform="translate(1459.15 809.98) rotate(-90)" font-size="26" font-weight="bold">*</text>
<text transform="translate(1518.55 846.19) rotate(-90)" font-size="26" font-weight="bold">*</text>
<text transform="translate(1518.55 834.12) rotate(-90)" font-size="26" font-weight="bold">*</text>
<text transform="translate(1518.55 822.05) rotate(-90)" font-size="26" font-weight="bold">*</text>
<text transform="translate(1518.55 809.98) rotate(-90)" font-size="26" font-weight="bold">*</text>
<text transform="translate(1549.35 846.19) rotate(-90)" font-size="26" font-weight="bold">*</text>
<text transform="translate(1549.35 834.12) rotate(-90)" font-size="26" font-weight="bold">*</text>
<text transform="translate(1549.35 822.05) rotate(-90)" font-size="26" font-weight="bold">*</text>
<text transform="translate(1549.35 809.98) rotate(-90)" font-size="26" font-weight="bold">*</text>
<text transform="translate(1580.35 846.19) rotate(-90)" font-size="26" font-weight="bold">*</text>
<text transform="translate(1580.35 834.12) rotate(-90)" font-size="26" font-weight="bold">*</text>
<text transform="translate(1580.35 822.05) rotate(-90)" font-size="26" font-weight="bold">*</text>
<text transform="translate(1580.35 809.98) rotate(-90)" font-size="26" font-weight="bold">*</text>
<text transform="translate(1638.85 846.19) rotate(-90)" font-size="26" font-weight="bold">*</text>
<text transform="translate(1638.85 834.12) rotate(-90)" font-size="26" font-weight="bold">*</text>
<text transform="translate(1638.85 822.05) rotate(-90)" font-size="26" font-weight="bold">*</text>
<text transform="translate(1638.85 809.98) rotate(-90)" font-size="26" font-weight="bold">*</text>
<text transform="translate(1668.95 846.19) rotate(-90)" font-size="26" font-weight="bold">*</text>
<text transform="translate(1668.95 834.12) rotate(-90)" font-size="26" font-weight="bold">*</text>
<text transform="translate(1668.95 822.05) rotate(-90)" font-size="26" font-weight="bold">*</text>
<text transform="translate(1668.95 809.98) rotate(-90)" font-size="26" font-weight="bold">*</text>
<text transform="translate(1699.05 846.19) rotate(-90)" font-size="26" font-weight="bold">*</text>
<text transform="translate(1699.05 834.12) rotate(-90)" font-size="26" font-weight="bold">*</text>
<text transform="translate(1699.05 822.05) rotate(-90)" font-size="26" font-weight="bold">*</text>
<text transform="translate(1699.05 809.98) rotate(-90)" font-size="26" font-weight="bold">*</text>
<text x="3" y="814.4" font-size="38" font-weight="bold" text-anchor="start">c</text>
<text x="995.5" y="813.7" font-size="37" font-weight="bold" text-anchor="start">d</text>
<text transform="translate(69.6 1041.5) rotate(-90)" font-size="23.5" font-weight="bold" text-anchor="middle">Fever (<tspan font-size="14" dy="-8.5">o</tspan><tspan dy="8.5">C)</tspan></text>
<text transform="translate(1092.2 1039.5) rotate(-90)" font-size="24.3" font-weight="bold" text-anchor="middle">Fever (<tspan font-size="14" dy="-8.5">o</tspan><tspan dy="8.5">C)</tspan></text>
<text x="410" y="1267.6" font-size="23.8" font-weight="bold" text-anchor="middle">Dose (Log<tspan font-size="14" dy="7.5">10</tspan><tspan dy="-7.5"> FFU)</tspan></text>
<text x="1430" y="1266" font-size="23.8" font-weight="bold" text-anchor="middle">Dose (Log<tspan font-size="14" dy="7.5">10</tspan><tspan dy="-7.5"> FFU)</tspan></text>
<path d="M768.5 878.9L776.4 886.8L768.5 894.7L760.6 886.8Z" fill="#fff" stroke="#000" stroke-width="2.2" stroke-linejoin="miter"/>
<text x="793" y="895.8" font-size="23.9" text-anchor="start">Unvaccinated</text>
<circle cx="768.5" cy="935.7" r="7.99" fill="#000"/>
<text x="793" y="944.7" font-size="23.9" text-anchor="start">Monovalent</text>
<path d="M768.5 976.47L776.15 990.49L760.85 990.49Z" fill="#fff" stroke="#000" stroke-width="2.2" stroke-linejoin="round"/>
<text x="793" y="993.6" font-size="23.9" text-anchor="start">Trivalent</text>
<rect x="760.6" y="1025.6" width="15.8" height="15.8" fill="#fff" stroke="#000" stroke-width="2.2"/>
<text x="793" y="1042.5" font-size="23.9" text-anchor="start">Quadrivalent</text>
<path d="M1777.5 878.1L1785.4 886L1777.5 893.9L1769.6 886Z" fill="#fff" stroke="#000" stroke-width="2.2" stroke-linejoin="miter"/>
<text x="1802" y="895" font-size="23.9" text-anchor="start">Unvaccinated</text>
<circle cx="1777.5" cy="934.9" r="7.99" fill="#0f4a5e"/>
<text x="1802" y="943.9" font-size="23.9" text-anchor="start">Monovalent</text>
<path d="M1777.5 975.67L1785.15 989.69L1769.85 989.69Z" fill="#fff" stroke="#0f4a5e" stroke-width="2.2" stroke-linejoin="round"/>
<text x="1802" y="992.8" font-size="23.9" text-anchor="start">Trivalent</text>
<rect x="1769.6" y="1024.8" width="15.8" height="15.8" fill="#fff" stroke="#0f4a5e" stroke-width="2.2"/>
<text x="1802" y="1041.7" font-size="23.9" text-anchor="start">Quadrivalent</text>
</svg>
</body></html>
